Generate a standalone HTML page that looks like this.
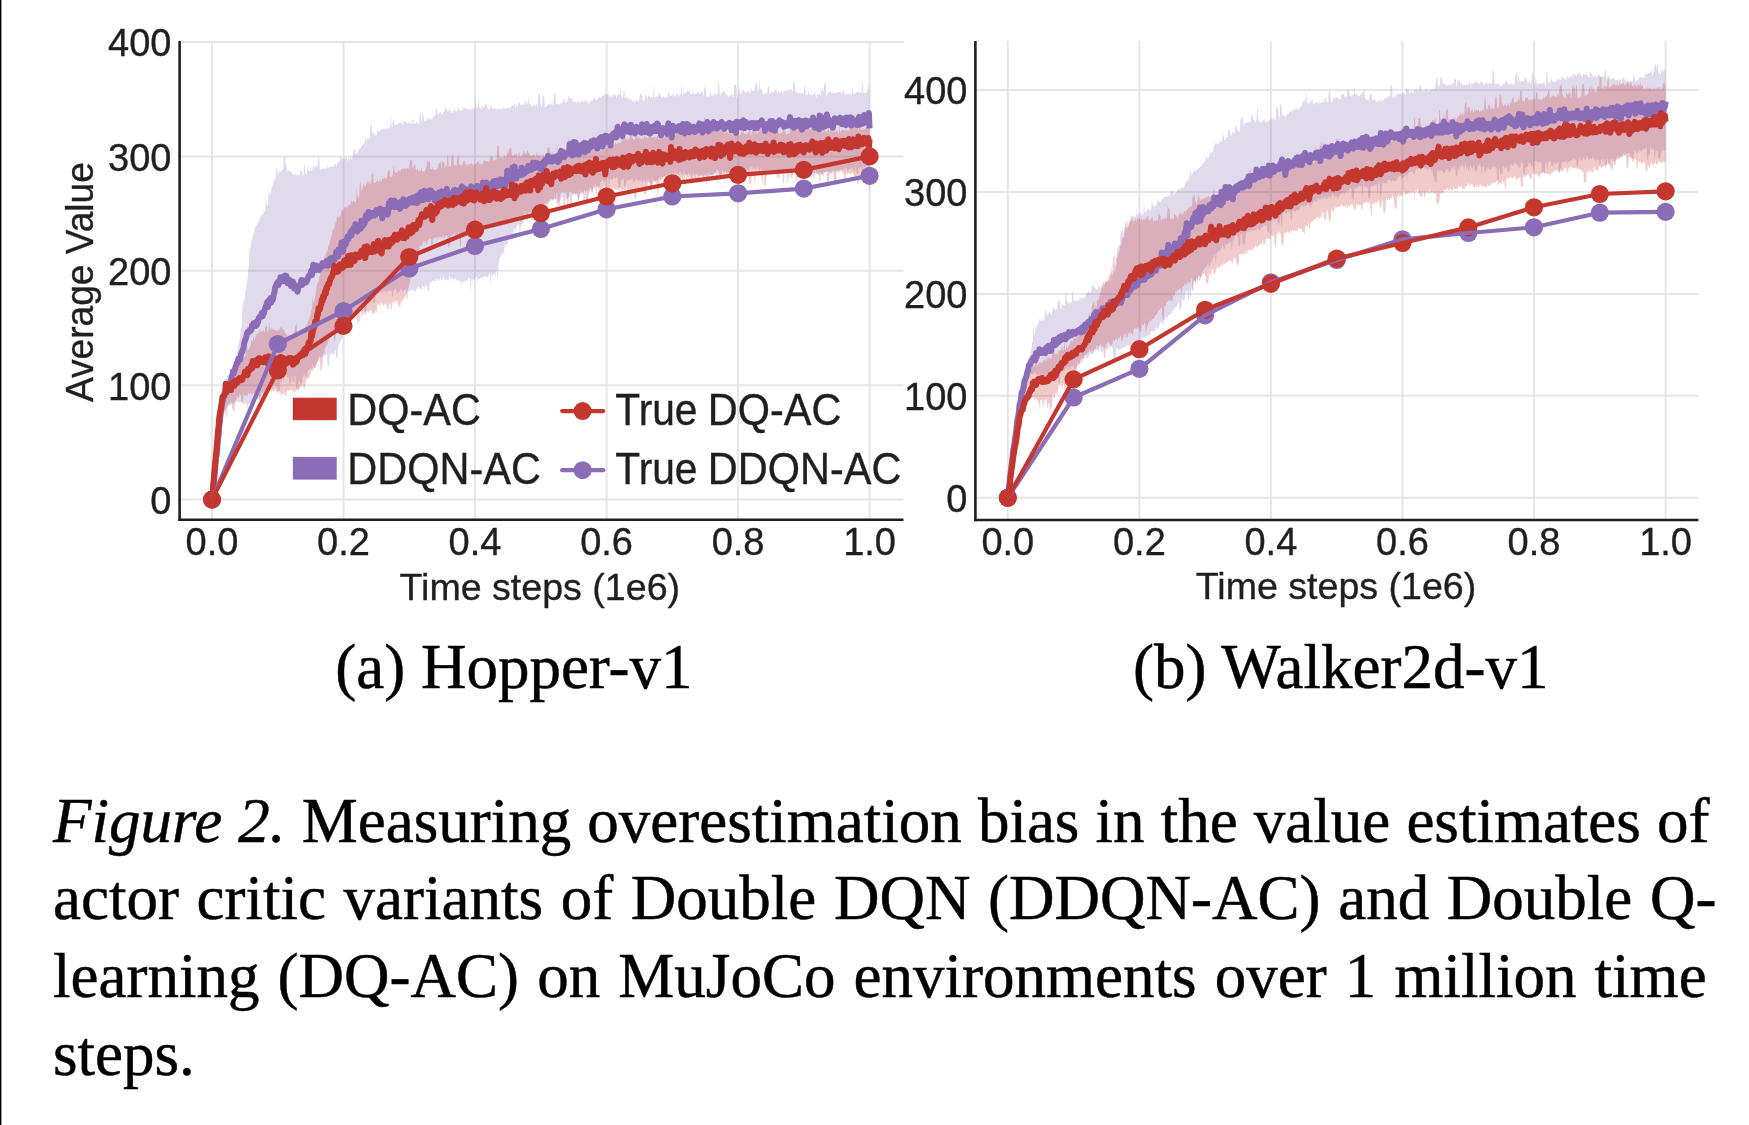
<!DOCTYPE html>
<html><head><meta charset="utf-8"><style>
html,body{margin:0;padding:0;background:#fff;}
svg,.cap{will-change:transform;}
body{width:1749px;height:1125px;position:relative;overflow:hidden;}
svg{position:absolute;left:0;top:0;}
.cap{position:absolute;left:53px;width:1660px;font-family:"Liberation Serif",serif;font-size:63px;color:#000;
 text-align:justify;text-align-last:justify;white-space:nowrap;line-height:1;-webkit-text-stroke:0.5px #000;}
.cap1{text-align-last:left;}
</style></head><body>
<svg width="1749" height="1125" viewBox="0 0 1749 1125">
<rect x="0" y="0" width="1.4" height="1125" fill="#000"/>

<line x1="212" y1="41" x2="212" y2="519.8" stroke="#e6e6e6" stroke-width="2"/>
<line x1="343.5" y1="41" x2="343.5" y2="519.8" stroke="#e6e6e6" stroke-width="2"/>
<line x1="475" y1="41" x2="475" y2="519.8" stroke="#e6e6e6" stroke-width="2"/>
<line x1="606.6" y1="41" x2="606.6" y2="519.8" stroke="#e6e6e6" stroke-width="2"/>
<line x1="738.1" y1="41" x2="738.1" y2="519.8" stroke="#e6e6e6" stroke-width="2"/>
<line x1="869.6" y1="41" x2="869.6" y2="519.8" stroke="#e6e6e6" stroke-width="2"/>
<line x1="180.4" y1="499.6" x2="903.5" y2="499.6" stroke="#e6e6e6" stroke-width="2"/>
<line x1="180.4" y1="385.2" x2="903.5" y2="385.2" stroke="#e6e6e6" stroke-width="2"/>
<line x1="180.4" y1="270.8" x2="903.5" y2="270.8" stroke="#e6e6e6" stroke-width="2"/>
<line x1="180.4" y1="156.4" x2="903.5" y2="156.4" stroke="#e6e6e6" stroke-width="2"/>
<line x1="180.4" y1="42" x2="903.5" y2="42" stroke="#e6e6e6" stroke-width="2"/>
<path d="M212,499.6 212.7,488.6 213.3,478 214,468 214.6,458.5 215.3,449.8 215.9,441.4 216.6,433.8 217.3,427.9 217.9,421.8 218.6,415.5 219.2,409.6 219.9,405.1 220.5,401.1 221.2,396.7 221.9,393 222.5,391.1 223.2,389.3 223.8,388.6 224.5,386.6 225.2,385.8 225.8,378.6 226.5,378.3 227.1,375.6 227.8,374.5 228.4,379.1 229.1,380.7 229.8,377.5 230.4,375.8 231.1,374.2 231.7,374.9 232.4,371.8 233,370.5 233.7,368 234.4,363.1 235,362.9 235.7,359 236.3,354.7 237,353.4 237.6,349.4 238.3,345.6 239,342 239.6,339.8 240.3,334.2 240.9,328.5 241.6,328.1 242.2,308.7 242.9,305.1 243.6,301.2 244.2,299.3 244.9,300.7 245.5,288.4 246.2,290.1 246.9,283.6 247.5,278.6 248.2,271.3 248.8,265.2 249.5,250.5 250.1,248.7 250.8,245.9 251.5,241.1 252.1,239.1 252.8,235.7 253.4,235.1 254.1,232.1 254.7,228.4 255.4,226.5 256.1,224.6 256.7,226.4 257.4,224.4 258,221.2 258.7,223.4 259.3,220.2 260,218.5 260.7,215.6 261.3,215.2 262,215.5 262.6,214.7 263.3,213.7 264,210.6 264.6,212.3 265.3,211.3 265.9,197.4 266.6,205.6 267.2,204.4 267.9,207.2 268.6,191.6 269.2,189.4 269.9,196.3 270.5,193.7 271.2,191.3 271.8,187.3 272.5,185.7 273.2,181.3 273.8,180.7 274.5,178.5 275.1,179.9 275.8,176.7 276.4,168.1 277.1,167.6 277.8,174.7 278.4,174.6 279.1,172.5 279.7,169 280.4,172.4 281,171.6 281.7,170.1 282.4,169.4 283,170 283.7,158 284.3,156.8 285,157.1 285.7,164.2 286.3,163.1 287,170.2 287.6,171.8 288.3,170.3 288.9,172.1 289.6,170 290.3,171.3 290.9,171.8 291.6,173 292.2,172.8 292.9,175.5 293.5,174.7 294.2,173.1 294.9,176.7 295.5,173.1 296.2,176.7 296.8,173.7 297.5,176 298.1,174 298.8,174.4 299.5,177.2 300.1,173.6 300.8,169.3 301.4,171.2 302.1,171.4 302.7,175 303.4,175.8 304.1,164 304.7,165.9 305.4,173.8 306,174.5 306.7,173.9 307.4,169 308,165.4 308.7,172.3 309.3,170.5 310,171.4 310.6,166.9 311.3,171.2 312,171.3 312.6,167.8 313.3,166.5 313.9,166.2 314.6,167.4 315.2,166.5 315.9,167.2 316.6,165.7 317.2,166.1 317.9,164.1 318.5,155.1 319.2,158.8 319.8,169.1 320.5,169.6 321.2,171 321.8,167.8 322.5,168.7 323.1,168.6 323.8,169.6 324.4,168 325.1,169.2 325.8,167.4 326.4,168.5 327.1,168.5 327.7,165.1 328.4,168.5 329.1,167.3 329.7,167.5 330.4,166.6 331,166.4 331.7,166 332.3,166.9 333,166.5 333.7,165.9 334.3,164.1 335,164.5 335.6,164.5 336.3,165.4 336.9,166.2 337.6,162.8 338.3,162.5 338.9,160.2 339.6,162.5 340.2,157.8 340.9,157.4 341.5,157 342.2,162.5 342.9,156.4 343.5,159.7 344.2,156.6 344.8,156.7 345.5,159.1 346.2,157.4 346.8,157.6 347.5,160.6 348.1,161 348.8,157.3 349.4,159.3 350.1,157.6 350.8,156 351.4,158.7 352.1,158.9 352.7,155.3 353.4,149.9 354,149.7 354.7,148.8 355.4,154.7 356,154.8 356.7,152.4 357.3,152.6 358,152.7 358.6,149.1 359.3,149 360,147.5 360.6,148.4 361.3,146.4 361.9,146 362.6,145 363.2,143.6 363.9,144.1 364.6,141.9 365.2,139.6 365.9,136.7 366.5,142 367.2,138.3 367.9,138.9 368.5,138.1 369.2,139.4 369.8,137.5 370.5,124.8 371.1,125.4 371.8,124.6 372.5,135.2 373.1,131.2 373.8,132.3 374.4,136.3 375.1,134 375.7,135.2 376.4,136.1 377.1,132.2 377.7,129.5 378.4,130.8 379,132.6 379.7,132 380.3,129 381,130 381.7,129.9 382.3,129.8 383,129.4 383.6,128.2 384.3,128.3 384.9,128.5 385.6,130 386.3,127.7 386.9,129.1 387.6,126.6 388.2,129.4 388.9,127.7 389.6,127.3 390.2,128.8 390.9,112.5 391.5,124.6 392.2,126.9 392.8,119.6 393.5,119.9 394.2,123.5 394.8,124.8 395.5,124.9 396.1,124.5 396.8,125.7 397.4,124.4 398.1,124 398.8,122.1 399.4,123 400.1,123.2 400.7,121.1 401.4,123.7 402,123.4 402.7,125.2 403.4,120.7 404,121.5 404.7,121.6 405.3,122 406,122.8 406.6,122.8 407.3,123.5 408,123.5 408.6,123.3 409.3,121.5 409.9,122.9 410.6,123.8 411.3,124.5 411.9,124.6 412.6,115.9 413.2,123.1 413.9,123.7 414.5,124.1 415.2,123.9 415.9,122.4 416.5,121.1 417.2,122.5 417.8,123.3 418.5,123.1 419.1,122.5 419.8,112.5 420.5,110.5 421.1,123.1 421.8,120.7 422.4,114.3 423.1,112.3 423.7,119.2 424.4,121.3 425.1,121.5 425.7,120.2 426.4,120.2 427,121.2 427.7,119.1 428.4,116.8 429,119.5 429.7,119.2 430.3,120 431,117.9 431.6,119.6 432.3,119.1 433,115.7 433.6,118.2 434.3,115.3 434.9,114.4 435.6,115.7 436.2,109.8 436.9,107.6 437.6,115.2 438.2,115.4 438.9,111.6 439.5,114 440.2,111.8 440.8,112.2 441.5,114.4 442.2,114.1 442.8,113.4 443.5,112.1 444.1,112.6 444.8,108.6 445.4,108.4 446.1,109 446.8,108.5 447.4,111.3 448.1,111.6 448.7,110.7 449.4,108.8 450.1,110.4 450.7,111 451.4,113.2 452,110.4 452.7,113.4 453.3,112.6 454,109.6 454.7,109.4 455.3,110.4 456,112.4 456.6,110.9 457.3,111.2 457.9,109.4 458.6,107.2 459.3,109.8 459.9,111 460.6,111.4 461.2,109.8 461.9,109.9 462.5,111.1 463.2,106.7 463.9,108.2 464.5,107.8 465.2,107.8 465.8,107.7 466.5,109.6 467.1,108.2 467.8,109 468.5,109.3 469.1,109.1 469.8,110.3 470.4,110.5 471.1,107.5 471.8,108.8 472.4,108.2 473.1,107.1 473.7,110.7 474.4,109.4 475,108.1 475.7,95.8 476.4,108.8 477,106.9 477.7,107.9 478.3,97.7 479,109.3 479.6,107 480.3,107.4 481,110.4 481.6,106.1 482.3,107.1 482.9,106 483.6,108.2 484.2,108 484.9,104.4 485.6,104.2 486.2,104.3 486.9,105.4 487.5,108.3 488.2,107.3 488.8,109.7 489.5,108 490.2,106.3 490.8,109.2 491.5,103.9 492.1,107.3 492.8,109.1 493.5,108.5 494.1,108.5 494.8,108.1 495.4,108.8 496.1,109.2 496.7,108.6 497.4,109.6 498.1,110 498.7,108.5 499.4,107.3 500,110.4 500.7,108.5 501.3,109.3 502,109.7 502.7,107.4 503.3,109.1 504,106.4 504.6,109.3 505.3,107.8 505.9,108.5 506.6,109.1 507.3,107.2 507.9,108.1 508.6,106.9 509.2,107.6 509.9,108.8 510.6,107.4 511.2,107 511.9,105.6 512.5,105.6 513.2,104.3 513.8,106.3 514.5,103 515.2,107.2 515.8,108 516.5,105.5 517.1,103.8 517.8,107 518.4,103.1 519.1,102.5 519.8,102.8 520.4,104 521.1,105.4 521.7,105.2 522.4,103.4 523,105.1 523.7,103.6 524.4,105.4 525,96.9 525.7,106.5 526.3,101.7 527,104.6 527.6,103.9 528.3,96.2 529,104.1 529.6,104.3 530.3,101.9 530.9,105.8 531.6,106.5 532.3,105.9 532.9,106.3 533.6,103.6 534.2,103.6 534.9,105.9 535.5,106.4 536.2,105.1 536.9,102.9 537.5,108.4 538.2,93.2 538.8,95.3 539.5,92.6 540.1,95.4 540.8,105.5 541.5,107.2 542.1,106.5 542.8,94.1 543.4,94.9 544.1,96.5 544.7,106.6 545.4,108 546.1,106.1 546.7,105.7 547.4,105.7 548,103.5 548.7,104.8 549.3,103.4 550,105.5 550.7,103.7 551.3,102.9 552,105.4 552.6,104.1 553.3,105 554,93.5 554.6,93.6 555.3,92.5 555.9,105.6 556.6,103.3 557.2,104.1 557.9,103.4 558.6,103.8 559.2,104.4 559.9,104.2 560.5,103.1 561.2,103.4 561.8,102.5 562.5,102.7 563.2,99.8 563.8,97.8 564.5,99.5 565.1,103 565.8,100.7 566.4,102.9 567.1,100 567.8,101.7 568.4,96.3 569.1,96.6 569.7,96.5 570.4,99.1 571,98.2 571.7,98.5 572.4,97.7 573,103.2 573.7,101.3 574.3,101.5 575,101.8 575.7,102.3 576.3,101 577,104 577.6,101.3 578.3,101.6 578.9,101.6 579.6,101.6 580.3,102.9 580.9,102.4 581.6,101.3 582.2,100.6 582.9,100.9 583.5,103.1 584.2,101.4 584.9,100.6 585.5,100.7 586.2,98.1 586.8,103.9 587.5,100.5 588.1,101.8 588.8,104.8 589.5,100.9 590.1,103.1 590.8,99.2 591.4,101.7 592.1,99 592.8,100.9 593.4,99.8 594.1,97.7 594.7,97.7 595.4,99.6 596,99.5 596.7,100.6 597.4,99.6 598,97.9 598.7,97.7 599.3,97.8 600,96.4 600.6,98.4 601.3,97.2 602,95.9 602.6,95.9 603.3,95 603.9,95.7 604.6,94.2 605.2,93.1 605.9,94.7 606.6,95.4 607.2,93 607.9,93.7 608.5,94.8 609.2,97.4 609.8,95.6 610.5,95.8 611.2,96.2 611.8,98 612.5,95.5 613.1,93.9 613.8,94.7 614.5,96 615.1,95.3 615.8,94.4 616.4,99.1 617.1,95.8 617.7,95.1 618.4,95 619.1,93.9 619.7,94.9 620.4,84.1 621,96.3 621.7,95.9 622.3,97.8 623,97.4 623.7,91.5 624.3,90.4 625,98.1 625.6,98.2 626.3,98.1 626.9,96.8 627.6,98.8 628.3,97 628.9,100.4 629.6,99.5 630.2,99.8 630.9,98.7 631.5,98.5 632.2,102 632.9,101.4 633.5,100 634.2,101.4 634.8,102.7 635.5,99.5 636.2,100.3 636.8,100.4 637.5,101.8 638.1,99.9 638.8,101.5 639.4,99.8 640.1,94.7 640.8,94.5 641.4,93.1 642.1,94.1 642.7,99.9 643.4,100.2 644,101.6 644.7,100 645.4,95.6 646,93.7 646.7,95.5 647.3,99.6 648,97.1 648.6,95.3 649.3,95.5 650,97.7 650.6,97.2 651.3,95.2 651.9,97.1 652.6,98 653.2,96.4 653.9,83.8 654.6,97.3 655.2,96.2 655.9,97.9 656.5,95.2 657.2,97 657.9,96.2 658.5,95.8 659.2,92 659.8,93.3 660.5,95.6 661.1,97.5 661.8,97 662.5,97.9 663.1,95.2 663.8,96.8 664.4,97.9 665.1,97.4 665.7,97.3 666.4,96.2 667.1,99.2 667.7,94.1 668.4,93.3 669,89.5 669.7,94.7 670.3,96 671,96 671.7,94.2 672.3,97.1 673,91 673.6,94.9 674.3,95.7 675,95.3 675.6,96.7 676.3,93.3 676.9,93.4 677.6,94.7 678.2,94.3 678.9,97.6 679.6,94 680.2,94.8 680.9,93.8 681.5,82.5 682.2,94.5 682.8,96 683.5,92.7 684.2,94 684.8,93.8 685.5,92 686.1,91.5 686.8,93.9 687.4,89.3 688.1,92.5 688.8,91.3 689.4,90.1 690.1,92.6 690.7,95 691.4,93.6 692,94 692.7,93.4 693.4,92.7 694,95.5 694.7,92.5 695.3,95 696,92.8 696.7,93.5 697.3,93.9 698,91.4 698.6,92.2 699.3,92.5 699.9,94.1 700.6,94.6 701.3,91.4 701.9,91.5 702.6,93.6 703.2,94.6 703.9,96.6 704.5,86.1 705.2,88.2 705.9,88.3 706.5,96.7 707.2,96.3 707.8,97 708.5,96.6 709.1,96 709.8,95.1 710.5,91.5 711.1,94.5 711.8,96.5 712.4,95.3 713.1,94.9 713.7,97.1 714.4,92.8 715.1,94 715.7,94.7 716.4,94.7 717,92.6 717.7,95.3 718.4,82.1 719,82.7 719.7,92 720.3,96.3 721,94.6 721.6,94.3 722.3,92 723,92.1 723.6,91 724.3,92.5 724.9,89.5 725.6,94.3 726.2,94.9 726.9,93.5 727.6,95.5 728.2,97.2 728.9,95.2 729.5,96.8 730.2,95.9 730.8,94.8 731.5,95 732.2,93.5 732.8,95.9 733.5,97.7 734.1,84.8 734.8,85 735.4,85.4 736.1,83.2 736.8,96.5 737.4,98.1 738.1,94.5 738.7,89.8 739.4,89 740.1,94.6 740.7,93.7 741.4,94.2 742,92.4 742.7,90.4 743.3,90.1 744,89.8 744.7,91.9 745.3,92.7 746,92.6 746.6,91.7 747.3,92.5 747.9,89.4 748.6,91.2 749.3,92.7 749.9,93.2 750.6,91.2 751.2,86.2 751.9,91.6 752.5,90.5 753.2,91.5 753.9,89.9 754.5,91.6 755.2,84.4 755.8,83.2 756.5,81.2 757.2,85.9 757.8,91.7 758.5,92.3 759.1,78.3 759.8,89.4 760.4,88.6 761.1,88.2 761.8,89.6 762.4,92.6 763.1,92.8 763.7,95 764.4,94.3 765,93 765.7,92.4 766.4,92.9 767,95.1 767.7,88.1 768.3,86.5 769,86.9 769.6,93.1 770.3,94.2 771,92.2 771.6,90 772.3,90.8 772.9,94 773.6,91.1 774.2,92.6 774.9,88.4 775.6,90.5 776.2,88.6 776.9,93.4 777.5,92.8 778.2,89.2 778.9,91.4 779.5,92.9 780.2,92.3 780.8,91.6 781.5,90.3 782.1,92.4 782.8,93.9 783.5,91.9 784.1,91.3 784.8,91.1 785.4,89.4 786.1,90.6 786.7,89.7 787.4,92.1 788.1,89.7 788.7,88 789.4,89.7 790,90.4 790.7,90.5 791.3,88.5 792,92.1 792.7,91.1 793.3,82.3 794,82 794.6,83.7 795.3,91.2 795.9,92.1 796.6,91.8 797.3,92.4 797.9,93.9 798.6,92.7 799.2,91.8 799.9,94.5 800.6,93.8 801.2,92.8 801.9,94.2 802.5,92.7 803.2,94.6 803.8,93 804.5,85.2 805.2,85.7 805.8,95.2 806.5,94.1 807.1,95 807.8,95.1 808.4,90 809.1,93.8 809.8,93.9 810.4,95.4 811.1,93.5 811.7,95.1 812.4,96.2 813,94.9 813.7,94.3 814.4,91.9 815,91.3 815.7,95.8 816.3,97.9 817,93.9 817.6,94.1 818.3,94.8 819,94.9 819.6,93.6 820.3,95.5 820.9,95.8 821.6,89.6 822.3,87.7 822.9,91 823.6,93 824.2,83.3 824.9,83.8 825.5,80.6 826.2,94.3 826.9,95.7 827.5,94.3 828.2,92.5 828.8,92.1 829.5,92.3 830.1,91.1 830.8,90.6 831.5,94 832.1,92.6 832.8,93 833.4,93.6 834.1,93.5 834.7,92.8 835.4,92.8 836.1,93.7 836.7,93.5 837.4,91.6 838,92.9 838.7,92.1 839.4,91.8 840,92.7 840.7,90.7 841.3,94.9 842,92.9 842.6,92.8 843.3,90.1 844,90.4 844.6,95.3 845.3,95.8 845.9,92.7 846.6,93.6 847.2,93.7 847.9,94.8 848.6,94.1 849.2,93.8 849.9,94.7 850.5,93.2 851.2,97.4 851.8,93.5 852.5,87.6 853.2,92.9 853.8,94.3 854.5,95 855.1,93.2 855.8,91.8 856.4,92 857.1,92.7 857.8,90.6 858.4,92.5 859.1,91.7 859.7,93.1 860.4,91.5 861.1,92.8 861.7,92.9 862.4,79.9 863,91.2 863.7,93 864.3,92.9 865,92.7 865.7,92.3 866.3,93.2 867,91 867.6,87.9 868.3,91.6 868.9,81.2 869.6,91.6 L869.6,180.8 868.9,167.7 868.3,164.5 867.6,168 867,166.6 866.3,166.2 865.7,165.3 865,166.4 864.3,167.9 863.7,165 863,169.6 862.4,169.2 861.7,167.4 861.1,169.9 860.4,167 859.7,168.7 859.1,167.8 858.4,168.6 857.8,173.2 857.1,174.5 856.4,173.1 855.8,165.8 855.1,170.9 854.5,170.4 853.8,171.2 853.2,168.5 852.5,167.8 851.8,168.2 851.2,169.6 850.5,168.6 849.9,169.2 849.2,169.3 848.6,169.8 847.9,171 847.2,171.3 846.6,167.3 845.9,169.3 845.3,168.8 844.6,168.2 844,172.3 843.3,168.9 842.6,169.3 842,170.3 841.3,170.5 840.7,168.7 840,169.4 839.4,170.6 838.7,170.7 838,170.7 837.4,171.3 836.7,170.4 836.1,172 835.4,172.3 834.7,171.1 834.1,170.3 833.4,169.7 832.8,169.7 832.1,171.1 831.5,171.9 830.8,178.6 830.1,172.6 829.5,172 828.8,172.3 828.2,171.5 827.5,170 826.9,170.1 826.2,172.6 825.5,172.5 824.9,172.2 824.2,171.9 823.6,177.7 822.9,176 822.3,173.6 821.6,173.4 820.9,174.7 820.3,182.7 819.6,183.5 819,174.4 818.3,172.6 817.6,174.3 817,173.3 816.3,174 815.7,176.2 815,173.3 814.4,179 813.7,178.5 813,177.6 812.4,173.2 811.7,182.4 811.1,172.4 810.4,176 809.8,174.5 809.1,174.8 808.4,174.1 807.8,178.1 807.1,175.5 806.5,175.9 805.8,171.5 805.2,172.8 804.5,170.6 803.8,169.4 803.2,173.8 802.5,170.1 801.9,169.3 801.2,170.9 800.6,171 799.9,170.4 799.2,170.4 798.6,171.1 797.9,169 797.3,182.7 796.6,180.9 795.9,180.2 795.3,170 794.6,171.6 794,172.4 793.3,170.5 792.7,171.2 792,170.7 791.3,172.4 790.7,172.1 790,171.3 789.4,170.7 788.7,172.5 788.1,175.6 787.4,169 786.7,170.5 786.1,172.8 785.4,172.8 784.8,168.8 784.1,181.5 783.5,182.9 782.8,183.9 782.1,172.4 781.5,172.8 780.8,175.3 780.2,173 779.5,178.2 778.9,179.2 778.2,177.1 777.5,176 776.9,178 776.2,172.8 775.6,172.2 774.9,175.6 774.2,172.7 773.6,169.9 772.9,173.9 772.3,171.6 771.6,172.7 771,172.3 770.3,174.8 769.6,169.6 769,170.7 768.3,169.9 767.7,172.6 767,169.3 766.4,177.3 765.7,175.9 765,174.3 764.4,174.9 763.7,169.5 763.1,171.6 762.4,171.6 761.8,168.6 761.1,170.4 760.4,168 759.8,172 759.1,170.1 758.5,169 757.8,169 757.2,166.1 756.5,168 755.8,170.9 755.2,168.5 754.5,168.3 753.9,168.9 753.2,167.8 752.5,169.5 751.9,166.6 751.2,167.7 750.6,167.1 749.9,168.7 749.3,168.3 748.6,172 747.9,168.5 747.3,170.5 746.6,168 746,170.7 745.3,170.2 744.7,170.6 744,169.4 743.3,168.6 742.7,173.2 742,169.8 741.4,173.8 740.7,170.4 740.1,169.9 739.4,170.3 738.7,170.6 738.1,172.9 737.4,171.6 736.8,174 736.1,172.4 735.4,179.5 734.8,180.6 734.1,183.1 733.5,180.4 732.8,172 732.2,172.9 731.5,172.2 730.8,172.1 730.2,174.6 729.5,174 728.9,174.9 728.2,174.7 727.6,173.3 726.9,173.1 726.2,174.4 725.6,172.9 724.9,172.1 724.3,171.4 723.6,173.9 723,173.4 722.3,174 721.6,175.3 721,173 720.3,175.4 719.7,175.4 719,174.3 718.4,181 717.7,182.9 717,179.8 716.4,179.5 715.7,173.4 715.1,172.5 714.4,173.7 713.7,176.4 713.1,174.2 712.4,176.2 711.8,175.3 711.1,174.8 710.5,175.8 709.8,176.7 709.1,177.4 708.5,178.6 707.8,177.4 707.2,175.9 706.5,173.7 705.9,176 705.2,175.3 704.5,177 703.9,176.1 703.2,178.5 702.6,175.5 701.9,175 701.3,176.3 700.6,175.8 699.9,174.5 699.3,176.7 698.6,176.4 698,175.5 697.3,173.5 696.7,174.1 696,173.4 695.3,174.8 694.7,175.6 694,175 693.4,172.3 692.7,174.2 692,176.7 691.4,177.7 690.7,174.7 690.1,173.6 689.4,175.6 688.8,172 688.1,174.7 687.4,174.7 686.8,173.9 686.1,173.9 685.5,173.7 684.8,175.5 684.2,170.8 683.5,172.9 682.8,175.1 682.2,173.8 681.5,175.3 680.9,171.5 680.2,172.9 679.6,172.3 678.9,174.4 678.2,174.7 677.6,173.6 676.9,173.6 676.3,172.3 675.6,178.5 675,171.1 674.3,172.7 673.6,174.3 673,172.7 672.3,173 671.7,173.4 671,177.6 670.3,173.4 669.7,174.2 669,174.3 668.4,176.2 667.7,175.1 667.1,174.5 666.4,172.1 665.7,176.1 665.1,177.8 664.4,175.8 663.8,177.2 663.1,177.3 662.5,177.9 661.8,176.1 661.1,177.3 660.5,177.4 659.8,177.9 659.2,177.1 658.5,180 657.9,180.5 657.2,181.6 656.5,178.9 655.9,181.2 655.2,181.4 654.6,180 653.9,181.1 653.2,177.4 652.6,179.7 651.9,185.3 651.3,187.3 650.6,186.4 650,185.3 649.3,181.6 648.6,178.6 648,178.3 647.3,182.1 646.7,181.8 646,178.8 645.4,183.7 644.7,179.9 644,180.7 643.4,179.4 642.7,183.2 642.1,181.3 641.4,179.1 640.8,181 640.1,180.8 639.4,180 638.8,182.3 638.1,180.4 637.5,179.2 636.8,181.8 636.2,179.6 635.5,178.1 634.8,183.3 634.2,180.8 633.5,183.6 632.9,178.2 632.2,180.7 631.5,178.6 630.9,181.4 630.2,178.6 629.6,179.8 628.9,179.8 628.3,181.1 627.6,180 626.9,180 626.3,182.5 625.6,186.8 625,186.9 624.3,185.6 623.7,178.2 623,177.9 622.3,180 621.7,179.7 621,180.9 620.4,188.4 619.7,187.5 619.1,188.5 618.4,185.8 617.7,179.7 617.1,176.7 616.4,177 615.8,179.3 615.1,178.2 614.5,177.2 613.8,177 613.1,178.7 612.5,178.9 611.8,180.2 611.2,179 610.5,177.7 609.8,179.6 609.2,192.8 608.5,178.8 607.9,178.6 607.2,178 606.6,180.6 605.9,179.5 605.2,181.3 604.6,184 603.9,180.9 603.3,181.4 602.6,178.2 602,181.5 601.3,181 600.6,182.1 600,185.5 599.3,186.1 598.7,187.7 598,189.4 597.4,186.9 596.7,185.7 596,185.5 595.4,183.2 594.7,185.2 594.1,188 593.4,186.1 592.8,192.1 592.1,188.7 591.4,193.2 590.8,189.5 590.1,187.5 589.5,189.1 588.8,192.1 588.1,188.7 587.5,192.1 586.8,189.4 586.2,190.1 585.5,193.1 584.9,204.4 584.2,203.1 583.5,202.3 582.9,192.2 582.2,192.9 581.6,192.7 580.9,194.3 580.3,189.6 579.6,194.1 578.9,198.8 578.3,199.5 577.6,199.9 577,195.1 576.3,193.1 575.7,194.8 575,193.5 574.3,195.1 573.7,194.7 573,197.3 572.4,193.4 571.7,207.7 571,207.2 570.4,207.5 569.7,197.4 569.1,197.4 568.4,197.4 567.8,198.2 567.1,198.2 566.4,199.8 565.8,196.4 565.1,209.9 564.5,209.2 563.8,211.3 563.2,197.9 562.5,196.5 561.8,198.4 561.2,195.7 560.5,200.3 559.9,202.3 559.2,198.6 558.6,198.1 557.9,204.1 557.2,204.1 556.6,202.2 555.9,199.8 555.3,199 554.6,199.3 554,198.2 553.3,199.9 552.6,199.9 552,201.2 551.3,198.8 550.7,201 550,202.1 549.3,201.8 548.7,202.1 548,201.2 547.4,201.5 546.7,202.7 546.1,207.1 545.4,202.9 544.7,204 544.1,205.1 543.4,205.4 542.8,212 542.1,210.8 541.5,204.9 540.8,206.5 540.1,210.6 539.5,207.7 538.8,206.7 538.2,211.3 537.5,208.4 536.9,209.8 536.2,209.7 535.5,211.3 534.9,212.3 534.2,212.7 533.6,213.4 532.9,213.1 532.3,220.5 531.6,221.2 530.9,215 530.3,215.5 529.6,215.3 529,217.2 528.3,216.3 527.6,215.6 527,217.5 526.3,216.8 525.7,219.3 525,218.2 524.4,220.9 523.7,219.4 523,218 522.4,218.9 521.7,221.1 521.1,220.7 520.4,233 519.8,235.2 519.1,223.7 518.4,225.5 517.8,224.6 517.1,225.8 516.5,227 515.8,232.2 515.2,229 514.5,227.6 513.8,230 513.2,232.7 512.5,234.4 511.9,246.9 511.2,234.7 510.6,237.2 509.9,238.3 509.2,237.9 508.6,239.5 507.9,242.8 507.3,243.9 506.6,245.8 505.9,244.1 505.3,246.3 504.6,246.8 504,251.6 503.3,253.9 502.7,254.1 502,252.5 501.3,255.8 500.7,256.7 500,257.2 499.4,260.9 498.7,264.3 498.1,273 497.4,278 496.7,270.6 496.1,270.8 495.4,278.2 494.8,273.1 494.1,274 493.5,273.8 492.8,275.7 492.1,275.4 491.5,272.4 490.8,286.8 490.2,275.4 489.5,272.7 488.8,275.3 488.2,275.5 487.5,278.3 486.9,277.4 486.2,276 485.6,276.6 484.9,276.7 484.2,275.5 483.6,277.4 482.9,278 482.3,276.8 481.6,278 481,276.8 480.3,278.3 479.6,279.2 479,278.3 478.3,279 477.7,281.8 477,277.6 476.4,276.2 475.7,278.3 475,278.2 474.4,279.9 473.7,280 473.1,279 472.4,281.1 471.8,278.2 471.1,281 470.4,293.1 469.8,280.6 469.1,277.8 468.5,278.3 467.8,280.2 467.1,281 466.5,281.5 465.8,279.8 465.2,280.3 464.5,282.1 463.9,282.6 463.2,280.9 462.5,281.6 461.9,280.7 461.2,287.3 460.6,279.9 459.9,280.5 459.3,283 458.6,279.6 457.9,280.5 457.3,279.7 456.6,281.1 456,278.9 455.3,279 454.7,278.6 454,279 453.3,278.9 452.7,279.5 452,277.6 451.4,278.8 450.7,281.5 450.1,277.5 449.4,275.9 448.7,280.5 448.1,280.5 447.4,279.4 446.8,279.5 446.1,279.9 445.4,280 444.8,278.3 444.1,280.5 443.5,275.8 442.8,278.3 442.2,280.8 441.5,280.2 440.8,277 440.2,278.2 439.5,281.4 438.9,280 438.2,278.8 437.6,278.3 436.9,280.9 436.2,280.7 435.6,277.4 434.9,283.2 434.3,280.4 433.6,281.1 433,280.4 432.3,280.4 431.6,284.1 431,281.5 430.3,282.1 429.7,283.5 429,290 428.4,292.3 427.7,290.7 427,284.3 426.4,286.2 425.7,285 425.1,287.1 424.4,287.8 423.7,287.4 423.1,286.4 422.4,284.8 421.8,288.5 421.1,289.6 420.5,288 419.8,290.3 419.1,286.3 418.5,287.4 417.8,286.4 417.2,290.7 416.5,287.4 415.9,290 415.2,292.6 414.5,291.2 413.9,290.2 413.2,290.4 412.6,290 411.9,291.1 411.3,289.1 410.6,291.6 409.9,290.2 409.3,291.6 408.6,290.2 408,299.5 407.3,297.8 406.6,299.5 406,288.2 405.3,289.6 404.7,290.4 404,290.7 403.4,291.1 402.7,292.2 402,288.8 401.4,289.6 400.7,288.6 400.1,291.9 399.4,291.1 398.8,291.9 398.1,293.2 397.4,292.6 396.8,293.5 396.1,289.2 395.5,288 394.8,290 394.2,290.2 393.5,291.1 392.8,297.4 392.2,296.6 391.5,290.7 390.9,291.2 390.2,289.2 389.6,290.7 388.9,291.6 388.2,290.8 387.6,289.8 386.9,294.2 386.3,291.6 385.6,291.1 384.9,289.9 384.3,292.5 383.6,291.3 383,290.1 382.3,294.4 381.7,290.8 381,291.7 380.3,293.1 379.7,291.6 379,292.3 378.4,294.7 377.7,290.1 377.1,293.5 376.4,293.6 375.7,292.4 375.1,301.4 374.4,303.2 373.8,302.2 373.1,303.2 372.5,297.6 371.8,300.5 371.1,301.5 370.5,301.9 369.8,303.8 369.2,299.8 368.5,300.7 367.9,301.2 367.2,301.5 366.5,313.6 365.9,316 365.2,314.7 364.6,315.4 363.9,304.1 363.2,304.7 362.6,317.1 361.9,315.3 361.3,320.4 360.6,307.4 360,306.7 359.3,306.9 358.6,308.1 358,307.8 357.3,308.5 356.7,312.5 356,310.7 355.4,311 354.7,313 354,314.3 353.4,313.3 352.7,315.8 352.1,315.2 351.4,318.5 350.8,320.8 350.1,322.5 349.4,325.2 348.8,323.6 348.1,323.9 347.5,324 346.8,327 346.2,329.7 345.5,330.8 344.8,329.2 344.2,331.2 343.5,332 342.9,335.7 342.2,338.4 341.5,339.8 340.9,340 340.2,343.5 339.6,342.7 338.9,346 338.3,344.8 337.6,357.9 336.9,357.2 336.3,359.1 335.6,350.6 335,350.6 334.3,353.8 333.7,354.9 333,355.1 332.3,352.8 331.7,353.5 331,356.1 330.4,353.9 329.7,354.4 329.1,366.6 328.4,367.1 327.7,365 327.1,353.7 326.4,354 325.8,356.1 325.1,354.6 324.4,356 323.8,357.5 323.1,355.3 322.5,357.5 321.8,355.6 321.2,357.9 320.5,358.5 319.8,356.6 319.2,356 318.5,357.2 317.9,361.7 317.2,361.5 316.6,364.7 315.9,364.6 315.2,366 314.6,368.7 313.9,368.5 313.3,364.5 312.6,364.6 312,367.2 311.3,369.2 310.6,368 310,370 309.3,369.6 308.7,370.4 308,369.7 307.4,373.2 306.7,376.6 306,378.9 305.4,375.2 304.7,375.1 304.1,373 303.4,376.4 302.7,376.5 302.1,382.9 301.4,383.8 300.8,383 300.1,384 299.5,381.2 298.8,378.4 298.1,388.4 297.5,388.4 296.8,388.9 296.2,389.2 295.5,375.9 294.9,376.1 294.2,384.1 293.5,381.9 292.9,382.5 292.2,375.5 291.6,375.8 290.9,384.3 290.3,381.8 289.6,386.2 288.9,377.6 288.3,377 287.6,376.9 287,377.2 286.3,374 285.7,375.2 285,376.8 284.3,377.4 283.7,381.3 283,379.1 282.4,377.4 281.7,383.1 281,383.4 280.4,380.5 279.7,391.2 279.1,392.6 278.4,393.2 277.8,395.1 277.1,383.6 276.4,388.5 275.8,386.8 275.1,385.5 274.5,384.4 273.8,386.5 273.2,388.1 272.5,388.7 271.8,390.6 271.2,388.9 270.5,389.9 269.9,389 269.2,390.1 268.6,390.6 267.9,391 267.2,394.5 266.6,391.8 265.9,394.2 265.3,394 264.6,397.4 264,399.3 263.3,394.7 262.6,394.7 262,397.4 261.3,398.3 260.7,401.3 260,397.7 259.3,400.2 258.7,399.2 258,400.1 257.4,399.5 256.7,398.2 256.1,400.1 255.4,401.5 254.7,401.3 254.1,402.8 253.4,402.6 252.8,401.9 252.1,402.5 251.5,403.1 250.8,404.1 250.1,404.3 249.5,402.9 248.8,403.6 248.2,403.3 247.5,408.5 246.9,407.9 246.2,402.7 245.5,404.1 244.9,402.7 244.2,401.8 243.6,405.9 242.9,403 242.2,404.1 241.6,400.9 240.9,401.8 240.3,402.2 239.6,401.8 239,403.1 238.3,403 237.6,401.2 237,400.5 236.3,401.5 235.7,402.7 235,405.4 234.4,401.9 233.7,402.6 233,403.4 232.4,403.7 231.7,403.5 231.1,404.6 230.4,405.7 229.8,406.8 229.1,404.1 228.4,404.6 227.8,406.5 227.1,417.1 226.5,417 225.8,416.7 225.2,408.9 224.5,409.6 223.8,410.4 223.2,410 222.5,413.6 221.9,413.5 221.2,413.1 220.5,414.1 219.9,419.2 219.2,422.8 218.6,428.5 217.9,433 217.3,440.1 216.6,445.9 215.9,452.3 215.3,459 214.6,467.1 214,476 213.3,483.2 212.7,491.4 212,499.6Z" fill="#8b6cb7" fill-opacity="0.26"/>
<path d="M212,499.6 212.7,491.2 213.3,483 214,475.5 214.6,467.9 215.3,460.4 215.9,453.6 216.6,447.9 217.3,441.7 217.9,436.1 218.6,430.6 219.2,425.8 219.9,421.7 220.5,415.2 221.2,411.1 221.9,408.5 222.5,406.2 223.2,400 223.8,398.2 224.5,394.8 225.2,398.5 225.8,394.7 226.5,394.3 227.1,391 227.8,389.9 228.4,389 229.1,387.8 229.8,383.9 230.4,382.5 231.1,380.5 231.7,377.7 232.4,378.1 233,376.6 233.7,375.8 234.4,374.3 235,373.6 235.7,371.8 236.3,366.8 237,370.6 237.6,366.6 238.3,366.4 239,365.6 239.6,365.9 240.3,363.1 240.9,363 241.6,362.6 242.2,360.2 242.9,359.5 243.6,358.6 244.2,355.8 244.9,356.9 245.5,353.8 246.2,344.8 246.9,342.3 247.5,350.7 248.2,349.3 248.8,349.6 249.5,348 250.1,346.9 250.8,344.2 251.5,339.7 252.1,340.5 252.8,341.4 253.4,336.7 254.1,337.8 254.7,340.2 255.4,337.5 256.1,333.7 256.7,334 257.4,336.2 258,331.6 258.7,332.8 259.3,333.5 260,327.9 260.7,331.4 261.3,331.9 262,330.4 262.6,331.8 263.3,328.6 264,332.4 264.6,332 265.3,326.2 265.9,326.9 266.6,323.9 267.2,332.2 267.9,331 268.6,329.6 269.2,322.4 269.9,328.5 270.5,329.3 271.2,326.8 271.8,330.2 272.5,329.3 273.2,328.4 273.8,329.9 274.5,329.9 275.1,330.1 275.8,330.3 276.4,331 277.1,330.2 277.8,331.6 278.4,329.2 279.1,332 279.7,327.5 280.4,328.2 281,326 281.7,328 282.4,328.9 283,328.3 283.7,330 284.3,329.9 285,333.8 285.7,331.9 286.3,334.7 287,333.9 287.6,336.7 288.3,335.7 288.9,334.6 289.6,336.1 290.3,336.5 290.9,335.2 291.6,336.6 292.2,335.1 292.9,335.5 293.5,331.8 294.2,336.4 294.9,327 295.5,326.6 296.2,323.6 296.8,325.9 297.5,337.1 298.1,335.2 298.8,336 299.5,334.5 300.1,335.7 300.8,333.6 301.4,332 302.1,329.8 302.7,332.4 303.4,328 304.1,328.6 304.7,329.1 305.4,325.1 306,327.8 306.7,323.6 307.4,325.1 308,320.4 308.7,320.5 309.3,320.1 310,316 310.6,313.4 311.3,310.8 312,307.7 312.6,297.7 313.3,303.6 313.9,300.6 314.6,299.3 315.2,297.3 315.9,292.3 316.6,287 317.2,283.7 317.9,282.7 318.5,282.6 319.2,276.2 319.8,277 320.5,269.5 321.2,268.3 321.8,267.3 322.5,265.4 323.1,263.7 323.8,259.6 324.4,256.5 325.1,257.7 325.8,254.2 326.4,252.2 327.1,252.2 327.7,250.6 328.4,245.1 329.1,245.4 329.7,242.5 330.4,240.5 331,237.8 331.7,236 332.3,231.9 333,228.9 333.7,228.9 334.3,228.1 335,224.3 335.6,223.3 336.3,220.7 336.9,217 337.6,215.7 338.3,217.1 338.9,217.9 339.6,214.4 340.2,217.3 340.9,214.3 341.5,209.6 342.2,209.7 342.9,211.5 343.5,211 344.2,207.1 344.8,207.6 345.5,208.2 346.2,206.2 346.8,206.9 347.5,208 348.1,204 348.8,205.4 349.4,205.3 350.1,205.3 350.8,202.8 351.4,200.5 352.1,201.5 352.7,202.2 353.4,200 354,201.5 354.7,201.4 355.4,202.5 356,200.8 356.7,185.8 357.3,193.9 358,198.6 358.6,197.4 359.3,194.7 360,181.5 360.6,181.9 361.3,191.9 361.9,190.3 362.6,187.5 363.2,185 363.9,183.1 364.6,187.3 365.2,186.5 365.9,185 366.5,183.5 367.2,180.3 367.9,185 368.5,182.3 369.2,181.2 369.8,184.2 370.5,184.7 371.1,182.1 371.8,174.1 372.5,173.2 373.1,174.2 373.8,183 374.4,182.6 375.1,183.3 375.7,183.1 376.4,181.5 377.1,181.3 377.7,179.1 378.4,182.3 379,181.6 379.7,182.2 380.3,179.4 381,180.9 381.7,181.6 382.3,178 383,178.8 383.6,179.3 384.3,176.5 384.9,179.3 385.6,177.7 386.3,178.2 386.9,178.3 387.6,170.9 388.2,172.1 388.9,169.4 389.6,169.7 390.2,176.4 390.9,176.8 391.5,177.2 392.2,177.1 392.8,174.4 393.5,166.1 394.2,167.6 394.8,173.1 395.5,171.4 396.1,173.8 396.8,172.6 397.4,173.1 398.1,169.8 398.8,170.5 399.4,171 400.1,172.2 400.7,169.9 401.4,168.1 402,169.5 402.7,169.4 403.4,167.8 404,170.1 404.7,168.3 405.3,167.5 406,169.2 406.6,169.2 407.3,167.9 408,168.4 408.6,168.7 409.3,168.3 409.9,158.9 410.6,160.5 411.3,160.4 411.9,159.2 412.6,168 413.2,167.9 413.9,166.2 414.5,163.9 415.2,164.4 415.9,170.4 416.5,169.9 417.2,169.5 417.8,168.4 418.5,172.2 419.1,170.1 419.8,171.1 420.5,171.3 421.1,167.9 421.8,168.4 422.4,172.3 423.1,171.4 423.7,170.7 424.4,172.7 425.1,168.5 425.7,170.9 426.4,166.8 427,162 427.7,160 428.4,162.2 429,162.4 429.7,159.7 430.3,169 431,168.9 431.6,169.9 432.3,166.7 433,169.6 433.6,169.2 434.3,169.5 434.9,169.7 435.6,170.4 436.2,170.3 436.9,168.6 437.6,168.8 438.2,166.7 438.9,163.4 439.5,162.9 440.2,163.4 440.8,160.1 441.5,169.5 442.2,162 442.8,161 443.5,162.9 444.1,161.6 444.8,168.1 445.4,165.8 446.1,167.3 446.8,164.8 447.4,154.6 448.1,155.5 448.7,165.2 449.4,165.9 450.1,166.9 450.7,166.8 451.4,157.9 452,156.2 452.7,153.2 453.3,156.7 454,165.2 454.7,166.4 455.3,164.5 456,164.9 456.6,165.7 457.3,157.9 457.9,156.2 458.6,153.9 459.3,165.3 459.9,164.1 460.6,165.4 461.2,167.1 461.9,164 462.5,164 463.2,161.8 463.9,161.5 464.5,160.5 465.2,164.9 465.8,163.6 466.5,164.3 467.1,167 467.8,164.1 468.5,164.7 469.1,165 469.8,163.4 470.4,164.6 471.1,163.3 471.8,162.6 472.4,163.9 473.1,166 473.7,165 474.4,162.9 475,164.4 475.7,165.1 476.4,162.9 477,162.1 477.7,162.3 478.3,160.8 479,162.5 479.6,163.9 480.3,163.8 481,163.3 481.6,165.8 482.3,163.3 482.9,164.5 483.6,160.8 484.2,160.4 484.9,160.1 485.6,161 486.2,162.5 486.9,160.4 487.5,161.7 488.2,160.5 488.8,162.2 489.5,161.6 490.2,157.1 490.8,155.2 491.5,157.3 492.1,157.2 492.8,156.4 493.5,161.5 494.1,159.7 494.8,160.7 495.4,159.5 496.1,159.8 496.7,159.1 497.4,145.6 498.1,145.4 498.7,146.1 499.4,158.3 500,157.9 500.7,157.7 501.3,157 502,157.5 502.7,156.7 503.3,158.8 504,155.9 504.6,154.5 505.3,156.3 505.9,158.2 506.6,154.4 507.3,151.3 507.9,154.6 508.6,150.8 509.2,148.6 509.9,148.7 510.6,147.5 511.2,148.2 511.9,154.9 512.5,155.4 513.2,156.3 513.8,154.6 514.5,154 515.2,155.1 515.8,154.5 516.5,153.1 517.1,157.2 517.8,157.3 518.4,155.1 519.1,151.7 519.8,155.4 520.4,157.8 521.1,154.8 521.7,156.6 522.4,154 523,155 523.7,151.1 524.4,150.6 525,155.6 525.7,153.8 526.3,153.3 527,151.2 527.6,150 528.3,152.5 529,153.8 529.6,154.7 530.3,156.3 530.9,155.2 531.6,155.8 532.3,155.9 532.9,155.2 533.6,154 534.2,155.8 534.9,155.3 535.5,157.4 536.2,153.6 536.9,152.3 537.5,154.7 538.2,155.1 538.8,155.5 539.5,156.1 540.1,154.9 540.8,157.5 541.5,157.4 542.1,154.5 542.8,156.8 543.4,153.3 544.1,157.4 544.7,154.9 545.4,156.8 546.1,154.9 546.7,156.4 547.4,147.5 548,147.6 548.7,147.8 549.3,146.4 550,152.3 550.7,154.8 551.3,152.7 552,153.6 552.6,153.6 553.3,150.6 554,156 554.6,154 555.3,155.3 555.9,153.3 556.6,151.5 557.2,146.8 557.9,152.2 558.6,150.3 559.2,150.9 559.9,151.7 560.5,150.5 561.2,149 561.8,150.9 562.5,152.3 563.2,151 563.8,153.6 564.5,152.7 565.1,152.1 565.8,151.8 566.4,153.6 567.1,152.8 567.8,152.5 568.4,140.5 569.1,139.3 569.7,139.9 570.4,139.7 571,153.6 571.7,152.9 572.4,151 573,153.3 573.7,150.7 574.3,151.6 575,151.2 575.7,149 576.3,150.5 577,150.6 577.6,150.6 578.3,149.4 578.9,145.7 579.6,151.8 580.3,149 580.9,148.2 581.6,146.5 582.2,148.1 582.9,142.9 583.5,138 584.2,141.1 584.9,139.8 585.5,150.2 586.2,149.9 586.8,149.2 587.5,147.5 588.1,147.6 588.8,149.6 589.5,148.2 590.1,149.5 590.8,149 591.4,148.9 592.1,148.5 592.8,147.1 593.4,146.6 594.1,146.2 594.7,146.4 595.4,141.8 596,138.6 596.7,141.4 597.4,139.8 598,149.5 598.7,148.1 599.3,152.5 600,146.9 600.6,149.8 601.3,151 602,149.2 602.6,146.3 603.3,148.4 603.9,150.5 604.6,149.4 605.2,146.9 605.9,150.2 606.6,148.5 607.2,148.4 607.9,145 608.5,141.7 609.2,145.6 609.8,147.9 610.5,147.8 611.2,145.2 611.8,145.4 612.5,148.1 613.1,144.7 613.8,144.4 614.5,145.7 615.1,143.3 615.8,142.9 616.4,144.5 617.1,144.3 617.7,143 618.4,142.1 619.1,143.2 619.7,142.3 620.4,143.9 621,141.6 621.7,141.6 622.3,135.8 623,133.1 623.7,131.5 624.3,132.1 625,140.2 625.6,136.7 626.3,137.9 626.9,140.2 627.6,140.8 628.3,139.9 628.9,138.1 629.6,139.1 630.2,128.3 630.9,128.5 631.5,128.2 632.2,138.8 632.9,137.1 633.5,140.8 634.2,139.4 634.8,139.9 635.5,134.8 636.2,133.3 636.8,136.1 637.5,138.6 638.1,138 638.8,135 639.4,138.3 640.1,138 640.8,139.2 641.4,138.9 642.1,137.8 642.7,138.9 643.4,138.2 644,136.7 644.7,135.4 645.4,139.2 646,136.5 646.7,136.9 647.3,138.8 648,137.7 648.6,137.7 649.3,124.8 650,124.7 650.6,127.3 651.3,139.3 651.9,136.3 652.6,137.5 653.2,137.1 653.9,137.2 654.6,135.7 655.2,139.3 655.9,136.3 656.5,138.8 657.2,135.1 657.9,136 658.5,139.4 659.2,137.1 659.8,137.9 660.5,137.8 661.1,137.3 661.8,138.6 662.5,138.3 663.1,134.8 663.8,134.4 664.4,137.2 665.1,138.3 665.7,133.2 666.4,134.6 667.1,135.3 667.7,136.9 668.4,136.1 669,134.9 669.7,136.3 670.3,132.8 671,134.6 671.7,134.1 672.3,130.9 673,130.7 673.6,135.4 674.3,129.3 675,134.6 675.6,134.6 676.3,133.8 676.9,133.9 677.6,132.3 678.2,134.4 678.9,129.1 679.6,127.9 680.2,126 680.9,128.5 681.5,133.8 682.2,134.3 682.8,133.2 683.5,133.2 684.2,134.4 684.8,133.5 685.5,131.8 686.1,131.4 686.8,131.4 687.4,131.2 688.1,127.9 688.8,127.7 689.4,125.8 690.1,128.2 690.7,131.1 691.4,133.1 692,131 692.7,131.2 693.4,131.6 694,129.2 694.7,130.7 695.3,130.1 696,129.8 696.7,130.3 697.3,127.5 698,129.8 698.6,128.9 699.3,122.3 699.9,121.2 700.6,121 701.3,121 701.9,129.9 702.6,123.4 703.2,121.7 703.9,123.8 704.5,117.4 705.2,117.7 705.9,126 706.5,127.2 707.2,128.5 707.8,128.4 708.5,128.4 709.1,129.4 709.8,129 710.5,129.1 711.1,130.3 711.8,130.2 712.4,128.5 713.1,120.3 713.7,123.4 714.4,120.6 715.1,119.1 715.7,130.1 716.4,129.1 717,131.3 717.7,128.5 718.4,129.6 719,129.9 719.7,128.9 720.3,127.1 721,131 721.6,132.1 722.3,128.1 723,128.6 723.6,127 724.3,133 724.9,133.6 725.6,132.2 726.2,131.6 726.9,131.9 727.6,131.2 728.2,134.7 728.9,132.1 729.5,133.4 730.2,132.4 730.8,133 731.5,134.4 732.2,135.3 732.8,133 733.5,133 734.1,130.9 734.8,134.7 735.4,132.4 736.1,136.1 736.8,135.3 737.4,135.5 738.1,128.6 738.7,135.7 739.4,135.3 740.1,134.6 740.7,135.1 741.4,130.8 742,131.7 742.7,131.5 743.3,129.6 744,133.8 744.7,134 745.3,134.1 746,134 746.6,133.3 747.3,135 747.9,132.5 748.6,131.9 749.3,132.4 749.9,122.5 750.6,135.9 751.2,134.4 751.9,133.6 752.5,120.7 753.2,121.9 753.9,134 754.5,131.6 755.2,134.3 755.8,132 756.5,132.1 757.2,134.9 757.8,132.7 758.5,124 759.1,124.4 759.8,125.4 760.4,124.9 761.1,131.9 761.8,124.7 762.4,131.9 763.1,133.5 763.7,132.4 764.4,132.3 765,133.8 765.7,133.9 766.4,131.2 767,122.4 767.7,123.8 768.3,122.7 769,121.8 769.6,129.4 770.3,132.9 771,131 771.6,129.2 772.3,131.9 772.9,130.2 773.6,135.4 774.2,130.3 774.9,132.3 775.6,134.8 776.2,131.2 776.9,131 777.5,130.8 778.2,131.2 778.9,132.8 779.5,133.8 780.2,133.5 780.8,133.1 781.5,132.6 782.1,133.7 782.8,126.5 783.5,125.4 784.1,132.8 784.8,130.2 785.4,130.3 786.1,134.5 786.7,133.7 787.4,134.5 788.1,134.1 788.7,131.7 789.4,133.5 790,133.3 790.7,121.2 791.3,119.5 792,120.6 792.7,120.3 793.3,129.2 794,128.5 794.6,126.3 795.3,125.3 795.9,130.1 796.6,128.1 797.3,128.8 797.9,126.4 798.6,126.3 799.2,128.4 799.9,125 800.6,127.8 801.2,124.7 801.9,125.9 802.5,127.1 803.2,127.3 803.8,126.2 804.5,125.9 805.2,126.8 805.8,125.2 806.5,126.1 807.1,124.4 807.8,124.6 808.4,129 809.1,126.5 809.8,128.8 810.4,130.6 811.1,128.5 811.7,116.3 812.4,115.1 813,117.2 813.7,127 814.4,127.3 815,128 815.7,128 816.3,125.8 817,127.2 817.6,129.5 818.3,126 819,127.1 819.6,127.9 820.3,132.8 820.9,130 821.6,130.5 822.3,132.6 822.9,130.8 823.6,130 824.2,131.1 824.9,130 825.5,130 826.2,132.8 826.9,131.3 827.5,130.2 828.2,129.6 828.8,129 829.5,133.2 830.1,130.8 830.8,129.8 831.5,129.2 832.1,128.6 832.8,132 833.4,131.3 834.1,132.2 834.7,129.8 835.4,132.6 836.1,129.4 836.7,129.7 837.4,130.3 838,133.8 838.7,131.9 839.4,126.2 840,132.8 840.7,131.3 841.3,131.1 842,129.8 842.6,129.9 843.3,129.9 844,130.7 844.6,130.1 845.3,130.9 845.9,129.7 846.6,130.8 847.2,129.2 847.9,132.6 848.6,128.8 849.2,130.5 849.9,128.8 850.5,124.5 851.2,123.4 851.8,122.5 852.5,127.4 853.2,126.6 853.8,126.8 854.5,129.4 855.1,119.7 855.8,117.7 856.4,117.7 857.1,118.3 857.8,129.5 858.4,131.1 859.1,127.2 859.7,127.9 860.4,126 861.1,129.4 861.7,130.1 862.4,128.2 863,130.5 863.7,128 864.3,129.1 865,128.5 865.7,127.7 866.3,127.8 867,115.4 867.6,116.9 868.3,119.3 868.9,126.2 869.6,117.8 L869.6,189.1 868.9,190.3 868.3,176 867.6,177.5 867,179.2 866.3,177.9 865.7,177.7 865,177.3 864.3,179.4 863.7,178.5 863,177.6 862.4,175 861.7,174.9 861.1,177.3 860.4,178.5 859.7,177.9 859.1,178.7 858.4,184.7 857.8,182.3 857.1,183.7 856.4,174.5 855.8,177.6 855.1,178.4 854.5,176.8 853.8,174 853.2,173.5 852.5,172.9 851.8,173.6 851.2,172.1 850.5,175.4 849.9,173.7 849.2,173.3 848.6,172.8 847.9,173.5 847.2,173.4 846.6,173.7 845.9,172.7 845.3,180.9 844.6,183.2 844,170.2 843.3,176.3 842.6,173.4 842,171.7 841.3,170.2 840.7,171 840,170.5 839.4,172.8 838.7,173.7 838,169.9 837.4,172.4 836.7,169.7 836.1,183.8 835.4,181 834.7,182.7 834.1,182.1 833.4,171.9 832.8,172.6 832.1,172.3 831.5,173.5 830.8,172.9 830.1,172.2 829.5,173.2 828.8,184.4 828.2,184.3 827.5,183.6 826.9,171.6 826.2,171.9 825.5,171.6 824.9,171.9 824.2,172.8 823.6,172.2 822.9,174.6 822.3,175.8 821.6,175.5 820.9,173 820.3,173.9 819.6,172.5 819,175.6 818.3,175.1 817.6,172.6 817,174.3 816.3,173.4 815.7,169.8 815,171.8 814.4,174.6 813.7,172.5 813,172.5 812.4,170.7 811.7,170.9 811.1,173.2 810.4,171 809.8,171.6 809.1,171.7 808.4,172.4 807.8,170.5 807.1,171.3 806.5,170.2 805.8,167 805.2,171.2 804.5,169.8 803.8,170.5 803.2,172.8 802.5,171.4 801.9,172.1 801.2,172.1 800.6,173.1 799.9,170.9 799.2,172.4 798.6,169.5 797.9,171.2 797.3,171.9 796.6,171.2 795.9,171.3 795.3,171.3 794.6,172.3 794,171 793.3,172 792.7,179.1 792,175.2 791.3,177.9 790.7,178 790,171.6 789.4,170.3 788.7,171.2 788.1,181 787.4,182.7 786.7,170.7 786.1,171.7 785.4,170.1 784.8,173.7 784.1,170.4 783.5,169.4 782.8,171.5 782.1,172 781.5,170.2 780.8,170.5 780.2,169.5 779.5,171.7 778.9,171.1 778.2,170.2 777.5,171.1 776.9,174.2 776.2,174.3 775.6,170.6 774.9,172.3 774.2,170.7 773.6,170.5 772.9,170.7 772.3,173.5 771.6,175.2 771,171.9 770.3,171.4 769.6,173.5 769,170.9 768.3,172.6 767.7,173.8 767,173.7 766.4,173.4 765.7,184.7 765,187.3 764.4,184.8 763.7,173.3 763.1,175.9 762.4,183.7 761.8,183.1 761.1,171.7 760.4,174.8 759.8,175.5 759.1,174 758.5,175 757.8,174.7 757.2,175.5 756.5,173.7 755.8,174.5 755.2,183.5 754.5,181.8 753.9,175.5 753.2,176.6 752.5,174 751.9,174.6 751.2,183 750.6,185.1 749.9,183.6 749.3,184.6 748.6,176.1 747.9,174.3 747.3,173 746.6,173.7 746,174.4 745.3,174.7 744.7,174.1 744,172.1 743.3,173.7 742.7,174.6 742,172.2 741.4,172 740.7,173.8 740.1,173.3 739.4,173.8 738.7,173.6 738.1,175.5 737.4,170.2 736.8,171.6 736.1,171.4 735.4,172.9 734.8,173.2 734.1,170.7 733.5,172.3 732.8,180.2 732.2,181.9 731.5,178.1 730.8,172.1 730.2,171.2 729.5,169.8 728.9,173.8 728.2,172.5 727.6,171.5 726.9,174.5 726.2,173 725.6,172.1 724.9,170.6 724.3,185.7 723.6,174.2 723,170 722.3,170.5 721.6,177.8 721,178.9 720.3,179.5 719.7,179 719,172.3 718.4,172.6 717.7,169.6 717,169.6 716.4,170.2 715.7,172.8 715.1,173.6 714.4,173.8 713.7,173.6 713.1,174.3 712.4,174.4 711.8,175.3 711.1,175.5 710.5,174.4 709.8,176 709.1,171.3 708.5,175.5 707.8,173.2 707.2,184.2 706.5,183.9 705.9,175.2 705.2,176.8 704.5,174.5 703.9,175.5 703.2,178 702.6,178.3 701.9,175.4 701.3,173.7 700.6,177.5 699.9,175 699.3,178 698.6,177.4 698,178.5 697.3,180.7 696.7,175.5 696,179.1 695.3,180.7 694.7,177.6 694,179.6 693.4,178.2 692.7,178.1 692,183.2 691.4,185 690.7,181.6 690.1,181.9 689.4,176.1 688.8,179.1 688.1,178.8 687.4,176.8 686.8,179.8 686.1,179.7 685.5,175.1 684.8,178.3 684.2,181.1 683.5,181.4 682.8,179.2 682.2,179.9 681.5,178.2 680.9,180.7 680.2,183.6 679.6,183.2 678.9,178.4 678.2,178 677.6,179.2 676.9,189.8 676.3,190.9 675.6,177.9 675,179.4 674.3,179.3 673.6,177.6 673,176.2 672.3,175.6 671.7,176 671,177.4 670.3,177.4 669.7,176.7 669,177.3 668.4,177.6 667.7,176.7 667.1,178.1 666.4,178.3 665.7,176.4 665.1,179.6 664.4,175.4 663.8,177 663.1,177 662.5,178.4 661.8,179.2 661.1,181.5 660.5,180.3 659.8,185.3 659.2,178.8 658.5,194.5 657.9,192.4 657.2,189 656.5,181.3 655.9,184.8 655.2,181.3 654.6,181.7 653.9,181.3 653.2,183.6 652.6,183.1 651.9,187.6 651.3,188.7 650.6,186 650,182.6 649.3,183.5 648.6,180.7 648,183.9 647.3,192 646.7,184.4 646,193.7 645.4,193.9 644.7,195.6 644,192.3 643.4,190.3 642.7,192 642.1,193.4 641.4,186.6 640.8,187 640.1,186.3 639.4,186 638.8,192.4 638.1,192 637.5,191.1 636.8,191.2 636.2,198.9 635.5,199 634.8,197.3 634.2,198.5 633.5,186.1 632.9,189.1 632.2,190.5 631.5,189.3 630.9,191.6 630.2,191.6 629.6,192.2 628.9,191.5 628.3,193.1 627.6,192 626.9,194.8 626.3,185.8 625.6,190.9 625,188.3 624.3,190.6 623.7,189 623,191 622.3,189.9 621.7,192.1 621,189.6 620.4,188.5 619.7,186.6 619.1,192.5 618.4,191 617.7,188.7 617.1,191.3 616.4,188 615.8,190.6 615.1,188.4 614.5,189.7 613.8,188.3 613.1,187.7 612.5,188.4 611.8,187 611.2,189.6 610.5,187.6 609.8,189.2 609.2,187.6 608.5,199.8 607.9,199.6 607.2,201.4 606.6,189.3 605.9,201 605.2,198.6 604.6,187.5 603.9,184.2 603.3,191.5 602.6,187.7 602,188.1 601.3,187.9 600.6,197.5 600,196.9 599.3,195.9 598.7,186.9 598,186.9 597.4,185.3 596.7,195.4 596,192.3 595.4,187.5 594.7,187.9 594.1,186.7 593.4,189.7 592.8,192.3 592.1,192.8 591.4,189.2 590.8,187.3 590.1,190.5 589.5,191.7 588.8,193.1 588.1,202.3 587.5,202 586.8,203.8 586.2,201.7 585.5,192.8 584.9,190.3 584.2,190.9 583.5,193.4 582.9,193.9 582.2,192.7 581.6,191.2 580.9,194.9 580.3,192.4 579.6,195.1 578.9,200.6 578.3,200.5 577.6,192.5 577,194.5 576.3,193 575.7,194.9 575,193.6 574.3,192.5 573.7,193.6 573,192.6 572.4,193.7 571.7,192.6 571,193.1 570.4,192.6 569.7,192.6 569.1,190.5 568.4,205.1 567.8,207 567.1,205.3 566.4,190.4 565.8,193.2 565.1,192.4 564.5,193.6 563.8,190.7 563.2,192.4 562.5,192.8 561.8,192.1 561.2,192.8 560.5,194.2 559.9,206.1 559.2,204.5 558.6,205.8 557.9,204.3 557.2,193.6 556.6,193.2 555.9,199.5 555.3,198.9 554.6,194 554,201.2 553.3,199.5 552.6,199.7 552,199.8 551.3,199.2 550.7,199.4 550,200.5 549.3,199.1 548.7,202.8 548,206 547.4,204.3 546.7,203.6 546.1,208.6 545.4,203.4 544.7,203.6 544.1,204.7 543.4,206.8 542.8,203.9 542.1,207.7 541.5,209.3 540.8,216.9 540.1,219.6 539.5,208.4 538.8,207.7 538.2,207.4 537.5,208.6 536.9,210.2 536.2,208.6 535.5,209 534.9,209.5 534.2,209 533.6,210.5 532.9,216.9 532.3,216.1 531.6,218.7 530.9,213.1 530.3,211.8 529.6,212 529,211.9 528.3,219.1 527.6,220.6 527,212.6 526.3,222.8 525.7,209.8 525,214.9 524.4,214 523.7,212.1 523,224.6 522.4,222.9 521.7,224.5 521.1,225.7 520.4,218.9 519.8,218 519.1,216.9 518.4,216.1 517.8,219 517.1,216.3 516.5,218.6 515.8,218.4 515.2,219.9 514.5,219 513.8,218.5 513.2,220.8 512.5,221.3 511.9,222.8 511.2,223 510.6,223 509.9,222.9 509.2,223 508.6,222.4 507.9,226 507.3,221.6 506.6,225 505.9,224 505.3,223.9 504.6,224.7 504,222.7 503.3,224.2 502.7,224.3 502,223.9 501.3,225.5 500.7,226.7 500,223.8 499.4,223.3 498.7,225.9 498.1,226.9 497.4,224.1 496.7,226.9 496.1,223.8 495.4,225.9 494.8,226.1 494.1,227.8 493.5,223.9 492.8,226.3 492.1,224.8 491.5,224.8 490.8,223.6 490.2,223.6 489.5,225 488.8,224.5 488.2,224.2 487.5,226.4 486.9,228.8 486.2,227.7 485.6,225.6 484.9,228.9 484.2,230.5 483.6,228.7 482.9,226.8 482.3,226.3 481.6,228 481,230.8 480.3,227.9 479.6,229.3 479,230.1 478.3,233.7 477.7,235.1 477,235.5 476.4,234.5 475.7,228.6 475,229 474.4,233 473.7,233 473.1,229.4 472.4,230.1 471.8,230.6 471.1,234.1 470.4,233 469.8,232.2 469.1,232.4 468.5,232.1 467.8,232.1 467.1,233.1 466.5,237.7 465.8,235.4 465.2,233.2 464.5,233.8 463.9,232.2 463.2,234 462.5,234.3 461.9,233.4 461.2,233.7 460.6,248.1 459.9,245.6 459.3,234.2 458.6,231.4 457.9,235 457.3,236.6 456.6,234.5 456,234.6 455.3,235.3 454.7,232.8 454,233.7 453.3,236.1 452.7,235 452,234.3 451.4,236.9 450.7,236.4 450.1,244.9 449.4,246.1 448.7,244.9 448.1,247.9 447.4,235.6 446.8,236 446.1,235.4 445.4,236.1 444.8,237.9 444.1,238.9 443.5,235.2 442.8,236.2 442.2,237.7 441.5,238.1 440.8,236.5 440.2,236.8 439.5,237.8 438.9,236.3 438.2,239.8 437.6,235.6 436.9,240.4 436.2,236.6 435.6,237.8 434.9,236.9 434.3,238.6 433.6,239.1 433,236.7 432.3,248.9 431.6,251.3 431,238.5 430.3,239.2 429.7,238.6 429,239.8 428.4,239.5 427.7,240.6 427,244.6 426.4,244.8 425.7,242.9 425.1,240.5 424.4,241.9 423.7,242.7 423.1,240.6 422.4,244.6 421.8,245.1 421.1,246.4 420.5,246 419.8,244.7 419.1,251.6 418.5,249.4 417.8,250.8 417.2,253 416.5,252.2 415.9,255.7 415.2,258 414.5,260.3 413.9,262.4 413.2,263.7 412.6,266 411.9,280.7 411.3,273.5 410.6,276 409.9,281.8 409.3,284.4 408.6,288.2 408,288.2 407.3,291.8 406.6,292.6 406,295.4 405.3,296.3 404.7,297 404,299.7 403.4,297.6 402.7,300.4 402,301.9 401.4,300.7 400.7,304.3 400.1,305.7 399.4,305.2 398.8,310.8 398.1,302.8 397.4,300.3 396.8,302.6 396.1,300.2 395.5,304.3 394.8,299.7 394.2,299.5 393.5,304.3 392.8,302.7 392.2,300.8 391.5,310.5 390.9,310.5 390.2,302.5 389.6,304.3 388.9,303.9 388.2,309.9 387.6,308.3 386.9,309.7 386.3,302.3 385.6,305.3 384.9,303.9 384.3,304.4 383.6,306.2 383,304.1 382.3,304.9 381.7,302.9 381,303.1 380.3,307.2 379.7,305.1 379,303.4 378.4,305.8 377.7,303.3 377.1,308.1 376.4,313.6 375.7,312.4 375.1,308.7 374.4,313.8 373.8,313.3 373.1,314.1 372.5,316 371.8,308.5 371.1,311.4 370.5,309.5 369.8,312 369.2,309.6 368.5,313.6 367.9,311.1 367.2,312.4 366.5,309.6 365.9,312 365.2,311.4 364.6,311.6 363.9,313.3 363.2,314 362.6,311.1 361.9,310.5 361.3,312.8 360.6,310.6 360,312.9 359.3,322.6 358.6,321.8 358,321.4 357.3,325.8 356.7,312.4 356,313.2 355.4,319.1 354.7,319.5 354,314.5 353.4,314.1 352.7,315.1 352.1,314.9 351.4,317.2 350.8,314.7 350.1,320.5 349.4,319.1 348.8,316.4 348.1,316.2 347.5,324.6 346.8,324.9 346.2,324.5 345.5,317 344.8,317.4 344.2,317.4 343.5,320.3 342.9,320.2 342.2,317.8 341.5,320.1 340.9,320.7 340.2,324.3 339.6,321.8 338.9,320.1 338.3,323.9 337.6,323.7 336.9,326.1 336.3,326 335.6,336.8 335,340 334.3,342.2 333.7,331.9 333,333.1 332.3,330.5 331.7,333.8 331,337.6 330.4,335.3 329.7,338.7 329.1,341.1 328.4,340.2 327.7,342.4 327.1,346.2 326.4,342.6 325.8,348.3 325.1,347 324.4,352.1 323.8,353.8 323.1,353.5 322.5,365 321.8,367.7 321.2,371.9 320.5,369.8 319.8,357.2 319.2,362 318.5,359.3 317.9,361.9 317.2,361.4 316.6,364.2 315.9,366.8 315.2,368.9 314.6,367.8 313.9,367.3 313.3,368.8 312.6,371.3 312,370.8 311.3,370.6 310.6,374 310,374.5 309.3,378.2 308.7,377.8 308,379.8 307.4,379.8 306.7,376.5 306,381.1 305.4,384.4 304.7,386.9 304.1,389.4 303.4,387.2 302.7,384.4 302.1,385.1 301.4,387.5 300.8,386.3 300.1,388.3 299.5,389.4 298.8,390.5 298.1,391.2 297.5,387.8 296.8,391.2 296.2,389.6 295.5,390.8 294.9,393 294.2,391.1 293.5,392.3 292.9,389.5 292.2,390.5 291.6,390.2 290.9,389 290.3,390.6 289.6,391.8 288.9,390.3 288.3,390.7 287.6,389.9 287,391.3 286.3,395.3 285.7,396 285,396.3 284.3,390.2 283.7,394.8 283,393 282.4,395.5 281.7,392.9 281,396.4 280.4,393 279.7,390.1 279.1,391.5 278.4,391.2 277.8,390.6 277.1,392.6 276.4,391.2 275.8,390.4 275.1,388.1 274.5,390.7 273.8,390.4 273.2,392.1 272.5,390.2 271.8,388.9 271.2,393.3 270.5,388.2 269.9,391.7 269.2,391.4 268.6,392.5 267.9,389.6 267.2,395.1 266.6,391.2 265.9,395 265.3,395.5 264.6,395.7 264,394.7 263.3,392.5 262.6,392.9 262,391.7 261.3,394.1 260.7,396.6 260,397.8 259.3,401.7 258.7,394.7 258,396.8 257.4,393.2 256.7,393.9 256.1,394 255.4,392.4 254.7,401.8 254.1,394.1 253.4,392.3 252.8,392.6 252.1,395.4 251.5,395 250.8,393 250.1,393.6 249.5,394.7 248.8,393.3 248.2,392.3 247.5,396.6 246.9,395.9 246.2,396.3 245.5,395.1 244.9,394.9 244.2,396.5 243.6,393.9 242.9,401.3 242.2,403.3 241.6,401.4 240.9,394.8 240.3,395.8 239.6,393.1 239,398.2 238.3,397.3 237.6,395.7 237,396.8 236.3,400.1 235.7,401.8 235,399.1 234.4,410.1 233.7,411.8 233,409.4 232.4,408.8 231.7,403 231.1,401.4 230.4,402.5 229.8,404.6 229.1,402.6 228.4,405.3 227.8,406.3 227.1,404.8 226.5,407.4 225.8,409.5 225.2,410.6 224.5,413.1 223.8,414.9 223.2,416.6 222.5,419 221.9,422.1 221.2,424.8 220.5,432 219.9,431.4 219.2,433.8 218.6,440.6 217.9,444.4 217.3,448.5 216.6,455.7 215.9,461 215.3,467 214.6,471.3 214,478.2 213.3,485.3 212.7,492.2 212,499.6Z" fill="#c4372f" fill-opacity="0.26"/>
<polyline points="212,500.1 212.7,495.7 213.3,485.1 214,481.2 214.6,474.8 215.3,466.9 215.9,457.5 216.6,455.7 217.3,447.6 217.9,440.2 218.6,435.8 219.2,426.2 219.9,422.1 220.5,413.8 221.2,410 221.9,403.4 222.5,401.3 223.2,398.1 223.8,395.6 224.5,395.6 225.2,393.4 225.8,392.4 226.5,392.5 227.1,388.9 227.8,384.7 228.4,385.3 229.1,384 229.8,383.6 230.4,381.9 231.1,380 231.7,376.5 232.4,376 233,371.2 233.7,373.6 234.4,370.6 235,369.1 235.7,366.1 236.3,365.2 237,362.6 237.6,363.1 238.3,358.7 239,360.8 239.6,358.6 240.3,359.4 240.9,354.6 241.6,352.9 242.2,351.6 242.9,349.4 243.6,347 244.2,343.1 244.9,340.8 245.5,339.3 246.2,337.5 246.9,333.9 247.5,332.1 248.2,331.9 248.8,332.4 249.5,330 250.1,330.7 250.8,330.6 251.5,329.7 252.1,325.2 252.8,326.7 253.4,323.6 254.1,324.8 254.7,326 255.4,322.6 256.1,325.9 256.7,325.2 257.4,321.2 258,322.5 258.7,318.1 259.3,317.2 260,317.4 260.7,316.9 261.3,315.4 262,312.9 262.6,316.4 263.3,312 264,313.4 264.6,310.1 265.3,308 265.9,306.3 266.6,304.9 267.2,302.1 267.9,307 268.6,301.9 269.2,299.8 269.9,300.5 270.5,298.2 271.2,302.7 271.8,299.7 272.5,300.2 273.2,298.3 273.8,294.5 274.5,292.1 275.1,287.4 275.8,286.6 276.4,284.2 277.1,284.4 277.8,282.2 278.4,285.1 279.1,283.4 279.7,281 280.4,277.4 281,281.4 281.7,281.3 282.4,279.2 283,276.7 283.7,279.9 284.3,281.2 285,275.5 285.7,280.4 286.3,275.9 287,279.8 287.6,283.3 288.3,280.3 288.9,281.3 289.6,280 290.3,281 290.9,286 291.6,284.4 292.2,281.5 292.9,281.7 293.5,283.2 294.2,288.6 294.9,285.9 295.5,289 296.2,287.7 296.8,286.1 297.5,291.7 298.1,288.6 298.8,286.4 299.5,285.5 300.1,284.3 300.8,283.2 301.4,280.1 302.1,285 302.7,282.7 303.4,283.5 304.1,280.4 304.7,281.4 305.4,280.7 306,282.5 306.7,281.4 307.4,280 308,277.8 308.7,275.7 309.3,275.8 310,275 310.6,273.7 311.3,270.5 312,275.1 312.6,270.7 313.3,264.7 313.9,266.2 314.6,265.3 315.2,268.5 315.9,270.1 316.6,265.4 317.2,268.7 317.9,266.6 318.5,269.6 319.2,269.9 319.8,267.3 320.5,268 321.2,266.2 321.8,265.1 322.5,263 323.1,266.1 323.8,264.9 324.4,263.9 325.1,264.3 325.8,263.7 326.4,261.4 327.1,262.2 327.7,265.7 328.4,262.1 329.1,265.4 329.7,259.2 330.4,258.3 331,261.1 331.7,262.1 332.3,258.1 333,260.5 333.7,260.5 334.3,260.1 335,256.6 335.6,256 336.3,251.5 336.9,254.7 337.6,254.5 338.3,256.4 338.9,249.2 339.6,249.4 340.2,248.1 340.9,251.7 341.5,242.6 342.2,245.1 342.9,251.7 343.5,247.3 344.2,241.6 344.8,243.5 345.5,244.5 346.2,242.5 346.8,239.4 347.5,236.7 348.1,239.4 348.8,236.1 349.4,236.9 350.1,234.8 350.8,231.7 351.4,235.6 352.1,230.1 352.7,231.7 353.4,228.4 354,228.8 354.7,228.1 355.4,224.3 356,228.3 356.7,230.5 357.3,231.4 358,229.8 358.6,225.3 359.3,229 360,225.9 360.6,228.9 361.3,220.7 361.9,227.2 362.6,221.4 363.2,225.3 363.9,220.7 364.6,223.6 365.2,220 365.9,215.3 366.5,217.1 367.2,218.4 367.9,218.5 368.5,212 369.2,214.2 369.8,214.8 370.5,215.6 371.1,216.2 371.8,213 372.5,213.2 373.1,215 373.8,213 374.4,215.8 375.1,211.7 375.7,214.5 376.4,210.1 377.1,212.9 377.7,212.1 378.4,212.8 379,209.6 379.7,210.8 380.3,208.6 381,210.2 381.7,212.1 382.3,218.2 383,210 383.6,211.6 384.3,211.4 384.9,212.3 385.6,212.2 386.3,211.5 386.9,209.4 387.6,214.7 388.2,211.6 388.9,202.9 389.6,208.1 390.2,207.2 390.9,200.6 391.5,204.1 392.2,204.9 392.8,202.9 393.5,206 394.2,200.4 394.8,207.2 395.5,207 396.1,205.6 396.8,203.4 397.4,204.1 398.1,202.6 398.8,206.9 399.4,204.9 400.1,208.9 400.7,202 401.4,207 402,201 402.7,202 403.4,199.3 404,203.6 404.7,201.8 405.3,203.6 406,205.9 406.6,201.2 407.3,202.3 408,203.6 408.6,200.7 409.3,199.1 409.9,201.5 410.6,201.7 411.3,202.3 411.9,202.2 412.6,197.6 413.2,200.6 413.9,202.7 414.5,197.5 415.2,199.7 415.9,196.6 416.5,198.7 417.2,203 417.8,196.4 418.5,194.8 419.1,198.5 419.8,197.9 420.5,200.4 421.1,192.2 421.8,194.3 422.4,196.7 423.1,192.3 423.7,200.1 424.4,190.8 425.1,194.2 425.7,192.3 426.4,194.6 427,195.7 427.7,198.2 428.4,199.1 429,198.1 429.7,190.4 430.3,197.1 431,190.8 431.6,194.6 432.3,193.5 433,194 433.6,197.3 434.3,193.5 434.9,200.8 435.6,197.5 436.2,199.1 436.9,197.8 437.6,198.1 438.2,195.4 438.9,201.1 439.5,192.3 440.2,196.6 440.8,195.2 441.5,191.4 442.2,196 442.8,192.8 443.5,197.4 444.1,197.1 444.8,195 445.4,196.7 446.1,191.5 446.8,188.9 447.4,192.6 448.1,193.4 448.7,201.2 449.4,193.2 450.1,196.7 450.7,196 451.4,199.6 452,193.6 452.7,195 453.3,192.4 454,190.3 454.7,189.8 455.3,190.3 456,196.6 456.6,193.2 457.3,194.6 457.9,192.1 458.6,190.3 459.3,191.7 459.9,191.6 460.6,193.4 461.2,194.1 461.9,186.5 462.5,191.8 463.2,195 463.9,187.9 464.5,190 465.2,191.1 465.8,193.7 466.5,192.1 467.1,189.6 467.8,191.6 468.5,193 469.1,191 469.8,196.4 470.4,190.8 471.1,186.4 471.8,187.1 472.4,188.8 473.1,188.5 473.7,190.8 474.4,189.8 475,193.7 475.7,190.9 476.4,192.7 477,186.1 477.7,186.9 478.3,190 479,188.1 479.6,189.6 480.3,188.3 481,186.3 481.6,192.3 482.3,190.5 482.9,182.6 483.6,185.2 484.2,186.9 484.9,188.7 485.6,186.4 486.2,182.5 486.9,188.7 487.5,185.6 488.2,189.5 488.8,186.8 489.5,188.7 490.2,188.1 490.8,188.1 491.5,183.9 492.1,188.2 492.8,185.6 493.5,181.3 494.1,183.6 494.8,183.6 495.4,185.8 496.1,186.2 496.7,180.8 497.4,186 498.1,183.5 498.7,180.4 499.4,185.7 500,180.8 500.7,179.4 501.3,184.8 502,184.9 502.7,180.1 503.3,184.7 504,184.2 504.6,179.5 505.3,186.4 505.9,180.1 506.6,180.5 507.3,170.7 507.9,180.9 508.6,176.9 509.2,179.6 509.9,172.9 510.6,180.8 511.2,181.3 511.9,182.2 512.5,167.8 513.2,177.7 513.8,176.7 514.5,166.6 515.2,172.9 515.8,174.4 516.5,178.5 517.1,171.6 517.8,174.3 518.4,173.2 519.1,174.1 519.8,171.6 520.4,175 521.1,174.9 521.7,167.8 522.4,174.7 523,169 523.7,170 524.4,173.8 525,170.5 525.7,171.6 526.3,171.9 527,171 527.6,167.4 528.3,165.9 529,170.3 529.6,170.3 530.3,168.8 530.9,166.9 531.6,169.6 532.3,166.8 532.9,162.6 533.6,167.1 534.2,167.4 534.9,167.9 535.5,162.8 536.2,162.9 536.9,165.8 537.5,163.2 538.2,164 538.8,166.7 539.5,164.8 540.1,168.7 540.8,164 541.5,167.8 542.1,165.6 542.8,169.7 543.4,162.1 544.1,161.5 544.7,164.4 545.4,159.7 546.1,159.6 546.7,161.4 547.4,161.5 548,156.1 548.7,160.6 549.3,158.7 550,159.3 550.7,159.6 551.3,158.2 552,161.6 552.6,159.7 553.3,157.5 554,158 554.6,160.5 555.3,159.5 555.9,160.6 556.6,156.3 557.2,156.9 557.9,162 558.6,155.8 559.2,160.5 559.9,157.9 560.5,154 561.2,150.9 561.8,156.5 562.5,152.4 563.2,152.1 563.8,154.1 564.5,157.1 565.1,153.7 565.8,153.3 566.4,154.1 567.1,153.4 567.8,152.4 568.4,153.7 569.1,151.2 569.7,144.3 570.4,153.6 571,152.5 571.7,151.1 572.4,155.4 573,146.5 573.7,142 574.3,154.4 575,151 575.7,142.6 576.3,148.2 577,150.9 577.6,145.4 578.3,150.3 578.9,154.6 579.6,152.3 580.3,148 580.9,148.8 581.6,144.9 582.2,145.5 582.9,146.3 583.5,144.2 584.2,143 584.9,152.2 585.5,146.7 586.2,143.3 586.8,144.9 587.5,150.2 588.1,150.4 588.8,143.8 589.5,145.9 590.1,147.7 590.8,144 591.4,141.4 592.1,141.8 592.8,144.5 593.4,142 594.1,140.3 594.7,143.2 595.4,146.4 596,145.5 596.7,142.6 597.4,148.6 598,140.6 598.7,142.5 599.3,138.6 600,144.5 600.6,141.7 601.3,137 602,139.2 602.6,146.6 603.3,143.2 603.9,140.7 604.6,143.1 605.2,135.8 605.9,137.8 606.6,136.1 607.2,137.2 607.9,138.2 608.5,140.5 609.2,141.5 609.8,141 610.5,145.5 611.2,135.9 611.8,136.9 612.5,138 613.1,133.7 613.8,134.8 614.5,136.4 615.1,132.2 615.8,135.7 616.4,137.5 617.1,130.4 617.7,126.7 618.4,133.2 619.1,129.7 619.7,133 620.4,131 621,133.1 621.7,135.3 622.3,136 623,130.8 623.7,128.3 624.3,124.4 625,125.2 625.6,129 626.3,131.5 626.9,129.1 627.6,129.2 628.3,126.3 628.9,126 629.6,125.7 630.2,132.3 630.9,124.8 631.5,132.3 632.2,127.7 632.9,131.7 633.5,130.4 634.2,132.2 634.8,133.4 635.5,127.6 636.2,127 636.8,128.9 637.5,127.5 638.1,131.6 638.8,129.3 639.4,129.6 640.1,130.8 640.8,128.2 641.4,132.7 642.1,124.2 642.7,130.2 643.4,131 644,127.3 644.7,127.5 645.4,132.1 646,128.6 646.7,124 647.3,125.6 648,132.4 648.6,127 649.3,133.3 650,133.5 650.6,128.9 651.3,131.1 651.9,127.1 652.6,128.3 653.2,127.5 653.9,131.2 654.6,125.8 655.2,129.1 655.9,129.6 656.5,131 657.2,123.4 657.9,124.3 658.5,127 659.2,128.8 659.8,129.9 660.5,130 661.1,135.3 661.8,131.4 662.5,131.2 663.1,128.1 663.8,131.7 664.4,131.5 665.1,131.4 665.7,129.1 666.4,131.3 667.1,133.9 667.7,127.2 668.4,123.2 669,131.8 669.7,131.6 670.3,128.8 671,128.2 671.7,137.4 672.3,128.1 673,125.9 673.6,128.1 674.3,130.9 675,127.7 675.6,128.3 676.3,130.3 676.9,128.2 677.6,129.8 678.2,129.3 678.9,126.3 679.6,129.5 680.2,126 680.9,132 681.5,126.6 682.2,128.5 682.8,124 683.5,127.9 684.2,125.5 684.8,133.4 685.5,128.7 686.1,130.6 686.8,124 687.4,125.4 688.1,128.5 688.8,125 689.4,132.2 690.1,127.7 690.7,129.2 691.4,129.6 692,128.3 692.7,130.9 693.4,126.7 694,129.6 694.7,132 695.3,129.4 696,128.8 696.7,127.5 697.3,128.6 698,130.3 698.6,127.6 699.3,123.4 699.9,128.7 700.6,127.8 701.3,129.5 701.9,128.2 702.6,132.6 703.2,124.6 703.9,125.2 704.5,129.8 705.2,124.9 705.9,128.7 706.5,127.7 707.2,122 707.8,129.5 708.5,131.4 709.1,128 709.8,123.4 710.5,129.5 711.1,124.2 711.8,126.8 712.4,128.2 713.1,124.8 713.7,122.1 714.4,126.4 715.1,126.6 715.7,124.2 716.4,124.4 717,128.6 717.7,123.7 718.4,125 719,124.6 719.7,124.1 720.3,126.4 721,125.6 721.6,122 722.3,124.8 723,124 723.6,125.9 724.3,129 724.9,125.5 725.6,127.4 726.2,125.8 726.9,124.5 727.6,126.3 728.2,124 728.9,124.3 729.5,122.8 730.2,125 730.8,124.9 731.5,130.3 732.2,126.6 732.8,123.9 733.5,127.2 734.1,123.6 734.8,127.8 735.4,127.1 736.1,133 736.8,121.8 737.4,124.6 738.1,124.5 738.7,125.6 739.4,126.8 740.1,122 740.7,122.7 741.4,125.6 742,127.5 742.7,121.6 743.3,120.3 744,127.9 744.7,127 745.3,127.7 746,121.9 746.6,124.1 747.3,123.8 747.9,125.9 748.6,124.3 749.3,124.5 749.9,127.4 750.6,123.4 751.2,123 751.9,123.3 752.5,123.1 753.2,124.9 753.9,123.9 754.5,123.3 755.2,128.5 755.8,125.3 756.5,123.5 757.2,128 757.8,122.9 758.5,124.5 759.1,124.2 759.8,122.8 760.4,123.4 761.1,124.7 761.8,120.4 762.4,123.3 763.1,125.1 763.7,125.2 764.4,125.2 765,130.9 765.7,126.2 766.4,124 767,124 767.7,124.4 768.3,125.6 769,123.5 769.6,128.5 770.3,121.3 771,126.9 771.6,129.5 772.3,121.1 772.9,126 773.6,125.8 774.2,122.5 774.9,130.7 775.6,126.2 776.2,123.4 776.9,122.9 777.5,122.2 778.2,125 778.9,124.4 779.5,120.3 780.2,121.4 780.8,122.2 781.5,123.1 782.1,123.2 782.8,122.3 783.5,125.9 784.1,126.8 784.8,124.4 785.4,123.2 786.1,123.7 786.7,125.7 787.4,125.2 788.1,124.9 788.7,124.4 789.4,120.4 790,117.1 790.7,125.8 791.3,122.6 792,125.2 792.7,123.2 793.3,123.5 794,127.8 794.6,120.7 795.3,124 795.9,121 796.6,124.1 797.3,125.2 797.9,125.7 798.6,124.3 799.2,120.1 799.9,124.5 800.6,126.3 801.2,126.6 801.9,129.7 802.5,125.4 803.2,121 803.8,122.3 804.5,124 805.2,126.6 805.8,120.6 806.5,126.2 807.1,125.5 807.8,121.2 808.4,125.3 809.1,121.5 809.8,123.6 810.4,122.7 811.1,124.2 811.7,120.2 812.4,124.9 813,117.5 813.7,122.3 814.4,121.8 815,127.7 815.7,124.8 816.3,122 817,120.8 817.6,123.3 818.3,121.5 819,129.3 819.6,115.5 820.3,123.3 820.9,116.3 821.6,125.9 822.3,120.8 822.9,127.4 823.6,121.5 824.2,125.9 824.9,123.5 825.5,126.1 826.2,122.9 826.9,114.6 827.5,120.8 828.2,118.4 828.8,125.3 829.5,124.1 830.1,122.6 830.8,123.8 831.5,123.1 832.1,120.9 832.8,127.8 833.4,123.1 834.1,121.9 834.7,118.3 835.4,120.6 836.1,122.3 836.7,121.7 837.4,120.9 838,122 838.7,119 839.4,122.1 840,117.8 840.7,119.6 841.3,119.9 842,124.3 842.6,123.2 843.3,122 844,118.6 844.6,120.6 845.3,123.9 845.9,125.1 846.6,117.5 847.2,120.4 847.9,121.8 848.6,122.4 849.2,121.4 849.9,123.2 850.5,117.3 851.2,125.6 851.8,118.1 852.5,121.3 853.2,122.6 853.8,124.3 854.5,123.5 855.1,123.4 855.8,124.5 856.4,120.5 857.1,122.9 857.8,125.1 858.4,118.7 859.1,116.9 859.7,117.9 860.4,124.5 861.1,124 861.7,119.5 862.4,121.2 863,121.7 863.7,123.3 864.3,115.1 865,118.7 865.7,119.5 866.3,121.1 867,120.3 867.6,119.2 868.3,120.8 868.9,112.9 869.6,128.4" fill="none" stroke="#8b6cb7" stroke-width="6" stroke-linejoin="round"/>
<polyline points="212,499.5 212.7,492.3 213.3,484.9 214,475.4 214.6,469 215.3,462.1 215.9,456.1 216.6,448.2 217.3,439.7 217.9,431.9 218.6,426.4 219.2,418.5 219.9,413.2 220.5,410.2 221.2,406.4 221.9,401.3 222.5,396.8 223.2,397.3 223.8,396.4 224.5,393.3 225.2,392.2 225.8,383.8 226.5,392 227.1,388.3 227.8,390.1 228.4,387.6 229.1,387.6 229.8,386.9 230.4,384 231.1,390.1 231.7,383.3 232.4,385.3 233,383.5 233.7,384 234.4,386 235,380.8 235.7,383 236.3,383.5 237,382.5 237.6,382.4 238.3,380.1 239,378.2 239.6,378.1 240.3,378.9 240.9,380 241.6,378.3 242.2,380 242.9,377 243.6,376.4 244.2,375.7 244.9,371.9 245.5,374.8 246.2,371.4 246.9,371.8 247.5,375.3 248.2,368.7 248.8,369.9 249.5,370.6 250.1,367.9 250.8,366.7 251.5,364.9 252.1,368.2 252.8,361 253.4,362 254.1,365.6 254.7,363.5 255.4,360.9 256.1,360.2 256.7,360.8 257.4,365.2 258,361.2 258.7,358.3 259.3,360.1 260,358.3 260.7,361.7 261.3,359.5 262,361 262.6,359.1 263.3,362.3 264,359.6 264.6,359.4 265.3,357.3 265.9,358.5 266.6,360.1 267.2,358.7 267.9,364.2 268.6,356.3 269.2,358.8 269.9,362.1 270.5,359.6 271.2,361.5 271.8,360.7 272.5,359.7 273.2,363.6 273.8,361.3 274.5,363.2 275.1,360.5 275.8,358.5 276.4,358.6 277.1,359.8 277.8,360.1 278.4,359.6 279.1,360.9 279.7,357.4 280.4,359.9 281,357 281.7,357.8 282.4,363.7 283,361.2 283.7,358.1 284.3,364.1 285,361.6 285.7,360.8 286.3,362.1 287,359 287.6,359.5 288.3,358.4 288.9,361.4 289.6,358.1 290.3,359.8 290.9,361.8 291.6,358.1 292.2,361.8 292.9,364.8 293.5,359.2 294.2,363.8 294.9,359.4 295.5,358.5 296.2,360.4 296.8,361.5 297.5,357.5 298.1,356.9 298.8,356.8 299.5,355.6 300.1,356.7 300.8,354.2 301.4,354.4 302.1,354.9 302.7,352.6 303.4,355 304.1,350.3 304.7,349.1 305.4,353.9 306,351.6 306.7,347.5 307.4,347.8 308,345.5 308.7,342.3 309.3,343.4 310,341 310.6,341.4 311.3,332.9 312,336.5 312.6,333.1 313.3,329.2 313.9,327.6 314.6,325.5 315.2,321.4 315.9,320.9 316.6,321.7 317.2,314.5 317.9,314.8 318.5,308.2 319.2,309.7 319.8,309.5 320.5,306.3 321.2,304.3 321.8,299.6 322.5,301.2 323.1,296 323.8,298.1 324.4,294.6 325.1,291.4 325.8,293.7 326.4,287.7 327.1,289.1 327.7,285.4 328.4,283.5 329.1,284.3 329.7,281.6 330.4,279.2 331,277.7 331.7,277.1 332.3,275.6 333,273.4 333.7,270.6 334.3,266 335,270.7 335.6,269.5 336.3,272 336.9,269.6 337.6,270.6 338.3,271.5 338.9,266.7 339.6,264.5 340.2,268 340.9,264.3 341.5,264.7 342.2,268.3 342.9,265.8 343.5,266.7 344.2,260.5 344.8,263.4 345.5,265.6 346.2,259.5 346.8,262.7 347.5,262.8 348.1,255.9 348.8,264.9 349.4,259 350.1,260 350.8,264.8 351.4,255.3 352.1,260.4 352.7,257.7 353.4,258.5 354,256 354.7,261 355.4,254.4 356,257.7 356.7,257.7 357.3,255.7 358,254.8 358.6,254.4 359.3,257.2 360,255.4 360.6,253.7 361.3,250.8 361.9,253.6 362.6,251.5 363.2,252.5 363.9,255.9 364.6,247.1 365.2,258 365.9,250.9 366.5,248.2 367.2,246.4 367.9,252.8 368.5,251.8 369.2,249.5 369.8,249.7 370.5,250 371.1,248.3 371.8,252.1 372.5,250.5 373.1,248.3 373.8,244.1 374.4,251.7 375.1,246.6 375.7,244.9 376.4,250.7 377.1,248.4 377.7,241.5 378.4,240.9 379,245.3 379.7,242.8 380.3,242.9 381,252.6 381.7,253.3 382.3,245 383,247 383.6,247 384.3,244 384.9,240 385.6,246.6 386.3,242.9 386.9,244.3 387.6,244.6 388.2,240.1 388.9,246.5 389.6,241.7 390.2,241.7 390.9,239.5 391.5,242.2 392.2,242.6 392.8,237.8 393.5,240.6 394.2,240.2 394.8,234.7 395.5,236.8 396.1,239 396.8,238.5 397.4,239.6 398.1,234.4 398.8,235.1 399.4,235.9 400.1,237.2 400.7,234.9 401.4,232.3 402,230.4 402.7,238 403.4,237.4 404,232.3 404.7,238.2 405.3,233.5 406,234.8 406.6,236.8 407.3,231.5 408,230.4 408.6,227.2 409.3,232.8 409.9,232.8 410.6,233.4 411.3,232.1 411.9,229.9 412.6,232.1 413.2,224.9 413.9,228.1 414.5,227.6 415.2,224.8 415.9,229.2 416.5,224.5 417.2,226.2 417.8,224 418.5,220 419.1,225.3 419.8,222.2 420.5,218.4 421.1,217.4 421.8,214.3 422.4,216.4 423.1,215.7 423.7,216.5 424.4,214.3 425.1,216.8 425.7,214.5 426.4,209.8 427,212.6 427.7,211.1 428.4,209.6 429,212.3 429.7,215.3 430.3,209 431,206.1 431.6,211.1 432.3,219.9 433,209.1 433.6,214.3 434.3,208.8 434.9,212.1 435.6,213.3 436.2,208.3 436.9,211.8 437.6,204.7 438.2,208.1 438.9,203.4 439.5,207.2 440.2,204.5 440.8,206.6 441.5,202.2 442.2,205.8 442.8,205 443.5,202.7 444.1,201.7 444.8,200.2 445.4,202.1 446.1,204.1 446.8,202.1 447.4,202.6 448.1,205.5 448.7,200.5 449.4,201.9 450.1,203.1 450.7,201.9 451.4,201.2 452,200 452.7,205.1 453.3,199 454,197.9 454.7,200.5 455.3,203.4 456,202.6 456.6,198.5 457.3,200.7 457.9,199.6 458.6,198.2 459.3,199.8 459.9,199.6 460.6,198.1 461.2,202.6 461.9,196.4 462.5,201.4 463.2,203.4 463.9,203.4 464.5,198 465.2,196.6 465.8,192.5 466.5,196.9 467.1,200.7 467.8,192.5 468.5,192.6 469.1,199.5 469.8,198.9 470.4,191.8 471.1,196.9 471.8,198.1 472.4,192.7 473.1,199.9 473.7,193.3 474.4,200.4 475,197.7 475.7,195.1 476.4,192.5 477,196.2 477.7,196.9 478.3,196.8 479,195.4 479.6,196.5 480.3,199.7 481,194.5 481.6,194 482.3,198.4 482.9,196.9 483.6,199.4 484.2,201.4 484.9,195.7 485.6,197.3 486.2,188 486.9,195.5 487.5,198.3 488.2,193 488.8,200 489.5,194 490.2,199.9 490.8,194.3 491.5,192.7 492.1,194.2 492.8,194.7 493.5,192.4 494.1,191.2 494.8,193.5 495.4,197.7 496.1,196 496.7,198.6 497.4,192.8 498.1,193.4 498.7,193.3 499.4,194.6 500,195.4 500.7,199 501.3,198.6 502,194.2 502.7,197.5 503.3,191.2 504,189.5 504.6,195.1 505.3,193.6 505.9,193.3 506.6,195.5 507.3,191.7 507.9,192.2 508.6,193.5 509.2,194.1 509.9,194.9 510.6,192.3 511.2,192.5 511.9,184.6 512.5,195 513.2,186.7 513.8,191 514.5,198.3 515.2,189.8 515.8,185.9 516.5,195 517.1,188.5 517.8,189.4 518.4,189.1 519.1,191.5 519.8,191.4 520.4,188.5 521.1,191.8 521.7,185.7 522.4,190 523,185.9 523.7,189.5 524.4,185.2 525,185.6 525.7,190.8 526.3,183 527,182.5 527.6,187.3 528.3,184.5 529,183.8 529.6,184.3 530.3,190.6 530.9,181.1 531.6,183 532.3,184 532.9,180.5 533.6,182.8 534.2,184 534.9,179.7 535.5,185.3 536.2,178.4 536.9,181.1 537.5,182.2 538.2,190.2 538.8,175.6 539.5,181.3 540.1,187.5 540.8,182.3 541.5,182.9 542.1,183.8 542.8,175.1 543.4,180.2 544.1,176.3 544.7,178.9 545.4,174 546.1,180.3 546.7,170.9 547.4,177.2 548,181.2 548.7,178.8 549.3,176 550,176.1 550.7,175.4 551.3,184.3 552,176 552.6,175.9 553.3,173.6 554,174.1 554.6,177.1 555.3,173.3 555.9,172.6 556.6,173.1 557.2,173.5 557.9,174.8 558.6,172.7 559.2,173.3 559.9,171.5 560.5,177.1 561.2,178.7 561.8,172.2 562.5,173.7 563.2,172.6 563.8,168 564.5,171.8 565.1,176.9 565.8,173.4 566.4,175.2 567.1,169.6 567.8,167.1 568.4,169.2 569.1,175 569.7,168 570.4,168.4 571,173.8 571.7,169.7 572.4,169.7 573,171.2 573.7,170.2 574.3,168.9 575,170.4 575.7,167.4 576.3,169.2 577,171.1 577.6,166 578.3,168.3 578.9,165.5 579.6,170.8 580.3,170.3 580.9,171.2 581.6,171.3 582.2,171.2 582.9,170.1 583.5,165.7 584.2,172.2 584.9,165.1 585.5,174.4 586.2,168.3 586.8,168.6 587.5,163.7 588.1,170.3 588.8,170.5 589.5,162.4 590.1,165.2 590.8,165.4 591.4,164.8 592.1,170.6 592.8,172.7 593.4,163.3 594.1,169.3 594.7,165.4 595.4,170 596,158.9 596.7,164.6 597.4,169.3 598,163.5 598.7,169.1 599.3,164 600,168.7 600.6,167 601.3,164 602,162.9 602.6,164.6 603.3,168.3 603.9,164.9 604.6,162.9 605.2,174.3 605.9,167.9 606.6,163.9 607.2,166 607.9,161.3 608.5,164.2 609.2,163 609.8,159.8 610.5,165.3 611.2,160.6 611.8,161.6 612.5,167.3 613.1,159.4 613.8,165.3 614.5,166.9 615.1,166.3 615.8,164.7 616.4,162.6 617.1,159.1 617.7,163.5 618.4,164.3 619.1,161.5 619.7,160 620.4,165.3 621,159.7 621.7,163.9 622.3,161.2 623,157.6 623.7,167.1 624.3,164.1 625,163.9 625.6,158.1 626.3,161.8 626.9,162.9 627.6,159.8 628.3,166.7 628.9,156 629.6,163.8 630.2,156.2 630.9,157 631.5,157.8 632.2,161.6 632.9,159.3 633.5,159.3 634.2,158.5 634.8,156.8 635.5,158.4 636.2,158.1 636.8,159.9 637.5,159.7 638.1,153.7 638.8,158.7 639.4,164 640.1,159 640.8,160.1 641.4,162.7 642.1,158.1 642.7,159.8 643.4,156 644,159.3 644.7,154.9 645.4,160.6 646,151.8 646.7,161.3 647.3,162.3 648,154.5 648.6,161.1 649.3,157.8 650,162.3 650.6,157.3 651.3,157.9 651.9,157.7 652.6,162.1 653.2,152.8 653.9,160.5 654.6,158.4 655.2,156.6 655.9,157.3 656.5,161.6 657.2,160.1 657.9,162.6 658.5,155.7 659.2,151.9 659.8,155.7 660.5,156.7 661.1,155.9 661.8,160.6 662.5,163.5 663.1,157.9 663.8,154.4 664.4,159.7 665.1,154.7 665.7,156.6 666.4,158.8 667.1,157.4 667.7,156 668.4,157 669,158.3 669.7,157.8 670.3,161.9 671,147.1 671.7,153.5 672.3,154 673,158 673.6,156.2 674.3,154.3 675,151.3 675.6,154.8 676.3,158.1 676.9,155.1 677.6,154.1 678.2,156 678.9,159.9 679.6,149 680.2,159.6 680.9,155.8 681.5,152.4 682.2,158.5 682.8,154.9 683.5,158.3 684.2,152.4 684.8,157.5 685.5,152 686.1,155.5 686.8,156.6 687.4,154.3 688.1,156.3 688.8,152.7 689.4,157.5 690.1,152.9 690.7,152.3 691.4,153.9 692,154.1 692.7,151.7 693.4,156.4 694,153.7 694.7,155.8 695.3,149.6 696,150.1 696.7,153.1 697.3,150.9 698,153.4 698.6,155.3 699.3,156.9 699.9,157.9 700.6,155.8 701.3,151.4 701.9,155 702.6,152 703.2,154.9 703.9,150.2 704.5,157 705.2,154.3 705.9,152.2 706.5,149 707.2,153.7 707.8,151.2 708.5,153.4 709.1,150.5 709.8,151 710.5,154.2 711.1,156.6 711.8,148.6 712.4,151.6 713.1,153.2 713.7,151.6 714.4,150.7 715.1,158.1 715.7,149.3 716.4,152.7 717,150.2 717.7,151.2 718.4,144.8 719,153.9 719.7,150.7 720.3,145.2 721,155.9 721.6,150.2 722.3,149.2 723,148.4 723.6,153.9 724.3,150.8 724.9,149.7 725.6,146.7 726.2,147.9 726.9,151.4 727.6,150.3 728.2,144.4 728.9,147.7 729.5,150.8 730.2,157.9 730.8,147.9 731.5,143.5 732.2,152.1 732.8,148.5 733.5,146 734.1,151.4 734.8,149.1 735.4,146.9 736.1,145.9 736.8,149.3 737.4,147.8 738.1,144.4 738.7,152.4 739.4,145.8 740.1,153.5 740.7,150.4 741.4,148.8 742,150.3 742.7,147.6 743.3,149.1 744,154 744.7,147.5 745.3,151.5 746,146.5 746.6,149.1 747.3,151.9 747.9,145.6 748.6,150 749.3,142.8 749.9,145.6 750.6,147.7 751.2,151.5 751.9,151 752.5,146.2 753.2,148.5 753.9,149.4 754.5,144.3 755.2,150 755.8,152.7 756.5,152.3 757.2,147 757.8,147.5 758.5,145.9 759.1,147.2 759.8,147.9 760.4,150.6 761.1,148.8 761.8,145.8 762.4,150.9 763.1,151.1 763.7,146.7 764.4,147.7 765,148.1 765.7,143.6 766.4,148.8 767,150.3 767.7,154 768.3,148.9 769,147.5 769.6,147.9 770.3,150 771,150.6 771.6,145.7 772.3,148.8 772.9,151.2 773.6,142.4 774.2,152.1 774.9,147.5 775.6,150.6 776.2,148 776.9,147.4 777.5,147.8 778.2,148.9 778.9,150.5 779.5,147.2 780.2,144.7 780.8,145.9 781.5,145.1 782.1,150.1 782.8,145.1 783.5,152.3 784.1,148.2 784.8,149 785.4,151.6 786.1,146.7 786.7,146.9 787.4,150 788.1,149.9 788.7,144.8 789.4,154.8 790,149.3 790.7,144 791.3,147.1 792,150.3 792.7,148.2 793.3,150 794,154.4 794.6,150.2 795.3,153.3 795.9,149.4 796.6,145.5 797.3,151.7 797.9,145.3 798.6,150.1 799.2,149.2 799.9,144.8 800.6,145.2 801.2,146.7 801.9,148.3 802.5,151 803.2,147.3 803.8,152.6 804.5,149.6 805.2,145.2 805.8,145.2 806.5,147.2 807.1,145.5 807.8,146.7 808.4,149.1 809.1,147.6 809.8,149.7 810.4,144.8 811.1,144.3 811.7,142.7 812.4,141.5 813,145.4 813.7,146.8 814.4,146 815,146.6 815.7,152.5 816.3,143.4 817,145.7 817.6,145 818.3,143.8 819,150.3 819.6,146.3 820.3,149.9 820.9,143 821.6,151.7 822.3,152.8 822.9,143.6 823.6,146.1 824.2,145.7 824.9,147.7 825.5,142.2 826.2,150.8 826.9,148 827.5,144.1 828.2,139.3 828.8,143.8 829.5,144.6 830.1,147.9 830.8,143.9 831.5,142.3 832.1,147.3 832.8,146.6 833.4,147.6 834.1,145.5 834.7,148.4 835.4,146.8 836.1,140.1 836.7,145.8 837.4,147.4 838,145.6 838.7,149.3 839.4,143.7 840,147 840.7,141.3 841.3,144.8 842,143.2 842.6,141.8 843.3,140.8 844,145.2 844.6,145.7 845.3,142.6 845.9,140.8 846.6,141.7 847.2,146.4 847.9,140.7 848.6,147.4 849.2,139.1 849.9,144.7 850.5,145.8 851.2,147.3 851.8,142.4 852.5,141.3 853.2,139.3 853.8,146 854.5,142.9 855.1,141.9 855.8,141.9 856.4,143.8 857.1,143 857.8,146.3 858.4,136.5 859.1,145.1 859.7,141 860.4,142.2 861.1,141.4 861.7,142 862.4,144.3 863,142.7 863.7,137.7 864.3,141.6 865,141.4 865.7,142.7 866.3,141.6 867,141.2 867.6,144.3 868.3,138 868.9,147.4 869.6,139.3" fill="none" stroke="#c4372f" stroke-width="6" stroke-linejoin="round"/>
<circle cx="212" cy="499.6" r="9.1" fill="#8b6cb7"/>
<circle cx="277.8" cy="344" r="9.1" fill="#8b6cb7"/>
<circle cx="343.5" cy="311" r="9.1" fill="#8b6cb7"/>
<circle cx="409.3" cy="268.5" r="9.1" fill="#8b6cb7"/>
<circle cx="475" cy="246" r="9.1" fill="#8b6cb7"/>
<circle cx="540.8" cy="229" r="9.1" fill="#8b6cb7"/>
<circle cx="606.6" cy="209.3" r="9.1" fill="#8b6cb7"/>
<circle cx="672.3" cy="196.5" r="9.1" fill="#8b6cb7"/>
<circle cx="738.1" cy="193.3" r="9.1" fill="#8b6cb7"/>
<circle cx="803.8" cy="188.6" r="9.1" fill="#8b6cb7"/>
<circle cx="869.6" cy="175.8" r="9.1" fill="#8b6cb7"/>
<circle cx="212" cy="499.6" r="9.1" fill="#c4372f"/>
<circle cx="277.8" cy="370.3" r="9.1" fill="#c4372f"/>
<circle cx="343.5" cy="325.9" r="9.1" fill="#c4372f"/>
<circle cx="409.3" cy="257" r="9.1" fill="#c4372f"/>
<circle cx="475" cy="229.7" r="9.1" fill="#c4372f"/>
<circle cx="540.8" cy="213.2" r="9.1" fill="#c4372f"/>
<circle cx="606.6" cy="196.5" r="9.1" fill="#c4372f"/>
<circle cx="672.3" cy="183.3" r="9.1" fill="#c4372f"/>
<circle cx="738.1" cy="174.8" r="9.1" fill="#c4372f"/>
<circle cx="803.8" cy="169.9" r="9.1" fill="#c4372f"/>
<circle cx="869.6" cy="156.4" r="9.1" fill="#c4372f"/>
<polyline points="212,499.6 277.8,344 343.5,311 409.3,268.5 475,246 540.8,229 606.6,209.3 672.3,196.5 738.1,193.3 803.8,188.6 869.6,175.8" fill="none" stroke="#8b6cb7" stroke-width="4.2" stroke-linejoin="round"/>
<polyline points="212,499.6 277.8,370.3 343.5,325.9 409.3,257 475,229.7 540.8,213.2 606.6,196.5 672.3,183.3 738.1,174.8 803.8,169.9 869.6,156.4" fill="none" stroke="#c4372f" stroke-width="4.2" stroke-linejoin="round"/>
<line x1="179.6" y1="41" x2="179.6" y2="521.0999999999999" stroke="#1f1f1f" stroke-width="2.6"/>
<line x1="178.3" y1="519.8" x2="903.5" y2="519.8" stroke="#1f1f1f" stroke-width="2.6"/>
<line x1="1007.8" y1="41" x2="1007.8" y2="520" stroke="#e6e6e6" stroke-width="2"/>
<line x1="1139.4" y1="41" x2="1139.4" y2="520" stroke="#e6e6e6" stroke-width="2"/>
<line x1="1270.9" y1="41" x2="1270.9" y2="520" stroke="#e6e6e6" stroke-width="2"/>
<line x1="1402.5" y1="41" x2="1402.5" y2="520" stroke="#e6e6e6" stroke-width="2"/>
<line x1="1534" y1="41" x2="1534" y2="520" stroke="#e6e6e6" stroke-width="2"/>
<line x1="1665.6" y1="41" x2="1665.6" y2="520" stroke="#e6e6e6" stroke-width="2"/>
<line x1="976.2" y1="497.8" x2="1698.4" y2="497.8" stroke="#e6e6e6" stroke-width="2"/>
<line x1="976.2" y1="395.8" x2="1698.4" y2="395.8" stroke="#e6e6e6" stroke-width="2"/>
<line x1="976.2" y1="293.9" x2="1698.4" y2="293.9" stroke="#e6e6e6" stroke-width="2"/>
<line x1="976.2" y1="191.9" x2="1698.4" y2="191.9" stroke="#e6e6e6" stroke-width="2"/>
<line x1="976.2" y1="89.9" x2="1698.4" y2="89.9" stroke="#e6e6e6" stroke-width="2"/>
<path d="M1007.8,497.8 1008.5,490.7 1009.1,483.6 1009.8,476.7 1010.4,470.3 1011.1,463.8 1011.7,457.9 1012.4,451.5 1013.1,445.7 1013.7,440.4 1014.4,435.2 1015,426.3 1015.7,420.5 1016.4,415.2 1017,409.3 1017.7,410.6 1018.3,405.9 1019,400.6 1019.6,397.5 1020.3,393.6 1021,389 1021.6,387 1022.3,383.6 1022.9,380.2 1023.6,378.3 1024.2,376.7 1024.9,374.5 1025.6,370.6 1026.2,366.1 1026.9,363.8 1027.5,360.6 1028.2,359.1 1028.8,357.2 1029.5,355.7 1030.2,353.9 1030.8,350.8 1031.5,348.4 1032.1,343 1032.8,342.1 1033.5,326.4 1034.1,334 1034.8,334 1035.4,330.1 1036.1,326.3 1036.7,326.3 1037.4,326.2 1038.1,323.6 1038.7,322.1 1039.4,320.2 1040,317.8 1040.7,321.2 1041.3,321.2 1042,320.1 1042.7,318.7 1043.3,321.3 1044,319.7 1044.6,317.8 1045.3,309.5 1046,309.2 1046.6,312.9 1047.3,315.6 1047.9,314 1048.6,313 1049.2,311.8 1049.9,312 1050.6,313.9 1051.2,314.3 1051.9,314.4 1052.5,308.7 1053.2,307.8 1053.8,306.9 1054.5,308.4 1055.2,311.4 1055.8,308.4 1056.5,309.2 1057.1,308.2 1057.8,301.1 1058.5,300.9 1059.1,301.1 1059.8,297.9 1060.4,308.9 1061.1,309.2 1061.7,303.8 1062.4,304.6 1063.1,305.8 1063.7,305.1 1064.4,304.9 1065,304.7 1065.7,292.5 1066.3,293.8 1067,301.4 1067.7,303.5 1068.3,301.4 1069,304.7 1069.6,301.7 1070.3,303.7 1070.9,303.6 1071.6,301.4 1072.3,292.4 1072.9,291.8 1073.6,299.4 1074.2,301.3 1074.9,299.8 1075.6,301.4 1076.2,301.2 1076.9,300 1077.5,300.3 1078.2,298.6 1078.8,301.9 1079.5,298.1 1080.2,300.1 1080.8,297.2 1081.5,297.4 1082.1,298.7 1082.8,298.4 1083.4,297.1 1084.1,298.7 1084.8,298.3 1085.4,297.3 1086.1,293.8 1086.7,292.9 1087.4,293.9 1088.1,291.6 1088.7,291.6 1089.4,291.6 1090,293.2 1090.7,292.8 1091.3,290.9 1092,285.3 1092.7,285.4 1093.3,286.2 1094,286.6 1094.6,287.7 1095.3,289.3 1095.9,286.9 1096.6,290.6 1097.3,289.3 1097.9,289.5 1098.6,284.7 1099.2,285.3 1099.9,287.3 1100.5,289 1101.2,286.2 1101.9,287.2 1102.5,288.5 1103.2,288.6 1103.8,285.7 1104.5,283.9 1105.2,283 1105.8,282 1106.5,282.4 1107.1,283.6 1107.8,281.7 1108.4,281.8 1109.1,281.1 1109.8,279 1110.4,281.3 1111.1,266.2 1111.7,275.7 1112.4,276 1113,274 1113.7,271.2 1114.4,270.7 1115,272.2 1115.7,269.4 1116.3,265.5 1117,248.7 1117.7,247.1 1118.3,245.2 1119,252.8 1119.6,250.2 1120.3,235.3 1120.9,231.2 1121.6,231.4 1122.3,224.6 1122.9,234.9 1123.6,231.8 1124.2,230.8 1124.9,229.8 1125.5,226.5 1126.2,227.6 1126.9,226.2 1127.5,218.8 1128.2,226.7 1128.8,223.6 1129.5,222.6 1130.2,219.3 1130.8,216 1131.5,216.1 1132.1,213.9 1132.8,217.2 1133.4,215.2 1134.1,216.6 1134.8,217.1 1135.4,216.8 1136.1,216.9 1136.7,207.4 1137.4,214.1 1138,215.1 1138.7,214.6 1139.4,212.3 1140,213.7 1140.7,212.8 1141.3,214.6 1142,213.6 1142.6,215.3 1143.3,214 1144,203.1 1144.6,210.1 1145.3,211.8 1145.9,212.7 1146.6,210.7 1147.3,209.1 1147.9,210.5 1148.6,208 1149.2,209 1149.9,211 1150.5,210.2 1151.2,209 1151.9,199 1152.5,204.8 1153.2,205.4 1153.8,206.5 1154.5,206.1 1155.1,206.4 1155.8,205.3 1156.5,204.9 1157.1,203 1157.8,199 1158.4,201 1159.1,202.5 1159.8,200.8 1160.4,201.9 1161.1,201.8 1161.7,199.8 1162.4,198.6 1163,199 1163.7,197.5 1164.4,197.1 1165,196.9 1165.7,196.5 1166.3,197.8 1167,193.4 1167.6,197.2 1168.3,195.4 1169,195.4 1169.6,196.2 1170.3,193.1 1170.9,190.5 1171.6,191.1 1172.2,191.3 1172.9,191.7 1173.6,195.5 1174.2,192.8 1174.9,193.7 1175.5,193.3 1176.2,191.7 1176.9,192.3 1177.5,189 1178.2,190.2 1178.8,189.5 1179.5,188.6 1180.1,190.1 1180.8,187.9 1181.5,187.4 1182.1,187.4 1182.8,188.8 1183.4,187.6 1184.1,186.5 1184.7,185.9 1185.4,182.3 1186.1,182 1186.7,181.6 1187.4,179.8 1188,178.4 1188.7,181.2 1189.4,177.4 1190,169.7 1190.7,170.6 1191.3,174.7 1192,175.4 1192.6,173.4 1193.3,172.2 1194,171.3 1194.6,170.3 1195.3,171.6 1195.9,171.8 1196.6,169.6 1197.2,169.6 1197.9,168.6 1198.6,168.9 1199.2,167.6 1199.9,167.9 1200.5,165.8 1201.2,166.6 1201.9,165.8 1202.5,162.8 1203.2,163.7 1203.8,161.9 1204.5,161.2 1205.1,161.5 1205.8,159 1206.5,156.8 1207.1,157.1 1207.8,159.5 1208.4,158.3 1209.1,155.5 1209.7,152.9 1210.4,151.7 1211.1,153.9 1211.7,152 1212.4,151.6 1213,152.9 1213.7,145.4 1214.3,146 1215,142.9 1215.7,143.4 1216.3,143.7 1217,143.2 1217.6,144.9 1218.3,143.4 1219,144 1219.6,139.2 1220.3,142 1220.9,143.2 1221.6,141.1 1222.2,139.3 1222.9,134.4 1223.6,134.9 1224.2,140.3 1224.9,140.1 1225.5,140.1 1226.2,138.9 1226.8,136.7 1227.5,137.4 1228.2,128.5 1228.8,129.7 1229.5,130.4 1230.1,135.9 1230.8,133.6 1231.5,137.2 1232.1,134.3 1232.8,130.8 1233.4,132.5 1234.1,134.5 1234.7,132.6 1235.4,122.8 1236.1,128.2 1236.7,125.1 1237.4,131 1238,130.5 1238.7,131.4 1239.3,133.2 1240,128.7 1240.7,118.1 1241.3,118.8 1242,117 1242.6,116.1 1243.3,122.1 1244,127.3 1244.6,122.7 1245.3,123.1 1245.9,122.7 1246.6,121 1247.2,123.1 1247.9,123.5 1248.6,122 1249.2,121.2 1249.9,122.9 1250.5,120.9 1251.2,116.2 1251.8,114.7 1252.5,115.6 1253.2,120.4 1253.8,119 1254.5,121.2 1255.1,122 1255.8,121.9 1256.4,120.6 1257.1,110 1257.8,108.1 1258.4,121 1259.1,119.7 1259.7,122 1260.4,122.5 1261.1,122.2 1261.7,120.7 1262.4,122.2 1263,120.3 1263.7,120 1264.3,118.2 1265,121.2 1265.7,123.3 1266.3,121.6 1267,122.7 1267.6,120.8 1268.3,120.9 1268.9,119.6 1269.6,121.5 1270.3,118.6 1270.9,117.1 1271.6,119.9 1272.2,119.8 1272.9,119.6 1273.6,118.1 1274.2,120 1274.9,119.6 1275.5,120.2 1276.2,108.7 1276.8,106.4 1277.5,107 1278.2,110.5 1278.8,116.3 1279.5,120.2 1280.1,105.8 1280.8,103.8 1281.4,104.6 1282.1,115.7 1282.8,114.6 1283.4,115 1284.1,116.7 1284.7,114.8 1285.4,115.9 1286,117.8 1286.7,114.8 1287.4,113.5 1288,113.8 1288.7,113.7 1289.3,111.2 1290,112.2 1290.7,111.1 1291.3,112.1 1292,110 1292.6,112.3 1293.3,110 1293.9,108.8 1294.6,110.2 1295.3,108 1295.9,110.7 1296.6,108.2 1297.2,108.2 1297.9,109.8 1298.5,110.6 1299.2,107.9 1299.9,108 1300.5,106.2 1301.2,106.4 1301.8,105.3 1302.5,104 1303.2,100 1303.8,102.2 1304.5,99.1 1305.1,104.2 1305.8,94.9 1306.4,92.9 1307.1,103.7 1307.8,101.9 1308.4,103.1 1309.1,104.7 1309.7,101.3 1310.4,102.4 1311,101.2 1311.7,99 1312.4,99.4 1313,103.2 1313.7,104.9 1314.3,103.6 1315,103.2 1315.7,102.4 1316.3,102.2 1317,102 1317.6,102.1 1318.3,104.7 1318.9,103.7 1319.6,101 1320.3,102.4 1320.9,102.8 1321.6,103.2 1322.2,102.4 1322.9,102.5 1323.5,98.6 1324.2,102.3 1324.9,102.1 1325.5,98.4 1326.2,96.6 1326.8,101.5 1327.5,103.4 1328.1,101.8 1328.8,91.9 1329.5,91.3 1330.1,89.4 1330.8,102.5 1331.4,101.8 1332.1,101.6 1332.8,102.7 1333.4,96.7 1334.1,98.5 1334.7,98.4 1335.4,98.2 1336,96.6 1336.7,97.6 1337.4,98 1338,99.3 1338.7,97.5 1339.3,99.4 1340,99.3 1340.6,98.9 1341.3,93.7 1342,95.5 1342.6,92.5 1343.3,93.8 1343.9,95.5 1344.6,96.9 1345.3,95.2 1345.9,97.4 1346.6,97.4 1347.2,89.5 1347.9,90.9 1348.5,88.7 1349.2,90.9 1349.9,94.8 1350.5,96.4 1351.2,97.5 1351.8,93.5 1352.5,95.5 1353.1,94 1353.8,95.1 1354.5,85.5 1355.1,94.9 1355.8,94.1 1356.4,93.9 1357.1,93.5 1357.7,95.2 1358.4,96 1359.1,95.9 1359.7,96.5 1360.4,94.2 1361,95.6 1361.7,91.8 1362.4,93.4 1363,91.8 1363.7,90.4 1364.3,88.3 1365,98.6 1365.6,98.7 1366.3,98.7 1367,99.9 1367.6,100 1368.3,99.4 1368.9,102.5 1369.6,97 1370.2,93.4 1370.9,93.7 1371.6,95.4 1372.2,100.2 1372.9,100.6 1373.5,100.6 1374.2,99.8 1374.9,98.2 1375.5,100.5 1376.2,101.3 1376.8,102.2 1377.5,101.9 1378.1,101.5 1378.8,99.9 1379.5,99.3 1380.1,100.7 1380.8,102 1381.4,98.5 1382.1,102.1 1382.7,100.8 1383.4,100.1 1384.1,100.5 1384.7,97.6 1385.4,98.6 1386,97.4 1386.7,98.9 1387.4,95.8 1388,96.8 1388.7,96.6 1389.3,95.7 1390,96.7 1390.6,84.7 1391.3,85.5 1392,86.9 1392.6,96.6 1393.3,99.5 1393.9,96.2 1394.6,96.7 1395.2,94.4 1395.9,98.8 1396.6,92.6 1397.2,94 1397.9,95.5 1398.5,92.8 1399.2,94.2 1399.8,94.3 1400.5,91.9 1401.2,95.8 1401.8,94.3 1402.5,92.9 1403.1,93.9 1403.8,92.6 1404.5,92.8 1405.1,95.5 1405.8,93.7 1406.4,87.2 1407.1,87.5 1407.7,90.3 1408.4,87.7 1409.1,94.2 1409.7,92 1410.4,93.6 1411,88.5 1411.7,92.4 1412.3,92.2 1413,93.7 1413.7,90.1 1414.3,88.5 1415,91.6 1415.6,89.2 1416.3,90.1 1417,86.4 1417.6,92.7 1418.3,91.1 1418.9,90.5 1419.6,85.7 1420.2,84.8 1420.9,84.7 1421.6,90.5 1422.2,92.3 1422.9,90.6 1423.5,90 1424.2,92.6 1424.8,88.7 1425.5,88.8 1426.2,90.4 1426.8,87.9 1427.5,91.6 1428.1,91.7 1428.8,91.2 1429.4,91.2 1430.1,87.8 1430.8,89.9 1431.4,89.9 1432.1,89.2 1432.7,87.4 1433.4,89 1434.1,89.4 1434.7,88.3 1435.4,86.8 1436,79.6 1436.7,77.2 1437.3,78.3 1438,87.4 1438.7,86.3 1439.3,84.1 1440,86.7 1440.6,76.5 1441.3,77.3 1441.9,77.5 1442.6,84.3 1443.3,83.2 1443.9,83.2 1444.6,84.5 1445.2,84 1445.9,85.8 1446.6,85.5 1447.2,85.8 1447.9,84.2 1448.5,84.8 1449.2,84.7 1449.8,83.6 1450.5,85.7 1451.2,84.8 1451.8,83.4 1452.5,82.4 1453.1,84.5 1453.8,83.1 1454.4,77 1455.1,80.1 1455.8,78.5 1456.4,86.2 1457.1,85.4 1457.7,79.7 1458.4,81.8 1459.1,79.5 1459.7,80.3 1460.4,85.1 1461,81.2 1461.7,82.9 1462.3,86.8 1463,84.5 1463.7,85.3 1464.3,84.5 1465,85.6 1465.6,84.6 1466.3,84.5 1466.9,84.7 1467.6,84.6 1468.3,84.4 1468.9,83.3 1469.6,79.1 1470.2,83.8 1470.9,84.9 1471.5,82.1 1472.2,84.3 1472.9,83.8 1473.5,83 1474.2,82.5 1474.8,82.5 1475.5,82.2 1476.2,82.7 1476.8,81.1 1477.5,81.5 1478.1,83.3 1478.8,82.9 1479.4,84.4 1480.1,81.9 1480.8,83.1 1481.4,80.4 1482.1,83.7 1482.7,81 1483.4,84.2 1484,85.2 1484.7,84.2 1485.4,82.6 1486,81.8 1486.7,84.3 1487.3,82 1488,84 1488.7,84 1489.3,83.8 1490,81.4 1490.6,83.3 1491.3,83.2 1491.9,85.6 1492.6,71.5 1493.3,71.5 1493.9,69.8 1494.6,83.9 1495.2,83.8 1495.9,84.1 1496.5,83.8 1497.2,83.3 1497.9,85.2 1498.5,82.5 1499.2,84.2 1499.8,85.4 1500.5,85 1501.1,86 1501.8,86 1502.5,82.7 1503.1,83 1503.8,85.4 1504.4,84.7 1505.1,79.9 1505.8,82.9 1506.4,81.6 1507.1,81.2 1507.7,84.1 1508.4,84.1 1509,84.2 1509.7,83.5 1510.4,85.6 1511,83.4 1511.7,83.1 1512.3,84.9 1513,82.5 1513.6,84.1 1514.3,86.1 1515,76.4 1515.6,73.6 1516.3,72.9 1516.9,73.9 1517.6,83.8 1518.3,75.7 1518.9,74.1 1519.6,81.6 1520.2,83.2 1520.9,80.6 1521.5,81.4 1522.2,81.3 1522.9,81 1523.5,80.3 1524.2,81.2 1524.8,78.6 1525.5,77.6 1526.1,77.4 1526.8,79.8 1527.5,83 1528.1,81.8 1528.8,82.9 1529.4,80.6 1530.1,81.9 1530.8,86.3 1531.4,81.3 1532.1,72.3 1532.7,73 1533.4,73.7 1534,84.6 1534.7,85 1535.4,77.8 1536,77.6 1536.7,83.8 1537.3,83.3 1538,84.9 1538.6,83.1 1539.3,84 1540,83.3 1540.6,83.1 1541.3,84.3 1541.9,82.2 1542.6,82.7 1543.2,84.2 1543.9,81.4 1544.6,81.5 1545.2,85.5 1545.9,86.3 1546.5,72.2 1547.2,70.8 1547.9,82.1 1548.5,82.4 1549.2,83.2 1549.8,81.8 1550.5,82.1 1551.1,79.2 1551.8,78.3 1552.5,81.4 1553.1,81.8 1553.8,81.7 1554.4,83.5 1555.1,80.4 1555.7,81.3 1556.4,80.9 1557.1,79.3 1557.7,78.7 1558.4,79.2 1559,80.9 1559.7,78.8 1560.4,80.8 1561,79.1 1561.7,78.1 1562.3,77.4 1563,76 1563.6,79.8 1564.3,77 1565,79.7 1565.6,79.6 1566.3,81 1566.9,76.8 1567.6,75.7 1568.2,78.4 1568.9,77 1569.6,76.7 1570.2,78 1570.9,76.2 1571.5,75.7 1572.2,76.5 1572.9,76.9 1573.5,74 1574.2,73.2 1574.8,75.6 1575.5,75.2 1576.1,74.2 1576.8,77.8 1577.5,74.4 1578.1,70.9 1578.8,74.7 1579.4,71.4 1580.1,75.2 1580.7,74.1 1581.4,75.1 1582.1,76.4 1582.7,77.2 1583.4,72.1 1584,75.6 1584.7,74.3 1585.3,73.6 1586,75.1 1586.7,75.4 1587.3,74 1588,76.6 1588.6,77.6 1589.3,78.3 1590,72.4 1590.6,71.9 1591.3,74 1591.9,73.9 1592.6,75.9 1593.2,75.4 1593.9,77.9 1594.6,75.2 1595.2,75.5 1595.9,76.7 1596.5,78.2 1597.2,75.3 1597.8,75.2 1598.5,73.9 1599.2,76.9 1599.8,74.8 1600.5,77.3 1601.1,76.2 1601.8,77.1 1602.5,76.9 1603.1,75.2 1603.8,78 1604.4,76.1 1605.1,69.1 1605.7,68.9 1606.4,78.5 1607.1,77.4 1607.7,80.4 1608.4,78.3 1609,76.9 1609.7,77.2 1610.3,79.8 1611,79.4 1611.7,79.4 1612.3,76.7 1613,79.1 1613.6,78.7 1614.3,79.2 1614.9,78.7 1615.6,81.1 1616.3,79.8 1616.9,79.7 1617.6,79.1 1618.2,81.6 1618.9,79.5 1619.6,78.3 1620.2,79.8 1620.9,80.1 1621.5,84.1 1622.2,79.4 1622.8,76.5 1623.5,77.5 1624.2,80.6 1624.8,80.2 1625.5,77.5 1626.1,82.3 1626.8,81.9 1627.4,80 1628.1,81.1 1628.8,84.1 1629.4,81.1 1630.1,80.9 1630.7,82.4 1631.4,80.7 1632.1,80.7 1632.7,83.3 1633.4,70.5 1634,76.6 1634.7,77 1635.3,81.8 1636,81.8 1636.7,79.8 1637.3,79.3 1638,81.1 1638.6,80 1639.3,77 1639.9,78.2 1640.6,76.8 1641.3,77.9 1641.9,76.2 1642.6,77.9 1643.2,77.5 1643.9,77.7 1644.6,76.4 1645.2,74.1 1645.9,75 1646.5,73.5 1647.2,74.7 1647.8,74.3 1648.5,72.4 1649.2,73.1 1649.8,73.8 1650.5,71.9 1651.1,71 1651.8,73 1652.4,76 1653.1,74.1 1653.8,71.1 1654.4,65.9 1655.1,66.1 1655.7,63.4 1656.4,66.2 1657,70.9 1657.7,61.7 1658.4,73 1659,74.9 1659.7,70.5 1660.3,74.7 1661,74 1661.7,68 1662.3,70.7 1663,68.5 1663.6,72.7 1664.3,68 1664.9,74.1 1665.6,66.5 L1665.6,152.8 1664.9,150.8 1664.3,150.2 1663.6,150.1 1663,150.5 1662.3,151 1661.7,152.1 1661,153.5 1660.3,158.3 1659.7,160.4 1659,157.8 1658.4,158.9 1657.7,152.6 1657,149.6 1656.4,151 1655.7,150.9 1655.1,157.9 1654.4,157 1653.8,148.8 1653.1,149.7 1652.4,148.1 1651.8,150.3 1651.1,148.5 1650.5,146.3 1649.8,155.6 1649.2,153.9 1648.5,154.5 1647.8,161 1647.2,159.5 1646.5,147.8 1645.9,146.4 1645.2,150.1 1644.6,148.5 1643.9,150.2 1643.2,147.9 1642.6,149 1641.9,150.4 1641.3,151.9 1640.6,151.3 1639.9,150.3 1639.3,149.4 1638.6,153.1 1638,152.1 1637.3,153.6 1636.7,154.1 1636,151 1635.3,152.1 1634.7,149.9 1634,149.4 1633.4,159.9 1632.7,157.6 1632.1,158.6 1631.4,157.8 1630.7,158.7 1630.1,151.8 1629.4,154.3 1628.8,151.9 1628.1,154.1 1627.4,153.3 1626.8,153.9 1626.1,154.2 1625.5,152.3 1624.8,155.6 1624.2,153.7 1623.5,152.8 1622.8,154.9 1622.2,155.6 1621.5,157.2 1620.9,156.1 1620.2,155.7 1619.6,158 1618.9,157.7 1618.2,155.4 1617.6,156.8 1616.9,155.3 1616.3,159.4 1615.6,165.7 1614.9,165.3 1614.3,165.5 1613.6,158.1 1613,160.6 1612.3,159.1 1611.7,160.1 1611,157.6 1610.3,160.2 1609.7,163.4 1609,164.3 1608.4,164.6 1607.7,157.7 1607.1,159.8 1606.4,168.5 1605.7,167 1605.1,169.5 1604.4,159.6 1603.8,158.9 1603.1,161.3 1602.5,161.5 1601.8,159.3 1601.1,159.6 1600.5,164.1 1599.8,166.2 1599.2,160.4 1598.5,159 1597.8,160.7 1597.2,158.7 1596.5,159.6 1595.9,162.3 1595.2,160.9 1594.6,157.2 1593.9,160.4 1593.2,156.8 1592.6,157.6 1591.9,158.8 1591.3,159.6 1590.6,157.7 1590,159.3 1589.3,159.8 1588.6,159.8 1588,158.1 1587.3,157.2 1586.7,155.7 1586,158.3 1585.3,160.6 1584.7,160 1584,157.9 1583.4,158.4 1582.7,159.1 1582.1,161.7 1581.4,159.8 1580.7,161.8 1580.1,158.8 1579.4,157.5 1578.8,158.5 1578.1,164.9 1577.5,166.7 1576.8,165.5 1576.1,158.5 1575.5,161.1 1574.8,157.5 1574.2,160.3 1573.5,158.5 1572.9,158.3 1572.2,160.9 1571.5,159.7 1570.9,160.2 1570.2,160.5 1569.6,161.4 1568.9,161.7 1568.2,161.4 1567.6,164.5 1566.9,163.8 1566.3,160.3 1565.6,161.1 1565,161 1564.3,163.1 1563.6,161.6 1563,163 1562.3,161.5 1561.7,164.4 1561,170.3 1560.4,170.2 1559.7,173 1559,173.5 1558.4,161.8 1557.7,162.7 1557.1,163.1 1556.4,162.9 1555.7,165.1 1555.1,163.2 1554.4,161.1 1553.8,164.6 1553.1,165.4 1552.5,166.1 1551.8,166.6 1551.1,162.8 1550.5,161.1 1549.8,161.8 1549.2,160.6 1548.5,162.7 1547.9,161.6 1547.2,171.2 1546.5,162 1545.9,161.7 1545.2,163.8 1544.6,173.1 1543.9,171.6 1543.2,171.3 1542.6,172.5 1541.9,173 1541.3,163.2 1540.6,162 1540,163.4 1539.3,161 1538.6,162.8 1538,163.7 1537.3,160.7 1536.7,162 1536,160.9 1535.4,159.9 1534.7,161.7 1534,169.9 1533.4,169.6 1532.7,164.6 1532.1,166.9 1531.4,166.3 1530.8,164.6 1530.1,162.3 1529.4,163.4 1528.8,162.1 1528.1,166.7 1527.5,166.5 1526.8,166.3 1526.1,167.8 1525.5,168 1524.8,175.2 1524.2,175.6 1523.5,177.4 1522.9,163.7 1522.2,162.9 1521.5,160.8 1520.9,163.3 1520.2,167.9 1519.6,168.4 1518.9,165.5 1518.3,167.9 1517.6,164.9 1516.9,165.4 1516.3,163.8 1515.6,162.5 1515,162.6 1514.3,163.2 1513.6,165.9 1513,165.3 1512.3,165.9 1511.7,163.2 1511,164.9 1510.4,163.4 1509.7,172.1 1509,170.5 1508.4,172.3 1507.7,171.3 1507.1,164.8 1506.4,168.1 1505.8,168 1505.1,167 1504.4,169.2 1503.8,166.4 1503.1,166.1 1502.5,172.6 1501.8,173.6 1501.1,174.3 1500.5,176.5 1499.8,168.8 1499.2,168.3 1498.5,179 1497.9,180.6 1497.2,180.5 1496.5,167.9 1495.9,168.7 1495.2,166.7 1494.6,167.1 1493.9,166.5 1493.3,167 1492.6,168.9 1491.9,165.8 1491.3,167.7 1490.6,170.5 1490,169.4 1489.3,168.7 1488.7,166.4 1488,169.5 1487.3,166.4 1486.7,169.9 1486,166.5 1485.4,173.3 1484.7,172.8 1484,167.3 1483.4,165.4 1482.7,167.4 1482.1,166.3 1481.4,176.2 1480.8,167 1480.1,164.2 1479.4,163.9 1478.8,166.7 1478.1,165.2 1477.5,165.6 1476.8,172.7 1476.2,171.1 1475.5,171.1 1474.8,170.7 1474.2,166.5 1473.5,164.9 1472.9,167.7 1472.2,168.6 1471.5,168 1470.9,165.7 1470.2,165.4 1469.6,169 1468.9,171.8 1468.3,169.9 1467.6,165 1466.9,168.1 1466.3,172.6 1465.6,162.3 1465,165.2 1464.3,169.7 1463.7,168.3 1463,166.1 1462.3,164.5 1461.7,165.8 1461,167.6 1460.4,167.6 1459.7,165.1 1459.1,171.7 1458.4,168.8 1457.7,167.9 1457.1,176.4 1456.4,176.8 1455.8,174.6 1455.1,166.5 1454.4,166.2 1453.8,169.2 1453.1,167.4 1452.5,167.6 1451.8,167.1 1451.2,168.9 1450.5,171.7 1449.8,172.3 1449.2,173 1448.5,171.4 1447.9,168.2 1447.2,171.5 1446.6,169.6 1445.9,168.7 1445.2,172.9 1444.6,172.3 1443.9,174.3 1443.3,172.8 1442.6,171.6 1441.9,170.6 1441.3,171.3 1440.6,170 1440,169.4 1439.3,171.9 1438.7,171.8 1438,169.9 1437.3,170.2 1436.7,183.2 1436,182.5 1435.4,180.8 1434.7,181.3 1434.1,177.2 1433.4,176.5 1432.7,173.1 1432.1,169.1 1431.4,171 1430.8,167.8 1430.1,167.4 1429.4,170 1428.8,168.5 1428.1,168.7 1427.5,170.1 1426.8,168.1 1426.2,168.6 1425.5,169 1424.8,168.4 1424.2,168 1423.5,167.4 1422.9,169 1422.2,166.4 1421.6,170.2 1420.9,169.3 1420.2,168.5 1419.6,167.7 1418.9,167.3 1418.3,168 1417.6,169.2 1417,169.4 1416.3,168.6 1415.6,170.2 1415,172.8 1414.3,175.5 1413.7,172.9 1413,173.2 1412.3,170.5 1411.7,171.9 1411,171.7 1410.4,171.2 1409.7,172.3 1409.1,172.1 1408.4,174.6 1407.7,173.9 1407.1,182 1406.4,174.1 1405.8,174.3 1405.1,176.4 1404.5,176.5 1403.8,176.7 1403.1,178.1 1402.5,178.4 1401.8,179.2 1401.2,177.1 1400.5,175.4 1399.8,176.5 1399.2,176.5 1398.5,175.9 1397.9,180.1 1397.2,178.7 1396.6,179 1395.9,181.9 1395.2,181.1 1394.6,180.9 1393.9,181.1 1393.3,179.8 1392.6,180.6 1392,183.3 1391.3,180.9 1390.6,180.2 1390,180.3 1389.3,178.7 1388.7,182 1388,179.5 1387.4,180.5 1386.7,182.7 1386,184 1385.4,182.9 1384.7,183.1 1384.1,183.7 1383.4,182.4 1382.7,182.2 1382.1,183.8 1381.4,193.2 1380.8,196.4 1380.1,197.3 1379.5,181 1378.8,184.2 1378.1,184.6 1377.5,196.2 1376.8,185 1376.2,184.3 1375.5,186 1374.9,184.1 1374.2,184.7 1373.5,186.9 1372.9,185.4 1372.2,186.1 1371.6,186.1 1370.9,186.3 1370.2,197 1369.6,198 1368.9,198.1 1368.3,197.9 1367.6,187.1 1367,187.1 1366.3,187.6 1365.6,186.1 1365,187.4 1364.3,186.7 1363.7,184.3 1363,189.3 1362.4,199.2 1361.7,186.6 1361,185.7 1360.4,187.3 1359.7,186 1359.1,186.6 1358.4,186.9 1357.7,186.6 1357.1,188.5 1356.4,187.5 1355.8,190 1355.1,187.7 1354.5,188.1 1353.8,199.8 1353.1,199.9 1352.5,198.3 1351.8,198.5 1351.2,188.1 1350.5,187.9 1349.9,188 1349.2,190.5 1348.5,190.5 1347.9,192 1347.2,189.5 1346.6,191 1345.9,193.5 1345.3,191.4 1344.6,193.1 1343.9,197.5 1343.3,191.1 1342.6,193.8 1342,194.9 1341.3,191.9 1340.6,195 1340,195.1 1339.3,194.8 1338.7,199 1338,196.1 1337.4,199.9 1336.7,196.2 1336,195.8 1335.4,196.1 1334.7,198.5 1334.1,196.5 1333.4,195.6 1332.8,195.9 1332.1,193.7 1331.4,199.7 1330.8,196.6 1330.1,196.7 1329.5,198.1 1328.8,196.6 1328.1,196.3 1327.5,198.8 1326.8,199.3 1326.2,198.4 1325.5,196.7 1324.9,197.7 1324.2,197.9 1323.5,196.4 1322.9,198.8 1322.2,199 1321.6,197.3 1320.9,198.9 1320.3,200.7 1319.6,200.1 1318.9,199.5 1318.3,198.3 1317.6,198.9 1317,202 1316.3,202.7 1315.7,200.1 1315,201.4 1314.3,200.8 1313.7,202.1 1313,202.3 1312.4,204 1311.7,203.3 1311,209 1310.4,207.5 1309.7,206.7 1309.1,203.9 1308.4,202.8 1307.8,203.9 1307.1,204.4 1306.4,206 1305.8,205.8 1305.1,206.8 1304.5,205.1 1303.8,205.7 1303.2,206.6 1302.5,205.6 1301.8,204.2 1301.2,207.3 1300.5,207.1 1299.9,207.5 1299.2,210 1298.5,210.4 1297.9,210.2 1297.2,209.8 1296.6,209.8 1295.9,211.9 1295.3,213.1 1294.6,211.1 1293.9,211 1293.3,211.5 1292.6,210 1292,222.4 1291.3,217.4 1290.7,219.9 1290,211.6 1289.3,213 1288.7,212.7 1288,210.7 1287.4,210.3 1286.7,214.5 1286,214.3 1285.4,212.7 1284.7,213.3 1284.1,210.9 1283.4,212.4 1282.8,214.1 1282.1,226 1281.4,226.6 1280.8,214.9 1280.1,217.2 1279.5,224.6 1278.8,223.8 1278.2,222.5 1277.5,225 1276.8,216.2 1276.2,218.2 1275.5,217.9 1274.9,220.4 1274.2,218.9 1273.6,220.1 1272.9,220.9 1272.2,219.5 1271.6,221.5 1270.9,221.6 1270.3,220.4 1269.6,232.6 1268.9,233.8 1268.3,232.1 1267.6,231.1 1267,229.8 1266.3,221.4 1265.7,227.3 1265,225.9 1264.3,224.5 1263.7,225 1263,227.3 1262.4,227.5 1261.7,226.8 1261.1,227.9 1260.4,230.8 1259.7,229.2 1259.1,229.8 1258.4,229.8 1257.8,227.9 1257.1,227.3 1256.4,230.4 1255.8,230.8 1255.1,230.1 1254.5,230.3 1253.8,231.2 1253.2,230.2 1252.5,231.8 1251.8,229.4 1251.2,231.1 1250.5,231.1 1249.9,231.9 1249.2,229.5 1248.6,232.4 1247.9,230.2 1247.2,232.3 1246.6,232.7 1245.9,232.4 1245.3,244.4 1244.6,246.2 1244,242.3 1243.3,244.2 1242.6,244.4 1242,235 1241.3,233.4 1240.7,234.1 1240,244.8 1239.3,247.1 1238.7,245.4 1238,235 1237.4,237.5 1236.7,233.6 1236.1,237.3 1235.4,235.2 1234.7,235.7 1234.1,238.9 1233.4,241.1 1232.8,239.4 1232.1,250.1 1231.5,248.9 1230.8,242 1230.1,240.9 1229.5,242.8 1228.8,242.7 1228.2,243.6 1227.5,245.1 1226.8,243.9 1226.2,244.8 1225.5,243.9 1224.9,248.5 1224.2,248.2 1223.6,248.3 1222.9,245.8 1222.2,245.1 1221.6,248.8 1220.9,247.8 1220.3,250.9 1219.6,251 1219,250.2 1218.3,252.1 1217.6,252.6 1217,252.9 1216.3,254.4 1215.7,264 1215,254.7 1214.3,254.1 1213.7,256.6 1213,257.5 1212.4,259 1211.7,263.7 1211.1,259.5 1210.4,265.3 1209.7,264.1 1209.1,267.7 1208.4,263.1 1207.8,263.3 1207.1,265.1 1206.5,268 1205.8,266.5 1205.1,267.2 1204.5,268.1 1203.8,269.7 1203.2,270.2 1202.5,271.7 1201.9,274.2 1201.2,275.4 1200.5,279.3 1199.9,280.5 1199.2,280.9 1198.6,276 1197.9,277.1 1197.2,278.2 1196.6,278.7 1195.9,282.9 1195.3,280.9 1194.6,281.6 1194,282 1193.3,289.7 1192.6,291.2 1192,291.9 1191.3,287.2 1190.7,297.4 1190,300.2 1189.4,290 1188.7,300.8 1188,302.2 1187.4,289.4 1186.7,291.8 1186.1,291 1185.4,294.4 1184.7,298.8 1184.1,299.8 1183.4,300.2 1182.8,301.2 1182.1,297.4 1181.5,306.7 1180.8,308.7 1180.1,310.3 1179.5,310.6 1178.8,302.4 1178.2,303.3 1177.5,304.8 1176.9,307 1176.2,306.8 1175.5,307.4 1174.9,307.9 1174.2,308.1 1173.6,311.1 1172.9,311.5 1172.2,309.1 1171.6,313.4 1170.9,312.5 1170.3,315.1 1169.6,314.7 1169,315 1168.3,314.9 1167.6,317.2 1167,317.4 1166.3,318.3 1165.7,316.6 1165,320.8 1164.4,320 1163.7,320.6 1163,326.2 1162.4,324.2 1161.7,320.6 1161.1,323.1 1160.4,322.4 1159.8,322.8 1159.1,328.6 1158.4,328.8 1157.8,328.7 1157.1,326.2 1156.5,329.3 1155.8,327.9 1155.1,329.2 1154.5,333.4 1153.8,330.2 1153.2,331.4 1152.5,331.5 1151.9,331.4 1151.2,330.7 1150.5,332.7 1149.9,337.2 1149.2,334.5 1148.6,335.9 1147.9,334.9 1147.3,336.2 1146.6,336.1 1145.9,336.9 1145.3,337.3 1144.6,337 1144,337.9 1143.3,337.7 1142.6,337.5 1142,338.2 1141.3,339.5 1140.7,339 1140,340.7 1139.4,339.7 1138.7,351.4 1138,340.4 1137.4,342.9 1136.7,340.6 1136.1,343.6 1135.4,341 1134.8,342.6 1134.1,344.2 1133.4,344.2 1132.8,340.1 1132.1,344.1 1131.5,343.9 1130.8,345.1 1130.2,345.6 1129.5,346.3 1128.8,346.6 1128.2,344.9 1127.5,344.5 1126.9,346.6 1126.2,346.6 1125.5,346.7 1124.9,345.2 1124.2,348.7 1123.6,346.8 1122.9,347.7 1122.3,349.3 1121.6,347.7 1120.9,348.9 1120.3,348.9 1119.6,349 1119,351 1118.3,349.5 1117.7,348.2 1117,348.1 1116.3,348.6 1115.7,360.4 1115,359.1 1114.4,362.5 1113.7,362.4 1113,346.1 1112.4,348.7 1111.7,347.4 1111.1,344.3 1110.4,348.4 1109.8,346.3 1109.1,346.2 1108.4,347.9 1107.8,349.6 1107.1,350.4 1106.5,348.1 1105.8,349.5 1105.2,349 1104.5,347.1 1103.8,347.2 1103.2,348.7 1102.5,352.8 1101.9,351.9 1101.2,351.4 1100.5,347.2 1099.9,352.1 1099.2,347.2 1098.6,352.3 1097.9,349.1 1097.3,350.1 1096.6,350.6 1095.9,349.1 1095.3,352.2 1094.6,349.7 1094,350 1093.3,351.4 1092.7,351.1 1092,349.6 1091.3,351.7 1090.7,354.4 1090,350.9 1089.4,356.2 1088.7,355.3 1088.1,358.3 1087.4,358.3 1086.7,357.9 1086.1,357.4 1085.4,352.8 1084.8,357.6 1084.1,359.3 1083.4,358 1082.8,358.5 1082.1,358.2 1081.5,356.5 1080.8,359.8 1080.2,359.6 1079.5,364.4 1078.8,362.7 1078.2,362.8 1077.5,361.6 1076.9,366.2 1076.2,366.8 1075.6,367.1 1074.9,370.7 1074.2,367.8 1073.6,363.9 1072.9,365.9 1072.3,366.7 1071.6,366 1070.9,366.8 1070.3,366.7 1069.6,368.6 1069,370.2 1068.3,368.5 1067.7,365.3 1067,371.3 1066.3,366.7 1065.7,368.6 1065,369.8 1064.4,371.4 1063.7,370.9 1063.1,372.3 1062.4,372.4 1061.7,368 1061.1,373.4 1060.4,372.1 1059.8,384.2 1059.1,383.2 1058.5,382.8 1057.8,374.5 1057.1,370.3 1056.5,372.6 1055.8,372.1 1055.2,378.6 1054.5,381.6 1053.8,373.5 1053.2,376.3 1052.5,374.3 1051.9,374.1 1051.2,377.1 1050.6,376.6 1049.9,376.3 1049.2,372.3 1048.6,372.8 1047.9,373.9 1047.3,374.7 1046.6,375.4 1046,373.7 1045.3,375.4 1044.6,377 1044,375.8 1043.3,376.9 1042.7,372.2 1042,373.5 1041.3,374.9 1040.7,375.1 1040,374.4 1039.4,373.2 1038.7,375.3 1038.1,374.8 1037.4,374.2 1036.7,374.1 1036.1,374.8 1035.4,374 1034.8,371.1 1034.1,373.5 1033.5,373.6 1032.8,374.8 1032.1,373.7 1031.5,374.1 1030.8,372.1 1030.2,374 1029.5,372.7 1028.8,375.8 1028.2,374 1027.5,373.9 1026.9,375.4 1026.2,379 1025.6,378.2 1024.9,382.2 1024.2,383.6 1023.6,386.4 1022.9,388.3 1022.3,389.2 1021.6,392.2 1021,397.1 1020.3,400 1019.6,404.4 1019,409.4 1018.3,412.6 1017.7,417.8 1017,421.9 1016.4,427.9 1015.7,432.5 1015,437.9 1014.4,442.6 1013.7,448.1 1013.1,453.2 1012.4,459.1 1011.7,463.9 1011.1,469.3 1010.4,474.9 1009.8,480.6 1009.1,486.1 1008.5,492 1007.8,497.8Z" fill="#8b6cb7" fill-opacity="0.26"/>
<path d="M1007.8,497.8 1008.5,492 1009.1,486.2 1009.8,479.6 1010.4,473.6 1011.1,469.9 1011.7,465 1012.4,459.5 1013.1,454.3 1013.7,448.5 1014.4,444.5 1015,439.6 1015.7,434.9 1016.4,429.5 1017,424.1 1017.7,420.2 1018.3,413.8 1019,409.4 1019.6,405.5 1020.3,396.7 1021,391.6 1021.6,391.5 1022.3,394.2 1022.9,388.9 1023.6,389.7 1024.2,385.7 1024.9,383.9 1025.6,382.6 1026.2,380.7 1026.9,378 1027.5,375.7 1028.2,373.9 1028.8,372.5 1029.5,372.1 1030.2,371.3 1030.8,369.8 1031.5,370.7 1032.1,367.1 1032.8,363.7 1033.5,366.9 1034.1,366.7 1034.8,365.2 1035.4,358.5 1036.1,359.3 1036.7,357.1 1037.4,364.6 1038.1,365.9 1038.7,362.9 1039.4,362 1040,363.8 1040.7,361.1 1041.3,363.6 1042,363 1042.7,361.8 1043.3,360 1044,360.4 1044.6,359.2 1045.3,362.7 1046,356.2 1046.6,361.2 1047.3,359.3 1047.9,357.2 1048.6,358.2 1049.2,356.8 1049.9,359.6 1050.6,359 1051.2,357.7 1051.9,357.5 1052.5,347.3 1053.2,347.5 1053.8,354.3 1054.5,352 1055.2,353.8 1055.8,355.3 1056.5,353.6 1057.1,354.8 1057.8,353.3 1058.5,352 1059.1,350.5 1059.8,350.5 1060.4,350.5 1061.1,350.6 1061.7,347.9 1062.4,346.9 1063.1,351.1 1063.7,350.2 1064.4,337.2 1065,349.8 1065.7,348.6 1066.3,346 1067,347.5 1067.7,348.9 1068.3,346.2 1069,345.4 1069.6,345.1 1070.3,341.1 1070.9,342.1 1071.6,340.4 1072.3,342.7 1072.9,340.3 1073.6,338.6 1074.2,338.3 1074.9,338.6 1075.6,336.5 1076.2,340.2 1076.9,335.6 1077.5,332.5 1078.2,333.4 1078.8,337.3 1079.5,333.6 1080.2,334 1080.8,333.1 1081.5,331.8 1082.1,329.2 1082.8,329 1083.4,330.2 1084.1,327.6 1084.8,327.3 1085.4,324 1086.1,327.8 1086.7,325.2 1087.4,325.5 1088.1,315.4 1088.7,317.1 1089.4,314.7 1090,312.8 1090.7,320.5 1091.3,314.7 1092,305.6 1092.7,304.8 1093.3,303.8 1094,301.3 1094.6,311.3 1095.3,303.7 1095.9,310 1096.6,306.4 1097.3,298.9 1097.9,300.4 1098.6,299.9 1099.2,297 1099.9,293.1 1100.5,292.8 1101.2,292.3 1101.9,285.2 1102.5,285.1 1103.2,282.3 1103.8,281.3 1104.5,285.3 1105.2,281.5 1105.8,279.8 1106.5,281.4 1107.1,280.5 1107.8,279.8 1108.4,278.2 1109.1,275.6 1109.8,274.2 1110.4,276.4 1111.1,266.2 1111.7,274 1112.4,270.8 1113,256.5 1113.7,256.6 1114.4,255.8 1115,266.5 1115.7,264 1116.3,256.8 1117,258.2 1117.7,255.6 1118.3,253.9 1119,251.5 1119.6,244.6 1120.3,244.8 1120.9,246.3 1121.6,243 1122.3,237 1122.9,238.2 1123.6,237 1124.2,236.6 1124.9,223.3 1125.5,221.6 1126.2,221.4 1126.9,230.7 1127.5,227.3 1128.2,226.9 1128.8,223.1 1129.5,221.3 1130.2,222 1130.8,221.1 1131.5,219 1132.1,218.4 1132.8,221.8 1133.4,219.7 1134.1,221.7 1134.8,221.1 1135.4,218.6 1136.1,221.5 1136.7,220.2 1137.4,218.4 1138,217.7 1138.7,220.4 1139.4,218.4 1140,218.6 1140.7,221.1 1141.3,217.3 1142,219.9 1142.6,220 1143.3,218.7 1144,219.9 1144.6,220.1 1145.3,218.4 1145.9,217.9 1146.6,218.3 1147.3,215.6 1147.9,215.9 1148.6,219.7 1149.2,220.6 1149.9,220.3 1150.5,217.9 1151.2,219.8 1151.9,216.2 1152.5,217 1153.2,221.3 1153.8,220.4 1154.5,219.6 1155.1,222.1 1155.8,220 1156.5,219.5 1157.1,221.3 1157.8,219.9 1158.4,212.5 1159.1,214 1159.8,215.3 1160.4,216.2 1161.1,222.2 1161.7,218.6 1162.4,218.9 1163,218.8 1163.7,218.9 1164.4,219.6 1165,216.4 1165.7,218.9 1166.3,216.8 1167,220.3 1167.6,207 1168.3,206.9 1169,209.2 1169.6,208.8 1170.3,220.6 1170.9,218.1 1171.6,219 1172.2,220 1172.9,218 1173.6,219.4 1174.2,214.6 1174.9,214.5 1175.5,215.2 1176.2,216 1176.9,216.8 1177.5,219.3 1178.2,216.2 1178.8,213.6 1179.5,215.4 1180.1,210.9 1180.8,213.7 1181.5,215.1 1182.1,213.1 1182.8,214 1183.4,214 1184.1,211 1184.7,210.3 1185.4,212.5 1186.1,210.4 1186.7,209.2 1187.4,211.1 1188,207.3 1188.7,208.1 1189.4,207.2 1190,206.4 1190.7,208 1191.3,205.9 1192,205.7 1192.6,196.3 1193.3,196.9 1194,194.6 1194.6,194.5 1195.3,201.6 1195.9,201.8 1196.6,204.4 1197.2,203 1197.9,196.1 1198.6,194.9 1199.2,196.7 1199.9,200.6 1200.5,199.8 1201.2,200 1201.9,198.2 1202.5,200.4 1203.2,198.1 1203.8,199.5 1204.5,197.6 1205.1,199 1205.8,197.9 1206.5,196.1 1207.1,198.3 1207.8,196.7 1208.4,195.8 1209.1,196.6 1209.7,196.7 1210.4,196.2 1211.1,197.3 1211.7,195.1 1212.4,195.1 1213,193.8 1213.7,190.6 1214.3,189.5 1215,196.6 1215.7,195.3 1216.3,197.1 1217,195.6 1217.6,196.2 1218.3,194.5 1219,198.3 1219.6,195.8 1220.3,195.9 1220.9,194.5 1221.6,196.1 1222.2,195.5 1222.9,193.1 1223.6,195.3 1224.2,194.7 1224.9,192.5 1225.5,196.3 1226.2,189.4 1226.8,192.5 1227.5,192.2 1228.2,194.5 1228.8,193.6 1229.5,187.2 1230.1,186.9 1230.8,184.6 1231.5,190.8 1232.1,188.1 1232.8,189.5 1233.4,188.3 1234.1,189.5 1234.7,189.1 1235.4,187.4 1236.1,186.4 1236.7,188 1237.4,185.2 1238,186.7 1238.7,184.1 1239.3,187.3 1240,185.9 1240.7,184.3 1241.3,178.3 1242,185.2 1242.6,183.4 1243.3,182.7 1244,184.1 1244.6,182.4 1245.3,183.6 1245.9,183.8 1246.6,180.9 1247.2,183 1247.9,182.7 1248.6,180.9 1249.2,170.8 1249.9,170.5 1250.5,169.4 1251.2,180.7 1251.8,179.4 1252.5,180.6 1253.2,176.5 1253.8,181.5 1254.5,180 1255.1,179.9 1255.8,175.8 1256.4,180.8 1257.1,180.8 1257.8,180.6 1258.4,178.3 1259.1,176 1259.7,174.3 1260.4,178.1 1261.1,175.6 1261.7,177.4 1262.4,173.3 1263,174.7 1263.7,173.9 1264.3,175.6 1265,174 1265.7,169 1266.3,170.1 1267,161.4 1267.6,174.7 1268.3,177 1268.9,174 1269.6,175.3 1270.3,172.8 1270.9,171.3 1271.6,172.7 1272.2,172.2 1272.9,174.3 1273.6,173.5 1274.2,173.1 1274.9,169 1275.5,171.8 1276.2,170.7 1276.8,173.2 1277.5,171.9 1278.2,170.9 1278.8,171 1279.5,171 1280.1,169.8 1280.8,169.5 1281.4,171.4 1282.1,171.3 1282.8,168 1283.4,167.4 1284.1,170.5 1284.7,164.6 1285.4,166.9 1286,165.1 1286.7,166 1287.4,169.5 1288,167.1 1288.7,167.1 1289.3,168.1 1290,165.4 1290.7,167.4 1291.3,166.8 1292,167.2 1292.6,165.1 1293.3,164.5 1293.9,163.4 1294.6,165.3 1295.3,165.9 1295.9,163 1296.6,165.6 1297.2,163.8 1297.9,162.5 1298.5,163.5 1299.2,166.8 1299.9,165.7 1300.5,165.3 1301.2,163.2 1301.8,165.2 1302.5,163.1 1303.2,163.8 1303.8,163.8 1304.5,163.9 1305.1,164.8 1305.8,162 1306.4,159.9 1307.1,161.6 1307.8,164.6 1308.4,165.5 1309.1,161.3 1309.7,164.5 1310.4,162.6 1311,163 1311.7,162.5 1312.4,162.5 1313,163.1 1313.7,162.9 1314.3,160.9 1315,161.7 1315.7,146.2 1316.3,147.9 1317,157.8 1317.6,147.8 1318.3,157.7 1318.9,159 1319.6,147 1320.3,145.6 1320.9,145 1321.6,140.9 1322.2,157.5 1322.9,144.1 1323.5,141.9 1324.2,154.5 1324.9,153.7 1325.5,152.5 1326.2,152.8 1326.8,153.6 1327.5,154 1328.1,150.7 1328.8,149.5 1329.5,151 1330.1,149.5 1330.8,151.2 1331.4,150.1 1332.1,150.3 1332.8,151.4 1333.4,148 1334.1,149.1 1334.7,148.5 1335.4,150 1336,140.3 1336.7,139.3 1337.4,138.3 1338,149.4 1338.7,148.7 1339.3,147.5 1340,148.1 1340.6,147.4 1341.3,148.1 1342,148.7 1342.6,149.1 1343.3,150.6 1343.9,147 1344.6,146.3 1345.3,149 1345.9,148.9 1346.6,148.8 1347.2,147.3 1347.9,142.2 1348.5,142.6 1349.2,142.4 1349.9,149.9 1350.5,146.4 1351.2,146.4 1351.8,147.1 1352.5,148.6 1353.1,148.3 1353.8,147.3 1354.5,143.5 1355.1,147.6 1355.8,144 1356.4,148.2 1357.1,146.8 1357.7,147.9 1358.4,144.8 1359.1,146.2 1359.7,145.9 1360.4,144.6 1361,144 1361.7,146.3 1362.4,145 1363,145.7 1363.7,140.7 1364.3,144.7 1365,139 1365.6,144.7 1366.3,146.9 1367,143.7 1367.6,142 1368.3,140.7 1368.9,140.5 1369.6,142.2 1370.2,140.5 1370.9,142.8 1371.6,141.7 1372.2,144.8 1372.9,142 1373.5,141.9 1374.2,143.5 1374.9,145.2 1375.5,142.4 1376.2,143.1 1376.8,140.3 1377.5,142.5 1378.1,141.2 1378.8,139.6 1379.5,139.7 1380.1,141.4 1380.8,142.5 1381.4,141.2 1382.1,137.3 1382.7,141.1 1383.4,133 1384.1,133.8 1384.7,132.7 1385.4,133.3 1386,139.6 1386.7,140.5 1387.4,141.6 1388,138.3 1388.7,130.2 1389.3,130.2 1390,131.9 1390.6,129.2 1391.3,138.3 1392,129.2 1392.6,137.8 1393.3,137.4 1393.9,137.3 1394.6,136.8 1395.2,133.1 1395.9,132.1 1396.6,137.3 1397.2,138 1397.9,136 1398.5,135.7 1399.2,135.5 1399.8,139.2 1400.5,128.6 1401.2,129.7 1401.8,135.8 1402.5,131.9 1403.1,132.6 1403.8,131.4 1404.5,133.5 1405.1,136.4 1405.8,131.7 1406.4,134.5 1407.1,131.5 1407.7,132.8 1408.4,133.6 1409.1,135.5 1409.7,132.8 1410.4,133.3 1411,131.8 1411.7,133.1 1412.3,130.6 1413,132.1 1413.7,131.8 1414.3,117.3 1415,118.7 1415.6,131.6 1416.3,130.1 1417,132.4 1417.6,131.1 1418.3,118.1 1418.9,118.6 1419.6,118.7 1420.2,116.3 1420.9,125.1 1421.6,125.1 1422.2,129 1422.9,128.8 1423.5,126.6 1424.2,127 1424.8,129 1425.5,125 1426.2,125.1 1426.8,126.6 1427.5,127.2 1428.1,125.6 1428.8,126.2 1429.4,124.6 1430.1,125.1 1430.8,123.2 1431.4,122.2 1432.1,120.8 1432.7,119.5 1433.4,120.3 1434.1,120 1434.7,120.8 1435.4,116.8 1436,124 1436.7,122.7 1437.3,124.5 1438,124 1438.7,123.3 1439.3,110.3 1440,110.6 1440.6,120.2 1441.3,120.7 1441.9,120.6 1442.6,122.6 1443.3,111 1443.9,120.3 1444.6,122.7 1445.2,120.9 1445.9,110.1 1446.6,110.4 1447.2,108.8 1447.9,109.8 1448.5,120.8 1449.2,119 1449.8,120.1 1450.5,118.3 1451.2,119.9 1451.8,118.6 1452.5,120.1 1453.1,116.8 1453.8,120.8 1454.4,117.5 1455.1,116.9 1455.8,120.6 1456.4,119 1457.1,118.6 1457.7,116.4 1458.4,116.4 1459.1,116.1 1459.7,114.6 1460.4,112.2 1461,116.1 1461.7,114.1 1462.3,114.2 1463,112.6 1463.7,116.4 1464.3,115.5 1465,103.6 1465.6,103.4 1466.3,101.5 1466.9,113.3 1467.6,108.6 1468.3,106.8 1468.9,107.8 1469.6,106.6 1470.2,112.1 1470.9,112.8 1471.5,110.1 1472.2,108.7 1472.9,110.9 1473.5,113.4 1474.2,109.5 1474.8,108.6 1475.5,111.4 1476.2,110.6 1476.8,109.7 1477.5,110.7 1478.1,109.3 1478.8,110.1 1479.4,111.5 1480.1,111.3 1480.8,110.9 1481.4,111.4 1482.1,108.7 1482.7,109.9 1483.4,110.5 1484,109.1 1484.7,97.9 1485.4,96.6 1486,107.7 1486.7,109.4 1487.3,110.3 1488,107.3 1488.7,103.4 1489.3,105 1490,106.1 1490.6,109 1491.3,110.1 1491.9,106.8 1492.6,108 1493.3,108.7 1493.9,110 1494.6,105.2 1495.2,95.6 1495.9,98.4 1496.5,96.2 1497.2,107.4 1497.9,107 1498.5,108.4 1499.2,105.4 1499.8,94 1500.5,94.6 1501.1,95.3 1501.8,105.1 1502.5,103.3 1503.1,106.4 1503.8,106.6 1504.4,104.6 1505.1,103.8 1505.8,105.3 1506.4,106 1507.1,105.3 1507.7,103 1508.4,103.1 1509,106.9 1509.7,105.2 1510.4,101.1 1511,104.6 1511.7,101.7 1512.3,98.2 1513,97 1513.6,98.8 1514.3,102.9 1515,102.1 1515.6,102.6 1516.3,102.4 1516.9,100.3 1517.6,102.1 1518.3,100 1518.9,96.2 1519.6,101.7 1520.2,90.8 1520.9,90.9 1521.5,90.1 1522.2,100.7 1522.9,100.6 1523.5,101.1 1524.2,102.4 1524.8,100.8 1525.5,96.9 1526.1,98.2 1526.8,97.8 1527.5,96.4 1528.1,101.1 1528.8,99.1 1529.4,100.2 1530.1,98 1530.8,101.6 1531.4,100.2 1532.1,99.5 1532.7,99.2 1533.4,100.3 1534,97.2 1534.7,99.8 1535.4,99.6 1536,92.8 1536.7,92.6 1537.3,91.8 1538,100.7 1538.6,98.4 1539.3,99.7 1540,99.4 1540.6,98.9 1541.3,99.7 1541.9,100 1542.6,99.1 1543.2,97.9 1543.9,96.2 1544.6,98.9 1545.2,95.7 1545.9,97 1546.5,96.5 1547.2,95.2 1547.9,92.6 1548.5,90.1 1549.2,90.8 1549.8,96.2 1550.5,98.4 1551.1,97.4 1551.8,96.3 1552.5,96.2 1553.1,94.2 1553.8,96.5 1554.4,95.7 1555.1,96.4 1555.7,97.6 1556.4,96.4 1557.1,95.8 1557.7,93.7 1558.4,94.4 1559,96.6 1559.7,86.7 1560.4,85.6 1561,86.3 1561.7,82.6 1562.3,94.2 1563,95.4 1563.6,96.1 1564.3,97.8 1565,96.7 1565.6,99.9 1566.3,92.8 1566.9,93 1567.6,95 1568.2,95.1 1568.9,91.8 1569.6,93.4 1570.2,92.1 1570.9,98.1 1571.5,96.7 1572.2,90.1 1572.9,84.5 1573.5,88.7 1574.2,87.8 1574.8,87.8 1575.5,97.9 1576.1,85.2 1576.8,85 1577.5,97.4 1578.1,99.1 1578.8,96.5 1579.4,98.6 1580.1,96.8 1580.7,95.3 1581.4,98 1582.1,84.5 1582.7,83.9 1583.4,84.1 1584,84.5 1584.7,95.7 1585.3,94.6 1586,96.6 1586.7,95.3 1587.3,94 1588,95.3 1588.6,90.1 1589.3,87.4 1590,87.2 1590.6,92.3 1591.3,84.5 1591.9,93.7 1592.6,87.3 1593.2,87.3 1593.9,91 1594.6,92.3 1595.2,91.2 1595.9,92.2 1596.5,92.2 1597.2,87.2 1597.8,86.6 1598.5,86.1 1599.2,86.4 1599.8,75 1600.5,78.5 1601.1,75.4 1601.8,89.3 1602.5,87.4 1603.1,89.5 1603.8,85.4 1604.4,86.1 1605.1,89.7 1605.7,85.9 1606.4,87.1 1607.1,86 1607.7,74.9 1608.4,74.9 1609,88.2 1609.7,86.9 1610.3,86.2 1611,88.1 1611.7,86.1 1612.3,84.7 1613,84 1613.6,85 1614.3,83.6 1614.9,85.9 1615.6,84.4 1616.3,83.5 1616.9,86.1 1617.6,83.6 1618.2,85.2 1618.9,86 1619.6,82.9 1620.2,82.8 1620.9,85.3 1621.5,83.5 1622.2,83.6 1622.8,84.9 1623.5,82.1 1624.2,85 1624.8,85.7 1625.5,84.9 1626.1,85.1 1626.8,82 1627.4,81.8 1628.1,83.2 1628.8,80.8 1629.4,86.9 1630.1,83.9 1630.7,81 1631.4,82.4 1632.1,86 1632.7,86.5 1633.4,85.8 1634,83.7 1634.7,85.6 1635.3,86.6 1636,84 1636.7,86.8 1637.3,86.8 1638,83.3 1638.6,85.3 1639.3,85.2 1639.9,86 1640.6,81.9 1641.3,86.1 1641.9,86.1 1642.6,84.4 1643.2,88.7 1643.9,90.4 1644.6,87.8 1645.2,89.4 1645.9,87.5 1646.5,89.3 1647.2,87.9 1647.8,86.6 1648.5,88.8 1649.2,89.1 1649.8,87.3 1650.5,89.3 1651.1,88.6 1651.8,88.7 1652.4,90.2 1653.1,87.5 1653.8,90.1 1654.4,87.6 1655.1,88.2 1655.7,90.1 1656.4,89.1 1657,87.6 1657.7,89 1658.4,85.8 1659,89.7 1659.7,86.8 1660.3,90.3 1661,88.5 1661.7,86.8 1662.3,90.3 1663,82.1 1663.6,83.7 1664.3,83.8 1664.9,83 1665.6,87.9 L1665.6,160.5 1664.9,163.5 1664.3,161.3 1663.6,161.2 1663,162.9 1662.3,160.8 1661.7,163.6 1661,162.9 1660.3,161.6 1659.7,163.4 1659,159.9 1658.4,162.1 1657.7,163.9 1657,163.7 1656.4,165.1 1655.7,160.9 1655.1,163.3 1654.4,164 1653.8,165.1 1653.1,164.5 1652.4,164.8 1651.8,161.1 1651.1,165 1650.5,162.9 1649.8,168.7 1649.2,167.9 1648.5,166.2 1647.8,164.7 1647.2,173.1 1646.5,170.1 1645.9,172.7 1645.2,163.6 1644.6,162.2 1643.9,161.1 1643.2,164 1642.6,162.3 1641.9,163.1 1641.3,164.1 1640.6,161 1639.9,162.5 1639.3,161.6 1638.6,162.2 1638,160.7 1637.3,171.3 1636.7,168.3 1636,159 1635.3,158.5 1634.7,158.8 1634,159.9 1633.4,161.4 1632.7,163.1 1632.1,160.1 1631.4,156.9 1630.7,158.2 1630.1,157 1629.4,157.6 1628.8,156.7 1628.1,168.3 1627.4,168.4 1626.8,168.1 1626.1,156.3 1625.5,156.3 1624.8,156 1624.2,154.6 1623.5,155.4 1622.8,155.4 1622.2,158.3 1621.5,156.2 1620.9,159 1620.2,157 1619.6,159.7 1618.9,159 1618.2,158.1 1617.6,159.6 1616.9,159.8 1616.3,159.2 1615.6,159.5 1614.9,162.6 1614.3,161.7 1613.6,161 1613,168.8 1612.3,169.3 1611.7,167 1611,171.4 1610.3,165.7 1609.7,164.9 1609,164.3 1608.4,162.7 1607.7,163.3 1607.1,165.8 1606.4,164.5 1605.7,165.1 1605.1,164.2 1604.4,165.3 1603.8,166.5 1603.1,166.6 1602.5,167 1601.8,169.5 1601.1,167.3 1600.5,167.1 1599.8,165.3 1599.2,167.7 1598.5,170.6 1597.8,171.7 1597.2,168 1596.5,171.9 1595.9,170.1 1595.2,170 1594.6,166.9 1593.9,167.1 1593.2,171.7 1592.6,172.9 1591.9,172.3 1591.3,169.8 1590.6,171.5 1590,173.6 1589.3,168.5 1588.6,172.7 1588,169.4 1587.3,175.8 1586.7,170.1 1586,181.9 1585.3,182.6 1584.7,183.1 1584,182.3 1583.4,170.5 1582.7,172.6 1582.1,169.6 1581.4,172.5 1580.7,168.8 1580.1,170.2 1579.4,168.3 1578.8,168.6 1578.1,169.8 1577.5,168.8 1576.8,168.5 1576.1,168.4 1575.5,168.2 1574.8,168 1574.2,168.4 1573.5,168.4 1572.9,167.2 1572.2,168.9 1571.5,167.8 1570.9,165.3 1570.2,167.3 1569.6,168.3 1568.9,166.9 1568.2,170.7 1567.6,173.2 1566.9,171.6 1566.3,167.5 1565.6,168.7 1565,169.5 1564.3,167.4 1563.6,169.5 1563,171.1 1562.3,170.9 1561.7,172.8 1561,170.2 1560.4,167.7 1559.7,171.3 1559,172.5 1558.4,171.5 1557.7,171.1 1557.1,171.4 1556.4,169.8 1555.7,169.6 1555.1,170.3 1554.4,171.4 1553.8,170.8 1553.1,171.7 1552.5,172.9 1551.8,171.7 1551.1,174.8 1550.5,173.5 1549.8,176.6 1549.2,172.4 1548.5,174.1 1547.9,175 1547.2,173.2 1546.5,173.4 1545.9,173.2 1545.2,174 1544.6,174.5 1543.9,172.3 1543.2,172.9 1542.6,172.9 1541.9,173.2 1541.3,173.7 1540.6,173.6 1540,176.9 1539.3,176.8 1538.6,175.5 1538,177.1 1537.3,174.1 1536.7,174.5 1536,173.4 1535.4,175.1 1534.7,174.4 1534,173.8 1533.4,172 1532.7,173.1 1532.1,175.5 1531.4,178.6 1530.8,179 1530.1,179 1529.4,175.8 1528.8,175.2 1528.1,173.2 1527.5,175.2 1526.8,175 1526.1,176.7 1525.5,176.6 1524.8,178.1 1524.2,174.9 1523.5,172.9 1522.9,186.2 1522.2,187.7 1521.5,186.1 1520.9,186.7 1520.2,176.2 1519.6,177.6 1518.9,177.7 1518.3,178.1 1517.6,178.9 1516.9,178.7 1516.3,178.8 1515.6,179.5 1515,176.4 1514.3,176.1 1513.6,177.7 1513,177.6 1512.3,178.7 1511.7,177.5 1511,176.9 1510.4,176.4 1509.7,178.4 1509,176.7 1508.4,179.5 1507.7,179.2 1507.1,177.4 1506.4,178.4 1505.8,187.1 1505.1,189.7 1504.4,180.4 1503.8,181.9 1503.1,183.1 1502.5,178.7 1501.8,184.3 1501.1,182.6 1500.5,183.8 1499.8,183 1499.2,182.5 1498.5,185.5 1497.9,185.6 1497.2,179.2 1496.5,180.7 1495.9,182.7 1495.2,182.1 1494.6,183 1493.9,183.1 1493.3,181.9 1492.6,183.7 1491.9,182.4 1491.3,183.1 1490.6,186.5 1490,183.9 1489.3,185.8 1488.7,186.3 1488,184.1 1487.3,185.1 1486.7,186.8 1486,187.8 1485.4,187.5 1484.7,185.8 1484,187.6 1483.4,185.8 1482.7,186.6 1482.1,187.1 1481.4,185.1 1480.8,182.9 1480.1,186.7 1479.4,185.5 1478.8,186.9 1478.1,186.2 1477.5,184.6 1476.8,186.7 1476.2,187.7 1475.5,184.4 1474.8,187.2 1474.2,188.1 1473.5,185.8 1472.9,187.7 1472.2,183.1 1471.5,184.6 1470.9,184.1 1470.2,184.7 1469.6,186.4 1468.9,182.5 1468.3,183.9 1467.6,183.8 1466.9,186.8 1466.3,187.6 1465.6,186.4 1465,185.8 1464.3,189.7 1463.7,188.3 1463,188.2 1462.3,189.1 1461.7,185.5 1461,187 1460.4,187.6 1459.7,187.5 1459.1,186.3 1458.4,184.7 1457.7,188.2 1457.1,188.2 1456.4,189.2 1455.8,188.8 1455.1,188.9 1454.4,191 1453.8,185.9 1453.1,190.8 1452.5,190.1 1451.8,191 1451.2,188.8 1450.5,189.7 1449.8,187.5 1449.2,190.9 1448.5,190.7 1447.9,189 1447.2,187.4 1446.6,188.9 1445.9,190.2 1445.2,190.4 1444.6,189.5 1443.9,190.2 1443.3,193.6 1442.6,192.6 1441.9,194.6 1441.3,192 1440.6,193.6 1440,193.7 1439.3,203.1 1438.7,202.1 1438,202 1437.3,205.6 1436.7,205.4 1436,195 1435.4,192.1 1434.7,193.3 1434.1,193.5 1433.4,193.7 1432.7,191.3 1432.1,191.7 1431.4,192.5 1430.8,191.8 1430.1,194 1429.4,189 1428.8,192.7 1428.1,194 1427.5,192.7 1426.8,193.2 1426.2,190.3 1425.5,195.2 1424.8,198.8 1424.2,195.5 1423.5,191.2 1422.9,191.5 1422.2,197.2 1421.6,196.4 1420.9,197.7 1420.2,195.7 1419.6,193.9 1418.9,194.6 1418.3,195.4 1417.6,188.6 1417,189.7 1416.3,192.4 1415.6,189.4 1415,191.5 1414.3,197.7 1413.7,191.1 1413,191.1 1412.3,191.8 1411.7,191.4 1411,194.8 1410.4,190.7 1409.7,191.7 1409.1,196.5 1408.4,192 1407.7,193.9 1407.1,194 1406.4,194.4 1405.8,194.7 1405.1,195.4 1404.5,190.9 1403.8,192.8 1403.1,193.8 1402.5,195.3 1401.8,195.9 1401.2,195 1400.5,196.2 1399.8,194.2 1399.2,198.6 1398.5,193.9 1397.9,198.2 1397.2,195.5 1396.6,207.4 1395.9,209.8 1395.2,207.3 1394.6,207.5 1393.9,197 1393.3,197.2 1392.6,194.2 1392,198.1 1391.3,197.6 1390.6,198 1390,198.5 1389.3,200.8 1388.7,198.7 1388,200 1387.4,200.3 1386.7,198 1386,198.1 1385.4,212.3 1384.7,213.2 1384.1,211.9 1383.4,213.4 1382.7,200.2 1382.1,200 1381.4,204.9 1380.8,207.6 1380.1,208.1 1379.5,202.6 1378.8,199.5 1378.1,201.4 1377.5,202 1376.8,201.5 1376.2,204.8 1375.5,201.9 1374.9,202.5 1374.2,206.7 1373.5,202.9 1372.9,204.1 1372.2,202.9 1371.6,215.9 1370.9,214.8 1370.2,203.2 1369.6,203.6 1368.9,201.8 1368.3,202.8 1367.6,203.4 1367,201 1366.3,201.7 1365.6,203.7 1365,201.5 1364.3,203.2 1363.7,204.4 1363,201.8 1362.4,210 1361.7,209.2 1361,205.7 1360.4,204.8 1359.7,205.1 1359.1,204.8 1358.4,204 1357.7,206.4 1357.1,203.9 1356.4,204.3 1355.8,209.6 1355.1,209 1354.5,209.9 1353.8,208.9 1353.1,205 1352.5,205.2 1351.8,203 1351.2,205.8 1350.5,206.2 1349.9,206.5 1349.2,204.3 1348.5,204.9 1347.9,207.6 1347.2,209.3 1346.6,204.8 1345.9,205.3 1345.3,205.5 1344.6,207.2 1343.9,205.6 1343.3,206.8 1342.6,207.3 1342,203.3 1341.3,204.9 1340.6,206.5 1340,207.1 1339.3,206.2 1338.7,206.7 1338,206.9 1337.4,207.8 1336.7,207 1336,208.2 1335.4,206.7 1334.7,209.3 1334.1,212 1333.4,211.8 1332.8,210.3 1332.1,211 1331.4,207.1 1330.8,217.4 1330.1,222.1 1329.5,223 1328.8,219.9 1328.1,212.3 1327.5,209.9 1326.8,210.6 1326.2,217.6 1325.5,221.3 1324.9,218 1324.2,220.1 1323.5,212.7 1322.9,211.9 1322.2,212.6 1321.6,214.1 1320.9,219.3 1320.3,216.1 1319.6,220.1 1318.9,217.2 1318.3,216.8 1317.6,217.3 1317,220.6 1316.3,217 1315.7,218 1315,220 1314.3,219.6 1313.7,219.1 1313,220.5 1312.4,221.1 1311.7,222.2 1311,221.4 1310.4,223.7 1309.7,229.3 1309.1,229 1308.4,221.9 1307.8,224.6 1307.1,228.5 1306.4,224.2 1305.8,226.6 1305.1,225.9 1304.5,235.9 1303.8,232.2 1303.2,231.9 1302.5,232.5 1301.8,228.4 1301.2,228.9 1300.5,228.6 1299.9,230.7 1299.2,227.6 1298.5,228.2 1297.9,228.3 1297.2,230.9 1296.6,231.7 1295.9,231.1 1295.3,230.7 1294.6,229.4 1293.9,232.4 1293.3,229.9 1292.6,230.1 1292,229.5 1291.3,233.9 1290.7,231.2 1290,230.6 1289.3,232.2 1288.7,233.6 1288,232.3 1287.4,231.5 1286.7,232.5 1286,232.2 1285.4,234.1 1284.7,233.1 1284.1,232.7 1283.4,241.8 1282.8,245.6 1282.1,245.5 1281.4,242.8 1280.8,232.3 1280.1,234.1 1279.5,231.5 1278.8,231.5 1278.2,236 1277.5,232.4 1276.8,234.1 1276.2,244.5 1275.5,245.9 1274.9,248.3 1274.2,236.1 1273.6,234.8 1272.9,236.2 1272.2,237.1 1271.6,234.6 1270.9,236.5 1270.3,239.3 1269.6,239 1268.9,239.1 1268.3,238.4 1267.6,238.7 1267,237.4 1266.3,239.4 1265.7,238.6 1265,244.5 1264.3,243.7 1263.7,245.9 1263,240.1 1262.4,241 1261.7,243.6 1261.1,245.3 1260.4,243.7 1259.7,244.1 1259.1,246.2 1258.4,245.6 1257.8,246.6 1257.1,247.2 1256.4,246.6 1255.8,245 1255.1,246.8 1254.5,248.5 1253.8,246.2 1253.2,249 1252.5,250.5 1251.8,248.5 1251.2,249.7 1250.5,249.7 1249.9,252 1249.2,249.6 1248.6,249.6 1247.9,250 1247.2,253.9 1246.6,254.3 1245.9,249.9 1245.3,253.5 1244.6,253.4 1244,256 1243.3,253.1 1242.6,254 1242,252.9 1241.3,253.7 1240.7,254.3 1240,254.7 1239.3,253.9 1238.7,264.1 1238,262.9 1237.4,267.1 1236.7,263.7 1236.1,258.8 1235.4,258.1 1234.7,257.2 1234.1,257 1233.4,259.6 1232.8,262 1232.1,263.4 1231.5,262.6 1230.8,260.6 1230.1,259.8 1229.5,262.1 1228.8,259.3 1228.2,263.5 1227.5,261.3 1226.8,262 1226.2,263.3 1225.5,263 1224.9,264.1 1224.2,263.7 1223.6,262.9 1222.9,266 1222.2,266 1221.6,263.7 1220.9,265.2 1220.3,267.3 1219.6,268.5 1219,267.8 1218.3,267.7 1217.6,265.3 1217,268.8 1216.3,268.6 1215.7,272.3 1215,273.1 1214.3,273.2 1213.7,275.6 1213,268.5 1212.4,269.3 1211.7,269.6 1211.1,275.7 1210.4,275.2 1209.7,274.8 1209.1,271.6 1208.4,282.5 1207.8,282.9 1207.1,283.4 1206.5,285.8 1205.8,276.9 1205.1,275.4 1204.5,273.6 1203.8,274.1 1203.2,273.2 1202.5,273.6 1201.9,276.9 1201.2,276 1200.5,278.1 1199.9,275.4 1199.2,276.6 1198.6,274.7 1197.9,277.8 1197.2,285.6 1196.6,277.7 1195.9,280.8 1195.3,284.3 1194.6,280.3 1194,280 1193.3,280.7 1192.6,290.7 1192,278.5 1191.3,278.9 1190.7,282.6 1190,280.9 1189.4,284 1188.7,283.1 1188,282.1 1187.4,281.7 1186.7,284.3 1186.1,285.9 1185.4,283.3 1184.7,284 1184.1,285.5 1183.4,286.8 1182.8,285.4 1182.1,289.4 1181.5,294.5 1180.8,290.5 1180.1,287.4 1179.5,288.5 1178.8,290 1178.2,289.4 1177.5,289.8 1176.9,292.1 1176.2,290.9 1175.5,291 1174.9,294.8 1174.2,296.1 1173.6,295 1172.9,297.1 1172.2,302.4 1171.6,301.2 1170.9,300.8 1170.3,299.4 1169.6,301.2 1169,299.2 1168.3,301.2 1167.6,302 1167,301.5 1166.3,303 1165.7,305.5 1165,307 1164.4,306.2 1163.7,320.3 1163,317.9 1162.4,318.5 1161.7,306.2 1161.1,307.1 1160.4,309.1 1159.8,309.2 1159.1,311.1 1158.4,310.4 1157.8,312.3 1157.1,313.9 1156.5,315 1155.8,314.9 1155.1,315.5 1154.5,317.5 1153.8,318.7 1153.2,319.1 1152.5,318.7 1151.9,320.1 1151.2,320.4 1150.5,321.8 1149.9,317.6 1149.2,323 1148.6,322.1 1147.9,326.3 1147.3,325 1146.6,330.4 1145.9,334.8 1145.3,323.8 1144.6,322.6 1144,325 1143.3,325.6 1142.6,323.8 1142,325 1141.3,330.7 1140.7,331.9 1140,331.5 1139.4,331.2 1138.7,326.9 1138,326.2 1137.4,329 1136.7,329.1 1136.1,327.2 1135.4,329.1 1134.8,328.8 1134.1,327.8 1133.4,331.1 1132.8,335.6 1132.1,334.5 1131.5,331.7 1130.8,334.3 1130.2,330.7 1129.5,333.1 1128.8,332.6 1128.2,334.8 1127.5,338 1126.9,335.7 1126.2,338.4 1125.5,334.8 1124.9,332.4 1124.2,337.4 1123.6,334.6 1122.9,340.5 1122.3,340.8 1121.6,342.3 1120.9,335.3 1120.3,336.1 1119.6,338.2 1119,339.2 1118.3,336.4 1117.7,341.6 1117,339.8 1116.3,337.9 1115.7,338.4 1115,340.5 1114.4,341.7 1113.7,339.6 1113,340.7 1112.4,343.1 1111.7,344.4 1111.1,346.6 1110.4,345.9 1109.8,342.2 1109.1,343.9 1108.4,341.9 1107.8,340.9 1107.1,343.3 1106.5,345.2 1105.8,343.2 1105.2,356.4 1104.5,359.1 1103.8,356.6 1103.2,343.9 1102.5,346.2 1101.9,347 1101.2,346.2 1100.5,343.6 1099.9,345.3 1099.2,346.1 1098.6,345.9 1097.9,349.5 1097.3,346.1 1096.6,345 1095.9,350.1 1095.3,348.1 1094.6,349.2 1094,348.3 1093.3,354.5 1092.7,353.7 1092,353.5 1091.3,354.8 1090.7,352.8 1090,348.5 1089.4,350.6 1088.7,352.5 1088.1,352.3 1087.4,352.9 1086.7,354.1 1086.1,355.8 1085.4,355.2 1084.8,356.1 1084.1,356.2 1083.4,360.8 1082.8,358.8 1082.1,361.5 1081.5,363.5 1080.8,359.8 1080.2,364.4 1079.5,364.2 1078.8,364.7 1078.2,366.2 1077.5,365.2 1076.9,369.9 1076.2,369.5 1075.6,378.7 1074.9,383.3 1074.2,382.9 1073.6,378.7 1072.9,372 1072.3,374.4 1071.6,376.7 1070.9,374.4 1070.3,376.6 1069.6,378.7 1069,377.4 1068.3,378.6 1067.7,378.6 1067,379 1066.3,385.5 1065.7,389.5 1065,389.3 1064.4,387.5 1063.7,383 1063.1,386.3 1062.4,390.6 1061.7,386.9 1061.1,382.7 1060.4,383.7 1059.8,389.6 1059.1,385.2 1058.5,384.7 1057.8,390.4 1057.1,393.7 1056.5,393.4 1055.8,394.1 1055.2,392.9 1054.5,398.3 1053.8,397.9 1053.2,392.2 1052.5,395.4 1051.9,408 1051.2,406.9 1050.6,409.3 1049.9,410.8 1049.2,403.2 1048.6,402.8 1047.9,408.2 1047.3,408.3 1046.6,399.1 1046,398.7 1045.3,401.1 1044.6,399.2 1044,408.5 1043.3,401.1 1042.7,407.4 1042,399.1 1041.3,400.4 1040.7,400 1040,400.3 1039.4,412.2 1038.7,400.6 1038.1,405.6 1037.4,399.8 1036.7,397.9 1036.1,399.2 1035.4,397.6 1034.8,399.5 1034.1,400.9 1033.5,397.5 1032.8,397.5 1032.1,398.6 1031.5,397.4 1030.8,396.2 1030.2,401 1029.5,398.6 1028.8,397.8 1028.2,398.5 1027.5,398.4 1026.9,405.4 1026.2,405.4 1025.6,410.8 1024.9,404.5 1024.2,409.3 1023.6,414.8 1022.9,416.8 1022.3,418.5 1021.6,418.8 1021,421.9 1020.3,424.5 1019.6,430.4 1019,434.1 1018.3,440 1017.7,442.4 1017,446.1 1016.4,452.3 1015.7,455.8 1015,459.9 1014.4,462.8 1013.7,466 1013.1,469.9 1012.4,474.3 1011.7,477.2 1011.1,480.7 1010.4,484.3 1009.8,487.7 1009.1,491 1008.5,494.4 1007.8,497.8Z" fill="#c4372f" fill-opacity="0.26"/>
<polyline points="1007.8,499.3 1008.5,492.6 1009.1,486.1 1009.8,481.5 1010.4,473.9 1011.1,469.4 1011.7,464.1 1012.4,459 1013.1,451 1013.7,447.2 1014.4,444.2 1015,438.3 1015.7,434.4 1016.4,429.8 1017,422.2 1017.7,418.3 1018.3,415.9 1019,410.4 1019.6,404.3 1020.3,402.5 1021,398.8 1021.6,392.7 1022.3,391.4 1022.9,390.4 1023.6,387.4 1024.2,382.1 1024.9,379.9 1025.6,378.4 1026.2,376.6 1026.9,374.3 1027.5,371.2 1028.2,370.8 1028.8,365.3 1029.5,365 1030.2,364.4 1030.8,362.7 1031.5,360.9 1032.1,360.3 1032.8,359 1033.5,357.5 1034.1,359.7 1034.8,356.6 1035.4,360.2 1036.1,353.1 1036.7,356.7 1037.4,352.9 1038.1,351.9 1038.7,352.7 1039.4,349.3 1040,352.7 1040.7,353 1041.3,351.2 1042,351.6 1042.7,352.7 1043.3,350.5 1044,352.6 1044.6,349.5 1045.3,353.3 1046,349.8 1046.6,347.3 1047.3,350.2 1047.9,349 1048.6,345.7 1049.2,351 1049.9,346.5 1050.6,347.8 1051.2,350.9 1051.9,344.7 1052.5,344.1 1053.2,345.5 1053.8,340.1 1054.5,345.4 1055.2,341.4 1055.8,344.7 1056.5,343.7 1057.1,339.1 1057.8,339.3 1058.5,342.1 1059.1,337.3 1059.8,339 1060.4,339.4 1061.1,339.8 1061.7,335.9 1062.4,336.3 1063.1,338.9 1063.7,338 1064.4,338.9 1065,334.8 1065.7,339.3 1066.3,337.2 1067,335.5 1067.7,337 1068.3,335.5 1069,332.1 1069.6,334 1070.3,335.6 1070.9,335.3 1071.6,334.9 1072.3,332.8 1072.9,332 1073.6,332.8 1074.2,333.7 1074.9,332.8 1075.6,333.4 1076.2,331.1 1076.9,331 1077.5,330.6 1078.2,330.9 1078.8,329.9 1079.5,330.6 1080.2,329.5 1080.8,332.5 1081.5,328.2 1082.1,327.3 1082.8,329.5 1083.4,331.4 1084.1,327.4 1084.8,324.8 1085.4,328.1 1086.1,324 1086.7,325.4 1087.4,324.4 1088.1,322 1088.7,325.3 1089.4,323.8 1090,322.2 1090.7,322.5 1091.3,318.9 1092,320 1092.7,320.6 1093.3,321 1094,314.8 1094.6,318.8 1095.3,315 1095.9,312.1 1096.6,317.4 1097.3,317.3 1097.9,312.3 1098.6,316.6 1099.2,313.4 1099.9,314.4 1100.5,316.2 1101.2,314.3 1101.9,311.6 1102.5,308.4 1103.2,308.9 1103.8,309.3 1104.5,308.3 1105.2,309.9 1105.8,310.1 1106.5,312.3 1107.1,310.5 1107.8,304.8 1108.4,312.5 1109.1,307.1 1109.8,303.9 1110.4,302 1111.1,305.7 1111.7,310 1112.4,304.6 1113,305.4 1113.7,304.7 1114.4,305.6 1115,301.3 1115.7,300.6 1116.3,303.4 1117,303.6 1117.7,299.5 1118.3,301.3 1119,302.1 1119.6,300.1 1120.3,297.7 1120.9,302.8 1121.6,300.7 1122.3,298.1 1122.9,295.6 1123.6,292.4 1124.2,293.6 1124.9,294 1125.5,291 1126.2,294.9 1126.9,289 1127.5,295 1128.2,289.6 1128.8,288 1129.5,288.5 1130.2,289.6 1130.8,290.2 1131.5,284.5 1132.1,287.9 1132.8,284.6 1133.4,281.8 1134.1,281.6 1134.8,286.7 1135.4,279.9 1136.1,281.1 1136.7,282.2 1137.4,285.3 1138,276.1 1138.7,281.2 1139.4,280.8 1140,275.9 1140.7,278.5 1141.3,278.4 1142,280.1 1142.6,277.6 1143.3,272.8 1144,278 1144.6,279.6 1145.3,273.2 1145.9,276 1146.6,274.7 1147.3,274.5 1147.9,276.3 1148.6,272.5 1149.2,268.9 1149.9,271.4 1150.5,268 1151.2,274.7 1151.9,273.4 1152.5,266.4 1153.2,268.5 1153.8,263.6 1154.5,266.7 1155.1,265.3 1155.8,270.7 1156.5,266.4 1157.1,265.1 1157.8,266.7 1158.4,262.1 1159.1,264.3 1159.8,260 1160.4,259.6 1161.1,265.6 1161.7,252.4 1162.4,260.8 1163,256.5 1163.7,260.3 1164.4,255.2 1165,257 1165.7,252.3 1166.3,258.2 1167,252.7 1167.6,250.1 1168.3,244.7 1169,247.8 1169.6,254 1170.3,247.9 1170.9,247.1 1171.6,250.1 1172.2,248.9 1172.9,249 1173.6,247.2 1174.2,252.4 1174.9,243.4 1175.5,244.1 1176.2,244.5 1176.9,246.1 1177.5,248 1178.2,243.2 1178.8,244.6 1179.5,242.8 1180.1,249.2 1180.8,238.2 1181.5,243.1 1182.1,238.3 1182.8,238.1 1183.4,238.4 1184.1,238.9 1184.7,232.4 1185.4,232.8 1186.1,229.4 1186.7,223.2 1187.4,235.9 1188,229.2 1188.7,227.4 1189.4,224.1 1190,224.8 1190.7,225.5 1191.3,227 1192,223.4 1192.6,222.1 1193.3,217.8 1194,218.4 1194.6,219.5 1195.3,213.3 1195.9,218.9 1196.6,217.7 1197.2,221.7 1197.9,211.3 1198.6,211.8 1199.2,217.6 1199.9,207.4 1200.5,220.8 1201.2,214.2 1201.9,215.8 1202.5,214.3 1203.2,207 1203.8,213.3 1204.5,208.1 1205.1,209.8 1205.8,210 1206.5,210.1 1207.1,211.3 1207.8,208.4 1208.4,211.2 1209.1,208.2 1209.7,205 1210.4,207.5 1211.1,204.3 1211.7,208.3 1212.4,203.3 1213,202.9 1213.7,206.3 1214.3,197.4 1215,203.7 1215.7,200.3 1216.3,203.4 1217,202.7 1217.6,197.5 1218.3,201.2 1219,204.2 1219.6,198.6 1220.3,200.7 1220.9,205.2 1221.6,191.8 1222.2,192.8 1222.9,202.3 1223.6,195.9 1224.2,195.5 1224.9,192.4 1225.5,186.9 1226.2,197 1226.8,196.3 1227.5,197.8 1228.2,195.3 1228.8,190.2 1229.5,187.1 1230.1,193.2 1230.8,196.5 1231.5,192.9 1232.1,192.9 1232.8,199.2 1233.4,189 1234.1,189.6 1234.7,192.6 1235.4,188.1 1236.1,186.7 1236.7,187.3 1237.4,190.2 1238,185.5 1238.7,186.4 1239.3,187.9 1240,184 1240.7,184.5 1241.3,183.4 1242,186.1 1242.6,187.6 1243.3,183 1244,187 1244.6,182.4 1245.3,183.4 1245.9,182.7 1246.6,180.7 1247.2,184.4 1247.9,181 1248.6,176.2 1249.2,185.9 1249.9,179.9 1250.5,180.6 1251.2,180.7 1251.8,178 1252.5,175.7 1253.2,175.7 1253.8,176.3 1254.5,179.7 1255.1,176.3 1255.8,178.3 1256.4,169.5 1257.1,173.1 1257.8,173.1 1258.4,172 1259.1,177.2 1259.7,174 1260.4,173.5 1261.1,171 1261.7,173.1 1262.4,169 1263,175.8 1263.7,173.7 1264.3,171.6 1265,169 1265.7,173.2 1266.3,169.2 1267,174.4 1267.6,173.2 1268.3,168.8 1268.9,165.5 1269.6,175.6 1270.3,172 1270.9,172.8 1271.6,168.1 1272.2,171.7 1272.9,165.4 1273.6,171 1274.2,171.7 1274.9,168 1275.5,169.7 1276.2,167.1 1276.8,167.3 1277.5,168.6 1278.2,169 1278.8,168 1279.5,168.8 1280.1,164.2 1280.8,162.7 1281.4,168.2 1282.1,159.6 1282.8,161.7 1283.4,162.4 1284.1,168.4 1284.7,168 1285.4,174.9 1286,164.8 1286.7,164.5 1287.4,164.9 1288,161 1288.7,167.8 1289.3,162 1290,162.1 1290.7,164.8 1291.3,162.6 1292,165.3 1292.6,165.8 1293.3,165.7 1293.9,163.1 1294.6,160.4 1295.3,162.7 1295.9,159.3 1296.6,157.8 1297.2,157.4 1297.9,164.8 1298.5,157.5 1299.2,164.8 1299.9,160.9 1300.5,159.9 1301.2,160.8 1301.8,165.1 1302.5,155.9 1303.2,161.2 1303.8,158.2 1304.5,156.2 1305.1,152.9 1305.8,155.9 1306.4,155.6 1307.1,158.3 1307.8,160.5 1308.4,158.9 1309.1,156.6 1309.7,162.2 1310.4,155.1 1311,156.8 1311.7,155.4 1312.4,158.1 1313,157.3 1313.7,155.6 1314.3,157.3 1315,156.1 1315.7,153.1 1316.3,157.6 1317,153.1 1317.6,152.5 1318.3,156.3 1318.9,152.5 1319.6,153.8 1320.3,161.1 1320.9,155.9 1321.6,151.6 1322.2,151.4 1322.9,155.7 1323.5,153.6 1324.2,149.7 1324.9,154.1 1325.5,147.2 1326.2,155.6 1326.8,155.3 1327.5,156.2 1328.1,147.4 1328.8,152.8 1329.5,156.6 1330.1,151.9 1330.8,149.9 1331.4,154.2 1332.1,145.9 1332.8,149.6 1333.4,151 1334.1,148.2 1334.7,149.5 1335.4,151.8 1336,151.4 1336.7,148.6 1337.4,145.1 1338,144 1338.7,145.6 1339.3,146.6 1340,145.7 1340.6,156.1 1341.3,147.1 1342,147.1 1342.6,149.2 1343.3,143.4 1343.9,145.4 1344.6,148.7 1345.3,144.7 1345.9,149.6 1346.6,144.7 1347.2,147.1 1347.9,150.6 1348.5,149.4 1349.2,146.5 1349.9,146.4 1350.5,148 1351.2,144.5 1351.8,142.4 1352.5,148.3 1353.1,148.6 1353.8,146 1354.5,144.4 1355.1,141.6 1355.8,143 1356.4,143.7 1357.1,145.3 1357.7,146.9 1358.4,144.5 1359.1,145.3 1359.7,140.3 1360.4,144.3 1361,147.2 1361.7,141.7 1362.4,138 1363,145.4 1363.7,147.6 1364.3,145.3 1365,141.6 1365.6,143.9 1366.3,136.7 1367,142.8 1367.6,140.3 1368.3,145.6 1368.9,139.3 1369.6,148 1370.2,149 1370.9,147.5 1371.6,144.6 1372.2,139.4 1372.9,140.6 1373.5,144.1 1374.2,142.3 1374.9,139.2 1375.5,140.2 1376.2,138.4 1376.8,141.8 1377.5,140.3 1378.1,144.1 1378.8,142.3 1379.5,139.1 1380.1,144 1380.8,133.1 1381.4,135.5 1382.1,137.8 1382.7,141 1383.4,144.8 1384.1,141.5 1384.7,139.9 1385.4,138.9 1386,133.6 1386.7,136.9 1387.4,141.6 1388,139.3 1388.7,136.5 1389.3,136.2 1390,136 1390.6,132.2 1391.3,137 1392,136.8 1392.6,133.8 1393.3,136.7 1393.9,136.2 1394.6,137.5 1395.2,136.9 1395.9,137.2 1396.6,135.9 1397.2,134.3 1397.9,136 1398.5,136.2 1399.2,138.9 1399.8,136.1 1400.5,133.8 1401.2,138 1401.8,135.4 1402.5,137.8 1403.1,141.5 1403.8,137.5 1404.5,131.3 1405.1,132.2 1405.8,136.3 1406.4,128.6 1407.1,133.6 1407.7,135.1 1408.4,132.9 1409.1,131.7 1409.7,133.9 1410.4,132.8 1411,132.3 1411.7,135.2 1412.3,131.7 1413,132.8 1413.7,137 1414.3,135.8 1415,133.3 1415.6,132.5 1416.3,133.7 1417,133.5 1417.6,129 1418.3,130.4 1418.9,135.8 1419.6,129.7 1420.2,137.2 1420.9,134.3 1421.6,131 1422.2,130.7 1422.9,132.3 1423.5,134.2 1424.2,133.2 1424.8,135.6 1425.5,133 1426.2,129.7 1426.8,133.1 1427.5,133.5 1428.1,133.8 1428.8,128.5 1429.4,128.8 1430.1,132.6 1430.8,128.3 1431.4,135.9 1432.1,132.8 1432.7,125.3 1433.4,127.3 1434.1,130.6 1434.7,126.6 1435.4,129.7 1436,132.7 1436.7,131.8 1437.3,126.7 1438,132 1438.7,132.6 1439.3,127.6 1440,131.4 1440.6,127.7 1441.3,125.5 1441.9,132.7 1442.6,132.5 1443.3,126.4 1443.9,121.4 1444.6,131.9 1445.2,127.1 1445.9,129.8 1446.6,124.9 1447.2,130.1 1447.9,131.7 1448.5,128.9 1449.2,129.7 1449.8,129.2 1450.5,131 1451.2,126.6 1451.8,126.4 1452.5,122.3 1453.1,126.6 1453.8,127 1454.4,124.4 1455.1,131.3 1455.8,126.8 1456.4,136.2 1457.1,129.2 1457.7,125.1 1458.4,127.3 1459.1,129.4 1459.7,130.4 1460.4,131.5 1461,125.8 1461.7,129.9 1462.3,126.8 1463,129.7 1463.7,126.5 1464.3,126.7 1465,127.7 1465.6,124.8 1466.3,126.6 1466.9,127.7 1467.6,121.2 1468.3,124.9 1468.9,125 1469.6,129.2 1470.2,126.7 1470.9,126.1 1471.5,124 1472.2,127.3 1472.9,125.1 1473.5,128.8 1474.2,125.1 1474.8,125.7 1475.5,127.5 1476.2,127.1 1476.8,121.2 1477.5,126.2 1478.1,125.4 1478.8,120.2 1479.4,121.9 1480.1,128.2 1480.8,126.4 1481.4,124 1482.1,128 1482.7,120.2 1483.4,129.2 1484,123.5 1484.7,129.5 1485.4,123.9 1486,123.6 1486.7,125.8 1487.3,124.2 1488,127.9 1488.7,127.2 1489.3,123.8 1490,124.2 1490.6,124.7 1491.3,129.7 1491.9,124.6 1492.6,127.6 1493.3,124.5 1493.9,122.1 1494.6,119.7 1495.2,125.1 1495.9,125.7 1496.5,125 1497.2,128 1497.9,126.3 1498.5,129.4 1499.2,125.9 1499.8,121.4 1500.5,127.2 1501.1,120.8 1501.8,123.4 1502.5,120 1503.1,126.4 1503.8,127.7 1504.4,119.6 1505.1,120.8 1505.8,121.3 1506.4,117.7 1507.1,122.8 1507.7,122.3 1508.4,118.9 1509,116.2 1509.7,118.4 1510.4,122.7 1511,118.1 1511.7,122.5 1512.3,124.3 1513,124.3 1513.6,122 1514.3,122.8 1515,126.3 1515.6,120.2 1516.3,121.9 1516.9,125.5 1517.6,118.3 1518.3,123.4 1518.9,114 1519.6,116.7 1520.2,116.7 1520.9,120.7 1521.5,121.1 1522.2,114.4 1522.9,126.4 1523.5,127.1 1524.2,124.5 1524.8,120.2 1525.5,122.1 1526.1,118.6 1526.8,118.9 1527.5,118.2 1528.1,121.3 1528.8,118.8 1529.4,118.9 1530.1,125.3 1530.8,119 1531.4,121.7 1532.1,121 1532.7,118.4 1533.4,118.4 1534,122.9 1534.7,117.9 1535.4,121.3 1536,118 1536.7,118.1 1537.3,123.4 1538,113.9 1538.6,116.8 1539.3,117 1540,119.8 1540.6,116.5 1541.3,118.7 1541.9,120.3 1542.6,123.9 1543.2,120.9 1543.9,114 1544.6,123 1545.2,117.8 1545.9,114.9 1546.5,118.3 1547.2,122.6 1547.9,116.3 1548.5,114.8 1549.2,115.9 1549.8,110 1550.5,120.8 1551.1,117.2 1551.8,119.4 1552.5,118.1 1553.1,116.6 1553.8,120.7 1554.4,120.6 1555.1,115.7 1555.7,119 1556.4,115.6 1557.1,115.1 1557.7,117.8 1558.4,116.7 1559,116.1 1559.7,110.5 1560.4,113.8 1561,116.6 1561.7,118.3 1562.3,118.1 1563,114.5 1563.6,117.5 1564.3,109.3 1565,117.3 1565.6,121.4 1566.3,115.3 1566.9,113 1567.6,119 1568.2,115.5 1568.9,115.8 1569.6,117.4 1570.2,114.8 1570.9,117.8 1571.5,113.6 1572.2,113.4 1572.9,116.4 1573.5,117.6 1574.2,116.2 1574.8,117.4 1575.5,115.3 1576.1,113.5 1576.8,116.7 1577.5,110.8 1578.1,115.3 1578.8,118 1579.4,116.8 1580.1,118.4 1580.7,114.4 1581.4,114.3 1582.1,113.6 1582.7,113.5 1583.4,115.5 1584,117.7 1584.7,114.7 1585.3,119.3 1586,116 1586.7,108.7 1587.3,116.5 1588,113.1 1588.6,114.7 1589.3,112.3 1590,112.8 1590.6,120.2 1591.3,117.2 1591.9,113.1 1592.6,111.9 1593.2,112.9 1593.9,112.1 1594.6,115.7 1595.2,117.1 1595.9,109.3 1596.5,118 1597.2,117.6 1597.8,112.8 1598.5,115.8 1599.2,111.2 1599.8,110.9 1600.5,113 1601.1,111.1 1601.8,111.7 1602.5,115.5 1603.1,109.3 1603.8,116.6 1604.4,116.9 1605.1,111.9 1605.7,114.7 1606.4,109.7 1607.1,111.9 1607.7,111.3 1608.4,110.2 1609,115.3 1609.7,113.5 1610.3,115.2 1611,107.9 1611.7,112 1612.3,111 1613,107.7 1613.6,115.2 1614.3,112.3 1614.9,113.1 1615.6,116.3 1616.3,110.3 1616.9,116.4 1617.6,106.4 1618.2,115.7 1618.9,114 1619.6,108.2 1620.2,107.8 1620.9,118.9 1621.5,109.6 1622.2,114.8 1622.8,112.4 1623.5,111.6 1624.2,110.7 1624.8,107.4 1625.5,107.6 1626.1,108.5 1626.8,113.5 1627.4,105.2 1628.1,107.6 1628.8,115.5 1629.4,110.2 1630.1,109 1630.7,107.5 1631.4,105.2 1632.1,108 1632.7,106.8 1633.4,108.6 1634,107.2 1634.7,105.5 1635.3,113.8 1636,103.7 1636.7,112 1637.3,108.4 1638,107.9 1638.6,105.9 1639.3,109.6 1639.9,108.1 1640.6,103.2 1641.3,112.2 1641.9,109.6 1642.6,109 1643.2,108.9 1643.9,112.2 1644.6,108.9 1645.2,111.1 1645.9,106.9 1646.5,114.7 1647.2,106.7 1647.8,105.5 1648.5,106.6 1649.2,111.2 1649.8,113.1 1650.5,109.5 1651.1,114.6 1651.8,105.3 1652.4,106.1 1653.1,106.8 1653.8,111.9 1654.4,105.3 1655.1,108 1655.7,104.5 1656.4,108.5 1657,105.3 1657.7,116.6 1658.4,110 1659,106.2 1659.7,110.1 1660.3,107.4 1661,105.7 1661.7,109 1662.3,103.1 1663,111.7 1663.6,111 1664.3,104 1664.9,106.8 1665.6,101.6" fill="none" stroke="#8b6cb7" stroke-width="6" stroke-linejoin="round"/>
<polyline points="1007.8,495.8 1008.5,493.9 1009.1,489.3 1009.8,485.9 1010.4,478.3 1011.1,473 1011.7,468.5 1012.4,463.9 1013.1,458 1013.7,454.2 1014.4,450.4 1015,446.1 1015.7,443.4 1016.4,439.3 1017,434.4 1017.7,427.8 1018.3,427.1 1019,422.1 1019.6,416.3 1020.3,415 1021,411.9 1021.6,410.8 1022.3,409.3 1022.9,409.4 1023.6,404.4 1024.2,404 1024.9,400.9 1025.6,400.1 1026.2,397.6 1026.9,398 1027.5,397.5 1028.2,394.7 1028.8,395.8 1029.5,392.1 1030.2,392.1 1030.8,389 1031.5,388.1 1032.1,389.5 1032.8,383 1033.5,386 1034.1,381.6 1034.8,382.8 1035.4,383.7 1036.1,384.9 1036.7,382.1 1037.4,380.5 1038.1,379.3 1038.7,378.9 1039.4,379.5 1040,379.6 1040.7,381.5 1041.3,378.4 1042,378 1042.7,382 1043.3,381.5 1044,380 1044.6,380.5 1045.3,381.7 1046,380.4 1046.6,379.5 1047.3,380.5 1047.9,381.1 1048.6,377.9 1049.2,378.1 1049.9,379.2 1050.6,374.7 1051.2,376.4 1051.9,377.6 1052.5,373.9 1053.2,375.7 1053.8,377.9 1054.5,374.4 1055.2,370.9 1055.8,375.6 1056.5,372.2 1057.1,371.7 1057.8,371.1 1058.5,366.7 1059.1,366.8 1059.8,365.7 1060.4,368.2 1061.1,366.3 1061.7,362.7 1062.4,362.9 1063.1,362.7 1063.7,363.2 1064.4,361.9 1065,357.7 1065.7,361.2 1066.3,356.4 1067,357.1 1067.7,354.7 1068.3,356.2 1069,357.7 1069.6,355.9 1070.3,357.2 1070.9,356.7 1071.6,354 1072.3,352.9 1072.9,355.8 1073.6,354.2 1074.2,354.4 1074.9,354.4 1075.6,351.2 1076.2,353.9 1076.9,351.4 1077.5,349.7 1078.2,349 1078.8,348.1 1079.5,349.1 1080.2,348.3 1080.8,349.2 1081.5,348.9 1082.1,349.5 1082.8,347 1083.4,346 1084.1,345.6 1084.8,344.1 1085.4,343.5 1086.1,340.6 1086.7,340.8 1087.4,337 1088.1,340.4 1088.7,334.9 1089.4,337 1090,332.3 1090.7,332.9 1091.3,331.7 1092,327.8 1092.7,332.6 1093.3,330.7 1094,328.3 1094.6,329.2 1095.3,322.3 1095.9,322.7 1096.6,325.7 1097.3,324 1097.9,321.2 1098.6,321.4 1099.2,319.8 1099.9,318.7 1100.5,316.9 1101.2,315.2 1101.9,316.4 1102.5,315.4 1103.2,317 1103.8,311.1 1104.5,313.8 1105.2,312.4 1105.8,311.1 1106.5,311.4 1107.1,314.6 1107.8,314.5 1108.4,305.7 1109.1,311.6 1109.8,305.4 1110.4,305.9 1111.1,305.6 1111.7,304.2 1112.4,308.8 1113,309.2 1113.7,301.3 1114.4,305.8 1115,304.7 1115.7,302.1 1116.3,301.5 1117,301.2 1117.7,300.1 1118.3,297.9 1119,298.7 1119.6,298.4 1120.3,297.4 1120.9,293.5 1121.6,296.4 1122.3,290.7 1122.9,291 1123.6,288.6 1124.2,285.9 1124.9,289.3 1125.5,286 1126.2,289.5 1126.9,285 1127.5,286.5 1128.2,281.4 1128.8,280.7 1129.5,282 1130.2,278.5 1130.8,276.3 1131.5,277.2 1132.1,278.7 1132.8,275.9 1133.4,275.1 1134.1,278.6 1134.8,274.1 1135.4,270.7 1136.1,271.8 1136.7,268.4 1137.4,270.2 1138,274.1 1138.7,271.7 1139.4,267.6 1140,267.1 1140.7,266.6 1141.3,275.3 1142,270.1 1142.6,266.7 1143.3,273.2 1144,269.5 1144.6,266.7 1145.3,266.7 1145.9,265.9 1146.6,267.8 1147.3,267.5 1147.9,268.7 1148.6,265.1 1149.2,264.6 1149.9,267.5 1150.5,269.3 1151.2,270.8 1151.9,268.4 1152.5,262.2 1153.2,264 1153.8,266.2 1154.5,262.1 1155.1,260.8 1155.8,264.3 1156.5,263.5 1157.1,261.6 1157.8,262.1 1158.4,259.8 1159.1,263.7 1159.8,260.5 1160.4,259.2 1161.1,259.3 1161.7,258.6 1162.4,263 1163,263.3 1163.7,259.4 1164.4,259 1165,266 1165.7,262.6 1166.3,264 1167,261.4 1167.6,260.1 1168.3,260.1 1169,263.3 1169.6,264.7 1170.3,259.8 1170.9,258.8 1171.6,260.8 1172.2,259.9 1172.9,257.3 1173.6,255.6 1174.2,255.1 1174.9,260.7 1175.5,255.1 1176.2,254.9 1176.9,254.4 1177.5,251.7 1178.2,255.9 1178.8,254 1179.5,254.9 1180.1,257 1180.8,252.3 1181.5,252.7 1182.1,250.1 1182.8,253.9 1183.4,252.2 1184.1,253.4 1184.7,254.4 1185.4,245.9 1186.1,253.3 1186.7,245.1 1187.4,245.1 1188,242 1188.7,251.3 1189.4,245.1 1190,247.6 1190.7,243.8 1191.3,249.8 1192,241.2 1192.6,244.2 1193.3,241.9 1194,242.9 1194.6,247.2 1195.3,243.8 1195.9,243.6 1196.6,244.6 1197.2,240.7 1197.9,240.1 1198.6,238.5 1199.2,240 1199.9,244.6 1200.5,240.9 1201.2,239.3 1201.9,240.7 1202.5,238.2 1203.2,242.5 1203.8,242 1204.5,237.2 1205.1,244.2 1205.8,235.5 1206.5,240 1207.1,237.6 1207.8,240.6 1208.4,240.5 1209.1,237.9 1209.7,238.3 1210.4,233.1 1211.1,226.8 1211.7,236.6 1212.4,237.2 1213,234.6 1213.7,237.6 1214.3,238.7 1215,230.3 1215.7,236.1 1216.3,240.3 1217,234.3 1217.6,234.1 1218.3,234 1219,235.1 1219.6,226.3 1220.3,234.5 1220.9,231.8 1221.6,234.5 1222.2,230.6 1222.9,231.9 1223.6,232.8 1224.2,234.5 1224.9,230.9 1225.5,232.1 1226.2,227.9 1226.8,230.3 1227.5,231.4 1228.2,235.6 1228.8,227.3 1229.5,229.9 1230.1,227.7 1230.8,230.7 1231.5,226.4 1232.1,230.9 1232.8,225.1 1233.4,232.8 1234.1,227.9 1234.7,226.8 1235.4,227.5 1236.1,227.7 1236.7,227.8 1237.4,229.5 1238,226.4 1238.7,224.2 1239.3,221.7 1240,224 1240.7,222.4 1241.3,227.7 1242,221.5 1242.6,223.1 1243.3,223.6 1244,228.2 1244.6,219.1 1245.3,223 1245.9,225.8 1246.6,218.1 1247.2,224.5 1247.9,215.8 1248.6,221.4 1249.2,218.6 1249.9,219.7 1250.5,221.6 1251.2,224.5 1251.8,217.3 1252.5,223.9 1253.2,223.7 1253.8,214.2 1254.5,218.1 1255.1,219.3 1255.8,221.5 1256.4,218.8 1257.1,215.2 1257.8,214.6 1258.4,217.7 1259.1,213 1259.7,218.7 1260.4,214.7 1261.1,211.9 1261.7,220.6 1262.4,214.1 1263,219.6 1263.7,216.2 1264.3,215.8 1265,210.7 1265.7,207.6 1266.3,212.2 1267,211.4 1267.6,208 1268.3,217.7 1268.9,217.8 1269.6,212.5 1270.3,211 1270.9,209.5 1271.6,207 1272.2,210.9 1272.9,209.4 1273.6,210.9 1274.2,211.7 1274.9,214.9 1275.5,215.7 1276.2,208.9 1276.8,207.2 1277.5,208.7 1278.2,204.5 1278.8,211.9 1279.5,208.5 1280.1,202.9 1280.8,206.5 1281.4,209.6 1282.1,207.8 1282.8,203.9 1283.4,207.2 1284.1,206.1 1284.7,203.1 1285.4,205.6 1286,200.9 1286.7,202.9 1287.4,200.1 1288,206.2 1288.7,206.1 1289.3,201.5 1290,203 1290.7,206.4 1291.3,197.3 1292,201.3 1292.6,202.7 1293.3,202.5 1293.9,199.1 1294.6,194.4 1295.3,197.7 1295.9,202.4 1296.6,197.3 1297.2,199.3 1297.9,197.8 1298.5,200.6 1299.2,195.8 1299.9,198.3 1300.5,197.7 1301.2,193.6 1301.8,197.3 1302.5,198.8 1303.2,196.8 1303.8,193.3 1304.5,193.2 1305.1,190.8 1305.8,191 1306.4,188 1307.1,196.4 1307.8,193.3 1308.4,192.9 1309.1,199.5 1309.7,192.5 1310.4,194.2 1311,187.9 1311.7,190.3 1312.4,189.2 1313,191.2 1313.7,187.3 1314.3,188.2 1315,187.9 1315.7,190.3 1316.3,185.6 1317,189.5 1317.6,190.2 1318.3,188.8 1318.9,191.6 1319.6,188.2 1320.3,188.2 1320.9,188.1 1321.6,188.4 1322.2,188.2 1322.9,186.8 1323.5,188.4 1324.2,183.9 1324.9,188.3 1325.5,182.2 1326.2,189.3 1326.8,183.5 1327.5,184.3 1328.1,184.1 1328.8,186 1329.5,178.8 1330.1,182.8 1330.8,185.8 1331.4,184.8 1332.1,180.2 1332.8,186.9 1333.4,188.6 1334.1,180.5 1334.7,181.5 1335.4,179.1 1336,180.6 1336.7,181.6 1337.4,188.1 1338,178 1338.7,187 1339.3,181.4 1340,180.2 1340.6,179.6 1341.3,182.6 1342,179.6 1342.6,179.8 1343.3,179.7 1343.9,180.2 1344.6,180.6 1345.3,178.8 1345.9,177.2 1346.6,181.1 1347.2,179.4 1347.9,182 1348.5,173 1349.2,178.2 1349.9,176 1350.5,175 1351.2,176.5 1351.8,174.9 1352.5,171.8 1353.1,173.7 1353.8,179.6 1354.5,176.2 1355.1,174.1 1355.8,176.3 1356.4,170.5 1357.1,180.2 1357.7,179 1358.4,175.3 1359.1,176.4 1359.7,173.3 1360.4,173.7 1361,174.1 1361.7,173.1 1362.4,176 1363,170.9 1363.7,175.6 1364.3,171.1 1365,174.1 1365.6,177.1 1366.3,178.3 1367,168.9 1367.6,174.7 1368.3,176.9 1368.9,172.6 1369.6,176.3 1370.2,169.8 1370.9,171.9 1371.6,178.2 1372.2,173.6 1372.9,174 1373.5,170.6 1374.2,170.3 1374.9,173.3 1375.5,170.7 1376.2,175.1 1376.8,167.9 1377.5,167.3 1378.1,171 1378.8,165.3 1379.5,171.1 1380.1,173.3 1380.8,174.3 1381.4,165.4 1382.1,167.7 1382.7,171 1383.4,167.3 1384.1,169.7 1384.7,163.5 1385.4,167.8 1386,169.8 1386.7,166 1387.4,169.1 1388,167.9 1388.7,166.7 1389.3,164.6 1390,166.7 1390.6,168.1 1391.3,166.4 1392,168.8 1392.6,168.2 1393.3,163.4 1393.9,166.7 1394.6,169.4 1395.2,168 1395.9,165.3 1396.6,162.2 1397.2,166.3 1397.9,166.4 1398.5,169 1399.2,165.3 1399.8,165.5 1400.5,166.3 1401.2,169.1 1401.8,167.8 1402.5,170.4 1403.1,163.3 1403.8,167.6 1404.5,165.2 1405.1,168.7 1405.8,162.9 1406.4,166.2 1407.1,165.9 1407.7,161.2 1408.4,163.6 1409.1,162.8 1409.7,161.9 1410.4,161.1 1411,158.9 1411.7,163.9 1412.3,162.8 1413,162.8 1413.7,161.9 1414.3,163 1415,160 1415.6,159 1416.3,162.6 1417,162.3 1417.6,162.6 1418.3,162.1 1418.9,157.3 1419.6,157.3 1420.2,158.4 1420.9,165.5 1421.6,161.8 1422.2,156.8 1422.9,162.6 1423.5,161.7 1424.2,158.1 1424.8,161.2 1425.5,159.6 1426.2,159 1426.8,159.6 1427.5,162 1428.1,160.4 1428.8,157.3 1429.4,156.4 1430.1,161.8 1430.8,164 1431.4,154.5 1432.1,160.7 1432.7,153.1 1433.4,160.7 1434.1,156.3 1434.7,160.1 1435.4,158.4 1436,154.3 1436.7,153.6 1437.3,152.6 1438,149.7 1438.7,146.6 1439.3,152.7 1440,155.8 1440.6,154.3 1441.3,156.7 1441.9,153.8 1442.6,156.8 1443.3,156 1443.9,153.4 1444.6,151 1445.2,148.8 1445.9,156.1 1446.6,153.9 1447.2,148.6 1447.9,151.5 1448.5,152.5 1449.2,158 1449.8,156.3 1450.5,152.6 1451.2,155 1451.8,148.6 1452.5,151.5 1453.1,151.5 1453.8,148.6 1454.4,155.9 1455.1,151.2 1455.8,155.8 1456.4,147.4 1457.1,154.5 1457.7,154 1458.4,148.6 1459.1,152.4 1459.7,152.1 1460.4,153.2 1461,149.9 1461.7,144.6 1462.3,147.9 1463,151.2 1463.7,148.8 1464.3,150.4 1465,143.4 1465.6,149.4 1466.3,145 1466.9,150.4 1467.6,153.6 1468.3,150.6 1468.9,148.7 1469.6,152 1470.2,143.4 1470.9,147.7 1471.5,152.1 1472.2,147.5 1472.9,143.4 1473.5,145.7 1474.2,147.7 1474.8,149.9 1475.5,148.7 1476.2,148.9 1476.8,148.4 1477.5,148.6 1478.1,150.7 1478.8,142.4 1479.4,155.4 1480.1,148.5 1480.8,153.8 1481.4,147.7 1482.1,150.8 1482.7,148.5 1483.4,148 1484,147 1484.7,146 1485.4,150.7 1486,148.7 1486.7,151 1487.3,141.8 1488,140.5 1488.7,147.2 1489.3,150.3 1490,142.2 1490.6,142.3 1491.3,142.6 1491.9,144.6 1492.6,148 1493.3,144.5 1493.9,145.5 1494.6,139.9 1495.2,138.9 1495.9,145 1496.5,145 1497.2,141.9 1497.9,144.5 1498.5,144.1 1499.2,145.4 1499.8,144.7 1500.5,143.3 1501.1,148.2 1501.8,140.6 1502.5,146.7 1503.1,141.1 1503.8,144.8 1504.4,139.8 1505.1,138.5 1505.8,140 1506.4,137.9 1507.1,142.8 1507.7,147.2 1508.4,143.5 1509,143.1 1509.7,142.7 1510.4,140.3 1511,136.6 1511.7,137.9 1512.3,143.4 1513,136.5 1513.6,145.5 1514.3,137.1 1515,139.1 1515.6,137.6 1516.3,136.5 1516.9,138.5 1517.6,139.1 1518.3,138.8 1518.9,140.7 1519.6,139.7 1520.2,140.9 1520.9,137.9 1521.5,136.3 1522.2,136.9 1522.9,138.4 1523.5,141.9 1524.2,139 1524.8,137.2 1525.5,138.8 1526.1,134.6 1526.8,136.8 1527.5,135.9 1528.1,134.8 1528.8,139.4 1529.4,135.1 1530.1,135.6 1530.8,134.1 1531.4,138.1 1532.1,134 1532.7,143 1533.4,133.9 1534,139.3 1534.7,138.2 1535.4,139.1 1536,137 1536.7,133.5 1537.3,142.6 1538,136.8 1538.6,132.9 1539.3,139.7 1540,135.7 1540.6,133.8 1541.3,137.6 1541.9,135.8 1542.6,137.3 1543.2,135.3 1543.9,138.3 1544.6,136.5 1545.2,134.1 1545.9,135.1 1546.5,138.2 1547.2,134.8 1547.9,132.8 1548.5,135.1 1549.2,136.2 1549.8,135.9 1550.5,130.6 1551.1,131.1 1551.8,133.4 1552.5,136.5 1553.1,134.7 1553.8,138.4 1554.4,138.4 1555.1,136.2 1555.7,134.3 1556.4,133.3 1557.1,131.2 1557.7,134.1 1558.4,130.3 1559,135.9 1559.7,128.5 1560.4,136.7 1561,132.6 1561.7,131 1562.3,133.5 1563,133.4 1563.6,136.9 1564.3,129.2 1565,124.7 1565.6,135.5 1566.3,132.7 1566.9,134.7 1567.6,125.6 1568.2,131.4 1568.9,129.6 1569.6,132.7 1570.2,135.1 1570.9,128.9 1571.5,133.5 1572.2,133.6 1572.9,126 1573.5,131.7 1574.2,131.9 1574.8,131 1575.5,133.2 1576.1,135.3 1576.8,133.8 1577.5,135 1578.1,134.1 1578.8,131.1 1579.4,129.6 1580.1,127.9 1580.7,125.8 1581.4,129.5 1582.1,132 1582.7,130.6 1583.4,130.8 1584,133.3 1584.7,133.5 1585.3,130.1 1586,130.4 1586.7,126.4 1587.3,133.8 1588,130 1588.6,122.9 1589.3,130.4 1590,129.8 1590.6,132.4 1591.3,130.2 1591.9,131.5 1592.6,128.5 1593.2,132.5 1593.9,126.7 1594.6,129.5 1595.2,130.4 1595.9,128.8 1596.5,132.2 1597.2,130.8 1597.8,130.3 1598.5,130.1 1599.2,130.8 1599.8,131.1 1600.5,126.6 1601.1,129.2 1601.8,128.4 1602.5,128.2 1603.1,129.3 1603.8,129 1604.4,125.2 1605.1,128.2 1605.7,131.7 1606.4,130.6 1607.1,123.3 1607.7,126.9 1608.4,129.6 1609,124.7 1609.7,128.9 1610.3,132.7 1611,129.6 1611.7,125.6 1612.3,129.2 1613,123 1613.6,127.7 1614.3,122.2 1614.9,126.4 1615.6,122.4 1616.3,125.7 1616.9,126.5 1617.6,130.6 1618.2,128.7 1618.9,132.7 1619.6,131.2 1620.2,125.6 1620.9,129.3 1621.5,124.5 1622.2,127.3 1622.8,125.8 1623.5,124.3 1624.2,129.9 1624.8,125.1 1625.5,127.9 1626.1,125.9 1626.8,129.4 1627.4,128 1628.1,122.2 1628.8,127.5 1629.4,134.1 1630.1,129.9 1630.7,129.5 1631.4,127.9 1632.1,130.7 1632.7,124.5 1633.4,124.2 1634,124.7 1634.7,121.9 1635.3,122.9 1636,128.9 1636.7,123.6 1637.3,123.4 1638,129 1638.6,126.8 1639.3,123.7 1639.9,123.1 1640.6,124.3 1641.3,125 1641.9,127.7 1642.6,125.6 1643.2,121.9 1643.9,123.8 1644.6,120.3 1645.2,122.5 1645.9,128.7 1646.5,120 1647.2,122.3 1647.8,125.9 1648.5,124 1649.2,122.5 1649.8,121 1650.5,120.6 1651.1,124.9 1651.8,122.4 1652.4,123.5 1653.1,124.3 1653.8,118.1 1654.4,117.1 1655.1,123.2 1655.7,124.5 1656.4,121.6 1657,123.8 1657.7,117 1658.4,120.2 1659,119.5 1659.7,119.3 1660.3,126.3 1661,112.9 1661.7,118.9 1662.3,123.1 1663,118.9 1663.6,116.6 1664.3,120.5 1664.9,115.6 1665.6,121.7" fill="none" stroke="#c4372f" stroke-width="6" stroke-linejoin="round"/>
<circle cx="1007.8" cy="497.8" r="9.1" fill="#8b6cb7"/>
<circle cx="1073.6" cy="397.5" r="9.1" fill="#8b6cb7"/>
<circle cx="1139.4" cy="368.8" r="9.1" fill="#8b6cb7"/>
<circle cx="1205.1" cy="315.3" r="9.1" fill="#8b6cb7"/>
<circle cx="1270.9" cy="282.3" r="9.1" fill="#8b6cb7"/>
<circle cx="1336.7" cy="260" r="9.1" fill="#8b6cb7"/>
<circle cx="1402.5" cy="239.3" r="9.1" fill="#8b6cb7"/>
<circle cx="1468.3" cy="233" r="9.1" fill="#8b6cb7"/>
<circle cx="1534" cy="227.3" r="9.1" fill="#8b6cb7"/>
<circle cx="1599.8" cy="212.7" r="9.1" fill="#8b6cb7"/>
<circle cx="1665.6" cy="211.9" r="9.1" fill="#8b6cb7"/>
<circle cx="1007.8" cy="497.8" r="9.1" fill="#c4372f"/>
<circle cx="1073.6" cy="379.4" r="9.1" fill="#c4372f"/>
<circle cx="1139.4" cy="349.2" r="9.1" fill="#c4372f"/>
<circle cx="1205.1" cy="309.8" r="9.1" fill="#c4372f"/>
<circle cx="1270.9" cy="283.8" r="9.1" fill="#c4372f"/>
<circle cx="1336.7" cy="258.5" r="9.1" fill="#c4372f"/>
<circle cx="1402.5" cy="243" r="9.1" fill="#c4372f"/>
<circle cx="1468.3" cy="227.4" r="9.1" fill="#c4372f"/>
<circle cx="1534" cy="207.3" r="9.1" fill="#c4372f"/>
<circle cx="1599.8" cy="194" r="9.1" fill="#c4372f"/>
<circle cx="1665.6" cy="191.3" r="9.1" fill="#c4372f"/>
<polyline points="1007.8,497.8 1073.6,397.5 1139.4,368.8 1205.1,315.3 1270.9,282.3 1336.7,260 1402.5,239.3 1468.3,233 1534,227.3 1599.8,212.7 1665.6,211.9" fill="none" stroke="#8b6cb7" stroke-width="4.2" stroke-linejoin="round"/>
<polyline points="1007.8,497.8 1073.6,379.4 1139.4,349.2 1205.1,309.8 1270.9,283.8 1336.7,258.5 1402.5,243 1468.3,227.4 1534,207.3 1599.8,194 1665.6,191.3" fill="none" stroke="#c4372f" stroke-width="4.2" stroke-linejoin="round"/>
<line x1="975.4000000000001" y1="41" x2="975.4000000000001" y2="521.3" stroke="#1f1f1f" stroke-width="2.6"/>
<line x1="974.1" y1="520" x2="1698.4" y2="520" stroke="#1f1f1f" stroke-width="2.6"/>
<g font-family="Liberation Sans, sans-serif" font-size="38" fill="#1f1f1f" stroke="#1f1f1f" stroke-width="0.35">
<text x="171.5" y="513.9" text-anchor="end">0</text>
<text x="967.5" y="512.1" text-anchor="end">0</text>
<text x="171.5" y="399.5" text-anchor="end">100</text>
<text x="967.5" y="410.1" text-anchor="end">100</text>
<text x="171.5" y="285.1" text-anchor="end">200</text>
<text x="967.5" y="308.2" text-anchor="end">200</text>
<text x="171.5" y="170.7" text-anchor="end">300</text>
<text x="967.5" y="206.2" text-anchor="end">300</text>
<text x="171.5" y="56.3" text-anchor="end">400</text>
<text x="967.5" y="104.2" text-anchor="end">400</text>
<text x="212" y="555.3" text-anchor="middle">0.0</text>
<text x="1007.8" y="555.3" text-anchor="middle">0.0</text>
<text x="343.5" y="555.3" text-anchor="middle">0.2</text>
<text x="1139.4" y="555.3" text-anchor="middle">0.2</text>
<text x="475" y="555.3" text-anchor="middle">0.4</text>
<text x="1270.9" y="555.3" text-anchor="middle">0.4</text>
<text x="606.6" y="555.3" text-anchor="middle">0.6</text>
<text x="1402.5" y="555.3" text-anchor="middle">0.6</text>
<text x="738.1" y="555.3" text-anchor="middle">0.8</text>
<text x="1534" y="555.3" text-anchor="middle">0.8</text>
<text x="869.6" y="555.3" text-anchor="middle">1.0</text>
<text x="1665.6" y="555.3" text-anchor="middle">1.0</text>
<text x="539.8" y="599.6" text-anchor="middle" font-size="37.6">Time steps (1e6)</text>
<text x="1336" y="599.2" text-anchor="middle" font-size="37.6">Time steps (1e6)</text>
<text transform="translate(92.7,282.1) rotate(-90) scale(1,1.06)" text-anchor="middle" font-size="37.1">Average Value</text>
</g>
<g font-family="Liberation Sans, sans-serif" font-size="41.5" fill="#1f1f1f" stroke="#1f1f1f" stroke-width="0.35">
<rect x="292.8" y="397.7" width="43.9" height="22.5" fill="#c4372f" stroke="none"/>
<rect x="292.8" y="456.9" width="43.9" height="22.7" fill="#8b6cb7" stroke="none"/>
<text transform="translate(347.3,424.6) scale(1,1.085)">DQ-AC</text>
<text transform="translate(347.3,484.2) scale(1,1.085)">DDQN-AC</text>
<line x1="562.2" y1="411.1" x2="603.2" y2="411.1" stroke="#c4372f" stroke-width="4.3" stroke-linecap="round"/>
<circle cx="582.6" cy="411.1" r="9" fill="#c4372f" stroke="none"/>
<line x1="562.2" y1="470.2" x2="603.2" y2="470.2" stroke="#8b6cb7" stroke-width="4.3" stroke-linecap="round"/>
<circle cx="582.6" cy="470.2" r="9" fill="#8b6cb7" stroke="none"/>
<text transform="translate(615.3,424.6) scale(0.98,1.085)">True</text><text transform="translate(707.8,424.6) scale(1,1.085)">DQ-AC</text>
<text transform="translate(615.3,484.1) scale(0.98,1.085)">True</text><text transform="translate(707.8,484.1) scale(1,1.085)">DDQN-AC</text>
</g>
<g font-family="Liberation Serif, serif" font-size="63" fill="#000" stroke="#000" stroke-width="0.5">
<text x="513.9" y="688.2" text-anchor="middle">(a) Hopper-v1</text>
<text x="1340.8" y="687.9" text-anchor="middle">(b) Walker2d-v1</text>
</g>
</svg>
<div class="cap" style="top:789.6px;width:1656.5px"><i>Figure 2.</i> Measuring overestimation bias in the value estimates of</div>
<div class="cap" style="top:866.9px;width:1663.4px">actor critic variants of Double DQN (DDQN-AC) and Double Q-</div>
<div class="cap" style="top:945.4px;width:1653.6px">learning (DQ-AC) on MuJoCo environments over 1 million time</div>
<div class="cap cap1" style="top:1023.0px;width:1653.6px">steps.</div>
</body></html>
